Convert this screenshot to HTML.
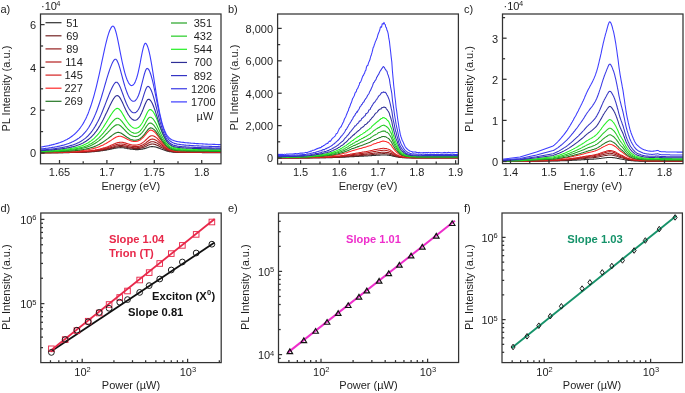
<!DOCTYPE html>
<html><head><meta charset="utf-8"><style>
html,body{margin:0;padding:0;background:#fff;}
body{width:685px;height:393px;overflow:hidden;}
svg{display:block;font-family:"Liberation Sans", sans-serif;will-change:transform;}
</style></head><body>
<svg width="685" height="393" viewBox="0 0 685 393">
<rect width="685" height="393" fill="#fff"/>
<clipPath id="ca"><rect x="40.5" y="14.0" width="180.5" height="149.8"/></clipPath>
<g clip-path="url(#ca)">
<polyline points="40.5,152.8 41.2,152.8 41.9,152.8 42.6,152.8 43.3,152.8 44.0,152.8 44.7,152.8 45.4,152.8 46.1,152.8 46.8,152.8 47.5,152.8 48.2,152.8 48.9,152.8 49.6,152.7 50.3,152.7 51.0,152.7 51.7,152.7 52.4,152.7 53.1,152.7 53.8,152.7 54.5,152.7 55.2,152.7 55.9,152.7 56.6,152.7 57.3,152.7 58.0,152.7 58.7,152.7 59.4,152.7 60.1,152.7 60.8,152.7 61.5,152.6 62.2,152.6 62.9,152.6 63.6,152.6 64.2,152.6 64.9,152.6 65.6,152.6 66.3,152.6 67.0,152.6 67.7,152.6 68.4,152.6 69.1,152.6 69.8,152.5 70.5,152.5 71.2,152.5 71.9,152.5 72.6,152.5 73.3,152.5 74.0,152.5 74.7,152.5 75.4,152.4 76.1,152.4 76.8,152.4 77.5,152.4 78.2,152.4 78.9,152.3 79.6,152.3 80.3,152.3 81.0,152.3 81.7,152.3 82.4,152.2 83.1,152.2 83.8,152.2 84.5,152.2 85.2,152.1 85.9,152.1 86.6,152.1 87.3,152.0 88.0,152.0 88.7,152.0 89.3,151.9 90.0,151.9 90.7,151.8 91.4,151.8 92.1,151.7 92.8,151.7 93.5,151.6 94.2,151.6 94.9,151.5 95.6,151.5 96.3,151.4 97.0,151.3 97.7,151.2 98.4,151.2 99.1,151.1 99.8,151.0 100.5,150.9 101.2,150.8 101.9,150.7 102.6,150.6 103.3,150.5 104.0,150.4 104.7,150.3 105.4,150.2 106.1,150.1 106.8,149.9 107.5,149.8 108.2,149.7 108.9,149.5 109.6,149.4 110.3,149.3 111.0,149.1 111.7,149.0 112.4,148.8 113.1,148.6 113.8,148.5 114.5,148.3 115.1,148.2 115.8,148.1 116.5,148.0 117.2,147.9 117.9,147.8 118.6,147.7 119.3,147.7 120.0,147.7 120.7,147.6 121.4,147.7 122.1,147.7 122.8,147.8 123.5,147.8 124.2,147.9 124.9,148.1 125.6,148.2 126.3,148.3 127.0,148.4 127.7,148.6 128.4,148.7 129.1,148.8 129.8,148.9 130.5,149.1 131.2,149.2 131.9,149.3 132.6,149.3 133.3,149.4 134.0,149.5 134.7,149.5 135.4,149.6 136.1,149.6 136.8,149.6 137.5,149.6 138.2,149.6 138.9,149.5 139.6,149.5 140.3,149.4 140.9,149.3 141.6,149.2 142.3,149.1 143.0,148.9 143.7,148.8 144.4,148.6 145.1,148.4 145.8,148.2 146.5,147.9 147.2,147.7 147.9,147.5 148.6,147.2 149.3,147.0 150.0,146.8 150.7,146.7 151.4,146.6 152.1,146.6 152.8,146.6 153.5,146.7 154.2,146.8 154.9,146.9 155.6,147.0 156.3,147.2 157.0,147.4 157.7,147.6 158.4,147.9 159.1,148.1 159.8,148.4 160.5,148.7 161.2,149.0 161.9,149.2 162.6,149.5 163.3,149.8 164.0,150.0 164.7,150.3 165.4,150.5 166.0,150.7 166.7,150.9 167.4,151.1 168.1,151.3 168.8,151.4 169.5,151.6 170.2,151.7 170.9,151.8 171.6,151.9 172.3,152.0 173.0,152.1 173.7,152.1 174.4,152.2 175.1,152.2 175.8,152.3 176.5,152.3 177.2,152.3 177.9,152.4 178.6,152.4 179.3,152.4 180.0,152.4 180.7,152.4 181.4,152.4 182.1,152.4 182.8,152.5 183.5,152.5 184.2,152.5 184.9,152.5 185.6,152.5 186.3,152.5 187.0,152.5 187.7,152.5 188.4,152.5 189.1,152.5 189.8,152.5 190.5,152.5 191.2,152.5 191.8,152.5 192.5,152.5 193.2,152.5 193.9,152.5 194.6,152.5 195.3,152.5 196.0,152.5 196.7,152.5 197.4,152.5 198.1,152.5 198.8,152.5 199.5,152.5 200.2,152.5 200.9,152.5 201.6,152.5 202.3,152.6 203.0,152.6 203.7,152.6 204.4,152.6 205.1,152.6 205.8,152.6 206.5,152.6 207.2,152.6 207.9,152.6 208.6,152.6 209.3,152.6 210.0,152.6 210.7,152.6 211.4,152.6 212.1,152.6 212.8,152.6 213.5,152.6 214.2,152.6 214.9,152.6 215.6,152.6 216.3,152.6 217.0,152.6 217.6,152.6 218.3,152.6 219.0,152.6 219.7,152.6 220.4,152.6 221.1,152.6" fill="none" stroke="#303030" stroke-width="1.1" stroke-linejoin="round" />
<polyline points="40.5,152.8 41.2,152.8 41.9,152.7 42.6,152.7 43.3,152.7 44.0,152.7 44.7,152.7 45.4,152.7 46.1,152.7 46.8,152.7 47.5,152.7 48.2,152.7 48.9,152.7 49.6,152.7 50.3,152.7 51.0,152.7 51.7,152.7 52.4,152.7 53.1,152.7 53.8,152.7 54.5,152.7 55.2,152.6 55.9,152.6 56.6,152.6 57.3,152.6 58.0,152.6 58.7,152.6 59.4,152.6 60.1,152.6 60.8,152.6 61.5,152.6 62.2,152.6 62.9,152.6 63.6,152.5 64.2,152.5 64.9,152.5 65.6,152.5 66.3,152.5 67.0,152.5 67.7,152.5 68.4,152.5 69.1,152.5 69.8,152.4 70.5,152.4 71.2,152.4 71.9,152.4 72.6,152.4 73.3,152.4 74.0,152.4 74.7,152.3 75.4,152.3 76.1,152.3 76.8,152.3 77.5,152.3 78.2,152.2 78.9,152.2 79.6,152.2 80.3,152.2 81.0,152.1 81.7,152.1 82.4,152.1 83.1,152.1 83.8,152.0 84.5,152.0 85.2,152.0 85.9,151.9 86.6,151.9 87.3,151.8 88.0,151.8 88.7,151.8 89.3,151.7 90.0,151.7 90.7,151.6 91.4,151.6 92.1,151.5 92.8,151.4 93.5,151.4 94.2,151.3 94.9,151.2 95.6,151.2 96.3,151.1 97.0,151.0 97.7,150.9 98.4,150.8 99.1,150.7 99.8,150.6 100.5,150.5 101.2,150.4 101.9,150.3 102.6,150.2 103.3,150.0 104.0,149.9 104.7,149.8 105.4,149.6 106.1,149.5 106.8,149.4 107.5,149.2 108.2,149.0 108.9,148.9 109.6,148.7 110.3,148.5 111.0,148.4 111.7,148.2 112.4,148.0 113.1,147.8 113.8,147.6 114.5,147.4 115.1,147.3 115.8,147.1 116.5,147.0 117.2,146.9 117.9,146.8 118.6,146.7 119.3,146.6 120.0,146.6 120.7,146.6 121.4,146.6 122.1,146.6 122.8,146.7 123.5,146.8 124.2,146.9 124.9,147.0 125.6,147.2 126.3,147.3 127.0,147.5 127.7,147.6 128.4,147.7 129.1,147.9 129.8,148.0 130.5,148.1 131.2,148.2 131.9,148.3 132.6,148.4 133.3,148.5 134.0,148.6 134.7,148.6 135.4,148.6 136.1,148.6 136.8,148.6 137.5,148.6 138.2,148.5 138.9,148.4 139.6,148.4 140.3,148.2 140.9,148.1 141.6,147.9 142.3,147.7 143.0,147.5 143.7,147.3 144.4,147.0 145.1,146.7 145.8,146.4 146.5,146.0 147.2,145.7 147.9,145.3 148.6,145.0 149.3,144.7 150.0,144.4 150.7,144.2 151.4,144.1 152.1,144.0 152.8,144.0 153.5,144.1 154.2,144.2 154.9,144.4 155.6,144.6 156.3,144.9 157.0,145.2 157.7,145.5 158.4,145.8 159.1,146.2 159.8,146.6 160.5,147.0 161.2,147.4 161.9,147.8 162.6,148.1 163.3,148.5 164.0,148.9 164.7,149.2 165.4,149.6 166.0,149.9 166.7,150.1 167.4,150.4 168.1,150.7 168.8,150.9 169.5,151.1 170.2,151.2 170.9,151.4 171.6,151.5 172.3,151.7 173.0,151.8 173.7,151.9 174.4,151.9 175.1,152.0 175.8,152.1 176.5,152.1 177.2,152.1 177.9,152.2 178.6,152.2 179.3,152.2 180.0,152.3 180.7,152.3 181.4,152.3 182.1,152.3 182.8,152.3 183.5,152.3 184.2,152.3 184.9,152.3 185.6,152.3 186.3,152.3 187.0,152.4 187.7,152.4 188.4,152.4 189.1,152.4 189.8,152.4 190.5,152.4 191.2,152.4 191.8,152.4 192.5,152.4 193.2,152.4 193.9,152.4 194.6,152.4 195.3,152.4 196.0,152.4 196.7,152.4 197.4,152.4 198.1,152.4 198.8,152.4 199.5,152.4 200.2,152.4 200.9,152.4 201.6,152.4 202.3,152.4 203.0,152.4 203.7,152.4 204.4,152.4 205.1,152.4 205.8,152.4 206.5,152.4 207.2,152.4 207.9,152.4 208.6,152.4 209.3,152.4 210.0,152.4 210.7,152.5 211.4,152.5 212.1,152.5 212.8,152.5 213.5,152.5 214.2,152.5 214.9,152.5 215.6,152.5 216.3,152.5 217.0,152.5 217.6,152.5 218.3,152.5 219.0,152.5 219.7,152.5 220.4,152.5 221.1,152.5" fill="none" stroke="#742222" stroke-width="1.1" stroke-linejoin="round" />
<polyline points="40.5,152.7 41.2,152.7 41.9,152.7 42.6,152.7 43.3,152.7 44.0,152.7 44.7,152.7 45.4,152.7 46.1,152.7 46.8,152.7 47.5,152.7 48.2,152.7 48.9,152.6 49.6,152.6 50.3,152.6 51.0,152.6 51.7,152.6 52.4,152.6 53.1,152.6 53.8,152.6 54.5,152.6 55.2,152.6 55.9,152.6 56.6,152.6 57.3,152.6 58.0,152.6 58.7,152.5 59.4,152.5 60.1,152.5 60.8,152.5 61.5,152.5 62.2,152.5 62.9,152.5 63.6,152.5 64.2,152.5 64.9,152.4 65.6,152.4 66.3,152.4 67.0,152.4 67.7,152.4 68.4,152.4 69.1,152.4 69.8,152.3 70.5,152.3 71.2,152.3 71.9,152.3 72.6,152.3 73.3,152.3 74.0,152.2 74.7,152.2 75.4,152.2 76.1,152.2 76.8,152.2 77.5,152.1 78.2,152.1 78.9,152.1 79.6,152.1 80.3,152.0 81.0,152.0 81.7,152.0 82.4,151.9 83.1,151.9 83.8,151.9 84.5,151.8 85.2,151.8 85.9,151.7 86.6,151.7 87.3,151.7 88.0,151.6 88.7,151.6 89.3,151.5 90.0,151.4 90.7,151.4 91.4,151.3 92.1,151.2 92.8,151.2 93.5,151.1 94.2,151.0 94.9,150.9 95.6,150.9 96.3,150.8 97.0,150.7 97.7,150.6 98.4,150.5 99.1,150.3 99.8,150.2 100.5,150.1 101.2,150.0 101.9,149.9 102.6,149.7 103.3,149.6 104.0,149.4 104.7,149.3 105.4,149.1 106.1,148.9 106.8,148.8 107.5,148.6 108.2,148.4 108.9,148.2 109.6,148.0 110.3,147.8 111.0,147.6 111.7,147.4 112.4,147.2 113.1,147.0 113.8,146.7 114.5,146.5 115.1,146.3 115.8,146.1 116.5,146.0 117.2,145.8 117.9,145.7 118.6,145.6 119.3,145.6 120.0,145.5 120.7,145.5 121.4,145.5 122.1,145.6 122.8,145.6 123.5,145.7 124.2,145.9 124.9,146.0 125.6,146.1 126.3,146.3 127.0,146.5 127.7,146.6 128.4,146.8 129.1,147.0 129.8,147.1 130.5,147.2 131.2,147.4 131.9,147.5 132.6,147.5 133.3,147.6 134.0,147.7 134.7,147.7 135.4,147.7 136.1,147.7 136.8,147.7 137.5,147.6 138.2,147.5 138.9,147.4 139.6,147.3 140.3,147.1 140.9,147.0 141.6,146.7 142.3,146.5 143.0,146.2 143.7,145.9 144.4,145.5 145.1,145.1 145.8,144.7 146.5,144.3 147.2,143.8 147.9,143.4 148.6,142.9 149.3,142.5 150.0,142.2 150.7,141.9 151.4,141.7 152.1,141.7 152.8,141.7 153.5,141.8 154.2,141.9 154.9,142.2 155.6,142.4 156.3,142.8 157.0,143.1 157.7,143.5 158.4,144.0 159.1,144.4 159.8,144.9 160.5,145.4 161.2,145.9 161.9,146.4 162.6,146.9 163.3,147.4 164.0,147.8 164.7,148.3 165.4,148.7 166.0,149.1 166.7,149.4 167.4,149.8 168.1,150.1 168.8,150.3 169.5,150.6 170.2,150.8 170.9,151.0 171.6,151.2 172.3,151.3 173.0,151.5 173.7,151.6 174.4,151.7 175.1,151.8 175.8,151.8 176.5,151.9 177.2,152.0 177.9,152.0 178.6,152.0 179.3,152.1 180.0,152.1 180.7,152.1 181.4,152.1 182.1,152.2 182.8,152.2 183.5,152.2 184.2,152.2 184.9,152.2 185.6,152.2 186.3,152.2 187.0,152.2 187.7,152.2 188.4,152.2 189.1,152.2 189.8,152.2 190.5,152.2 191.2,152.3 191.8,152.3 192.5,152.3 193.2,152.3 193.9,152.3 194.6,152.3 195.3,152.3 196.0,152.3 196.7,152.3 197.4,152.3 198.1,152.3 198.8,152.3 199.5,152.3 200.2,152.3 200.9,152.3 201.6,152.3 202.3,152.3 203.0,152.3 203.7,152.3 204.4,152.3 205.1,152.3 205.8,152.3 206.5,152.3 207.2,152.3 207.9,152.3 208.6,152.3 209.3,152.3 210.0,152.3 210.7,152.3 211.4,152.3 212.1,152.3 212.8,152.3 213.5,152.3 214.2,152.3 214.9,152.3 215.6,152.3 216.3,152.4 217.0,152.4 217.6,152.4 218.3,152.4 219.0,152.4 219.7,152.4 220.4,152.4 221.1,152.4" fill="none" stroke="#941e1e" stroke-width="1.1" stroke-linejoin="round" />
<polyline points="40.5,152.7 41.2,152.6 41.9,152.6 42.6,152.6 43.3,152.6 44.0,152.6 44.7,152.6 45.4,152.6 46.1,152.6 46.8,152.6 47.5,152.6 48.2,152.6 48.9,152.6 49.6,152.6 50.3,152.6 51.0,152.6 51.7,152.5 52.4,152.5 53.1,152.5 53.8,152.5 54.5,152.5 55.2,152.5 55.9,152.5 56.6,152.5 57.3,152.5 58.0,152.5 58.7,152.4 59.4,152.4 60.1,152.4 60.8,152.4 61.5,152.4 62.2,152.4 62.9,152.4 63.6,152.4 64.2,152.3 64.9,152.3 65.6,152.3 66.3,152.3 67.0,152.3 67.7,152.3 68.4,152.3 69.1,152.2 69.8,152.2 70.5,152.2 71.2,152.2 71.9,152.2 72.6,152.1 73.3,152.1 74.0,152.1 74.7,152.1 75.4,152.0 76.1,152.0 76.8,152.0 77.5,152.0 78.2,151.9 78.9,151.9 79.6,151.9 80.3,151.8 81.0,151.8 81.7,151.8 82.4,151.7 83.1,151.7 83.8,151.6 84.5,151.6 85.2,151.5 85.9,151.5 86.6,151.4 87.3,151.4 88.0,151.3 88.7,151.3 89.3,151.2 90.0,151.1 90.7,151.1 91.4,151.0 92.1,150.9 92.8,150.8 93.5,150.7 94.2,150.6 94.9,150.5 95.6,150.4 96.3,150.3 97.0,150.2 97.7,150.1 98.4,150.0 99.1,149.8 99.8,149.7 100.5,149.5 101.2,149.4 101.9,149.2 102.6,149.1 103.3,148.9 104.0,148.7 104.7,148.5 105.4,148.3 106.1,148.1 106.8,147.9 107.5,147.7 108.2,147.5 108.9,147.3 109.6,147.0 110.3,146.8 111.0,146.5 111.7,146.3 112.4,146.0 113.1,145.7 113.8,145.5 114.5,145.2 115.1,145.0 115.8,144.8 116.5,144.6 117.2,144.4 117.9,144.3 118.6,144.2 119.3,144.1 120.0,144.0 120.7,144.0 121.4,144.0 122.1,144.1 122.8,144.2 123.5,144.3 124.2,144.4 124.9,144.6 125.6,144.8 126.3,145.0 127.0,145.2 127.7,145.3 128.4,145.5 129.1,145.7 129.8,145.9 130.5,146.0 131.2,146.2 131.9,146.3 132.6,146.4 133.3,146.5 134.0,146.6 134.7,146.6 135.4,146.6 136.1,146.6 136.8,146.5 137.5,146.5 138.2,146.4 138.9,146.2 139.6,146.1 140.3,145.9 140.9,145.6 141.6,145.4 142.3,145.0 143.0,144.7 143.7,144.3 144.4,143.8 145.1,143.4 145.8,142.9 146.5,142.3 147.2,141.8 147.9,141.2 148.6,140.7 149.3,140.2 150.0,139.7 150.7,139.4 151.4,139.2 152.1,139.1 152.8,139.1 153.5,139.2 154.2,139.4 154.9,139.7 155.6,140.0 156.3,140.4 157.0,140.9 157.7,141.4 158.4,141.9 159.1,142.5 159.8,143.1 160.5,143.7 161.2,144.3 161.9,144.9 162.6,145.5 163.3,146.1 164.0,146.7 164.7,147.2 165.4,147.7 166.0,148.2 166.7,148.6 167.4,149.0 168.1,149.4 168.8,149.8 169.5,150.1 170.2,150.3 170.9,150.6 171.6,150.8 172.3,151.0 173.0,151.2 173.7,151.3 174.4,151.4 175.1,151.5 175.8,151.6 176.5,151.7 177.2,151.7 177.9,151.8 178.6,151.8 179.3,151.9 180.0,151.9 180.7,151.9 181.4,152.0 182.1,152.0 182.8,152.0 183.5,152.0 184.2,152.0 184.9,152.0 185.6,152.0 186.3,152.1 187.0,152.1 187.7,152.1 188.4,152.1 189.1,152.1 189.8,152.1 190.5,152.1 191.2,152.1 191.8,152.1 192.5,152.1 193.2,152.1 193.9,152.1 194.6,152.1 195.3,152.1 196.0,152.1 196.7,152.1 197.4,152.1 198.1,152.1 198.8,152.1 199.5,152.1 200.2,152.2 200.9,152.2 201.6,152.2 202.3,152.2 203.0,152.2 203.7,152.2 204.4,152.2 205.1,152.2 205.8,152.2 206.5,152.2 207.2,152.2 207.9,152.2 208.6,152.2 209.3,152.2 210.0,152.2 210.7,152.2 211.4,152.2 212.1,152.2 212.8,152.2 213.5,152.2 214.2,152.2 214.9,152.2 215.6,152.2 216.3,152.2 217.0,152.2 217.6,152.2 218.3,152.2 219.0,152.2 219.7,152.2 220.4,152.2 221.1,152.2" fill="none" stroke="#b41e1e" stroke-width="1.1" stroke-linejoin="round" />
<polyline points="40.5,152.6 41.2,152.6 41.9,152.6 42.6,152.6 43.3,152.6 44.0,152.5 44.7,152.5 45.4,152.5 46.1,152.5 46.8,152.5 47.5,152.5 48.2,152.5 48.9,152.5 49.6,152.5 50.3,152.5 51.0,152.5 51.7,152.5 52.4,152.4 53.1,152.4 53.8,152.4 54.5,152.4 55.2,152.4 55.9,152.4 56.6,152.4 57.3,152.4 58.0,152.4 58.7,152.3 59.4,152.3 60.1,152.3 60.8,152.3 61.5,152.3 62.2,152.3 62.9,152.3 63.6,152.2 64.2,152.2 64.9,152.2 65.6,152.2 66.3,152.2 67.0,152.2 67.7,152.1 68.4,152.1 69.1,152.1 69.8,152.1 70.5,152.0 71.2,152.0 71.9,152.0 72.6,152.0 73.3,151.9 74.0,151.9 74.7,151.9 75.4,151.9 76.1,151.8 76.8,151.8 77.5,151.8 78.2,151.7 78.9,151.7 79.6,151.7 80.3,151.6 81.0,151.6 81.7,151.5 82.4,151.5 83.1,151.4 83.8,151.4 84.5,151.3 85.2,151.3 85.9,151.2 86.6,151.1 87.3,151.1 88.0,151.0 88.7,150.9 89.3,150.9 90.0,150.8 90.7,150.7 91.4,150.6 92.1,150.5 92.8,150.4 93.5,150.3 94.2,150.2 94.9,150.1 95.6,149.9 96.3,149.8 97.0,149.7 97.7,149.5 98.4,149.4 99.1,149.2 99.8,149.1 100.5,148.9 101.2,148.7 101.9,148.5 102.6,148.3 103.3,148.1 104.0,147.9 104.7,147.7 105.4,147.5 106.1,147.2 106.8,147.0 107.5,146.7 108.2,146.5 108.9,146.2 109.6,145.9 110.3,145.6 111.0,145.3 111.7,145.0 112.4,144.7 113.1,144.4 113.8,144.1 114.5,143.8 115.1,143.5 115.8,143.2 116.5,143.0 117.2,142.8 117.9,142.6 118.6,142.5 119.3,142.4 120.0,142.3 120.7,142.3 121.4,142.3 122.1,142.3 122.8,142.4 123.5,142.6 124.2,142.8 124.9,142.9 125.6,143.1 126.3,143.4 127.0,143.6 127.7,143.8 128.4,144.0 129.1,144.2 129.8,144.4 130.5,144.6 131.2,144.7 131.9,144.9 132.6,145.0 133.3,145.1 134.0,145.1 134.7,145.1 135.4,145.1 136.1,145.1 136.8,145.0 137.5,144.9 138.2,144.7 138.9,144.5 139.6,144.3 140.3,144.0 140.9,143.7 141.6,143.3 142.3,142.9 143.0,142.4 143.7,141.9 144.4,141.3 145.1,140.7 145.8,140.0 146.5,139.3 147.2,138.6 147.9,138.0 148.6,137.3 149.3,136.7 150.0,136.2 150.7,135.9 151.4,135.7 152.1,135.7 152.8,135.8 153.5,136.0 154.2,136.3 154.9,136.7 155.6,137.1 156.3,137.6 157.0,138.2 157.7,138.9 158.4,139.6 159.1,140.3 159.8,141.1 160.5,141.8 161.2,142.6 161.9,143.3 162.6,144.1 163.3,144.8 164.0,145.5 164.7,146.1 165.4,146.8 166.0,147.3 166.7,147.9 167.4,148.4 168.1,148.8 168.8,149.2 169.5,149.6 170.2,149.9 170.9,150.2 171.6,150.4 172.3,150.6 173.0,150.8 173.7,151.0 174.4,151.1 175.1,151.2 175.8,151.3 176.5,151.4 177.2,151.5 177.9,151.6 178.6,151.6 179.3,151.7 180.0,151.7 180.7,151.7 181.4,151.7 182.1,151.8 182.8,151.8 183.5,151.8 184.2,151.8 184.9,151.8 185.6,151.8 186.3,151.9 187.0,151.9 187.7,151.9 188.4,151.9 189.1,151.9 189.8,151.9 190.5,151.9 191.2,151.9 191.8,151.9 192.5,151.9 193.2,151.9 193.9,151.9 194.6,151.9 195.3,151.9 196.0,151.9 196.7,151.9 197.4,152.0 198.1,152.0 198.8,152.0 199.5,152.0 200.2,152.0 200.9,152.0 201.6,152.0 202.3,152.0 203.0,152.0 203.7,152.0 204.4,152.0 205.1,152.0 205.8,152.0 206.5,152.0 207.2,152.0 207.9,152.0 208.6,152.0 209.3,152.0 210.0,152.0 210.7,152.0 211.4,152.0 212.1,152.0 212.8,152.0 213.5,152.0 214.2,152.0 214.9,152.0 215.6,152.0 216.3,152.0 217.0,152.0 217.6,152.0 218.3,152.1 219.0,152.1 219.7,152.1 220.4,152.1 221.1,152.1" fill="none" stroke="#d42020" stroke-width="1.1" stroke-linejoin="round" />
<polyline points="40.5,152.3 41.2,152.3 41.9,152.3 42.6,152.3 43.3,152.3 44.0,152.3 44.7,152.3 45.4,152.3 46.1,152.3 46.8,152.2 47.5,152.2 48.2,152.2 48.9,152.2 49.6,152.2 50.3,152.2 51.0,152.2 51.7,152.1 52.4,152.1 53.1,152.1 53.8,152.1 54.5,152.1 55.2,152.1 55.9,152.0 56.6,152.0 57.3,152.0 58.0,152.0 58.7,152.0 59.4,151.9 60.1,151.9 60.8,151.9 61.5,151.9 62.2,151.8 62.9,151.8 63.6,151.8 64.2,151.8 64.9,151.7 65.6,151.7 66.3,151.7 67.0,151.6 67.7,151.6 68.4,151.6 69.1,151.5 69.8,151.5 70.5,151.5 71.2,151.4 71.9,151.4 72.6,151.3 73.3,151.3 74.0,151.3 74.7,151.2 75.4,151.2 76.1,151.1 76.8,151.1 77.5,151.0 78.2,150.9 78.9,150.9 79.6,150.8 80.3,150.7 81.0,150.7 81.7,150.6 82.4,150.5 83.1,150.4 83.8,150.4 84.5,150.3 85.2,150.2 85.9,150.1 86.6,150.0 87.3,149.8 88.0,149.7 88.7,149.6 89.3,149.5 90.0,149.3 90.7,149.2 91.4,149.0 92.1,148.9 92.8,148.7 93.5,148.5 94.2,148.3 94.9,148.1 95.6,147.9 96.3,147.7 97.0,147.5 97.7,147.2 98.4,147.0 99.1,146.7 99.8,146.4 100.5,146.1 101.2,145.8 101.9,145.5 102.6,145.2 103.3,144.9 104.0,144.5 104.7,144.1 105.4,143.8 106.1,143.4 106.8,143.0 107.5,142.6 108.2,142.1 108.9,141.7 109.6,141.3 110.3,140.8 111.0,140.4 111.7,139.9 112.4,139.4 113.1,138.9 113.8,138.5 114.5,138.1 115.1,137.7 115.8,137.3 116.5,137.0 117.2,136.7 117.9,136.5 118.6,136.4 119.3,136.3 120.0,136.3 120.7,136.3 121.4,136.5 122.1,136.7 122.8,136.9 123.5,137.2 124.2,137.6 124.9,137.9 125.6,138.3 126.3,138.7 127.0,139.1 127.7,139.4 128.4,139.8 129.1,140.1 129.8,140.4 130.5,140.7 131.2,140.9 131.9,141.1 132.6,141.3 133.3,141.4 134.0,141.5 134.7,141.5 135.4,141.5 136.1,141.4 136.8,141.3 137.5,141.1 138.2,140.9 138.9,140.6 139.6,140.3 140.3,139.9 140.9,139.4 141.6,138.8 142.3,138.2 143.0,137.5 143.7,136.8 144.4,136.0 145.1,135.1 145.8,134.3 146.5,133.4 147.2,132.5 147.9,131.8 148.6,131.1 149.3,130.6 150.0,130.2 150.7,130.1 151.4,130.2 152.1,130.4 152.8,130.7 153.5,131.2 154.2,131.7 154.9,132.4 155.6,133.1 156.3,133.9 157.0,134.8 157.7,135.7 158.4,136.7 159.1,137.7 159.8,138.7 160.5,139.7 161.2,140.7 161.9,141.6 162.6,142.5 163.3,143.4 164.0,144.2 164.7,145.0 165.4,145.7 166.0,146.4 166.7,147.0 167.4,147.6 168.1,148.1 168.8,148.5 169.5,148.9 170.2,149.2 170.9,149.5 171.6,149.8 172.3,150.0 173.0,150.2 173.7,150.4 174.4,150.6 175.1,150.7 175.8,150.8 176.5,150.9 177.2,150.9 177.9,151.0 178.6,151.1 179.3,151.1 180.0,151.1 180.7,151.2 181.4,151.2 182.1,151.2 182.8,151.3 183.5,151.3 184.2,151.3 184.9,151.3 185.6,151.3 186.3,151.3 187.0,151.3 187.7,151.4 188.4,151.4 189.1,151.4 189.8,151.4 190.5,151.4 191.2,151.4 191.8,151.4 192.5,151.4 193.2,151.4 193.9,151.4 194.6,151.5 195.3,151.5 196.0,151.5 196.7,151.5 197.4,151.5 198.1,151.5 198.8,151.5 199.5,151.5 200.2,151.5 200.9,151.5 201.6,151.5 202.3,151.5 203.0,151.5 203.7,151.5 204.4,151.5 205.1,151.6 205.8,151.6 206.5,151.6 207.2,151.6 207.9,151.6 208.6,151.6 209.3,151.6 210.0,151.6 210.7,151.6 211.4,151.6 212.1,151.6 212.8,151.6 213.5,151.6 214.2,151.6 214.9,151.6 215.6,151.6 216.3,151.6 217.0,151.6 217.6,151.6 218.3,151.6 219.0,151.6 219.7,151.6 220.4,151.6 221.1,151.6" fill="none" stroke="#ff2828" stroke-width="1.1" stroke-linejoin="round" />
<polyline points="40.5,152.2 41.2,152.2 41.9,152.1 42.6,152.1 43.3,152.1 44.0,152.1 44.7,152.1 45.4,152.1 46.1,152.0 46.8,152.0 47.5,152.0 48.2,152.0 48.9,152.0 49.6,152.0 50.3,151.9 51.0,151.9 51.7,151.9 52.4,151.9 53.1,151.9 53.8,151.8 54.5,151.8 55.2,151.8 55.9,151.8 56.6,151.7 57.3,151.7 58.0,151.7 58.7,151.7 59.4,151.6 60.1,151.6 60.8,151.6 61.5,151.5 62.2,151.5 62.9,151.5 63.6,151.4 64.2,151.4 64.9,151.4 65.6,151.3 66.3,151.3 67.0,151.2 67.7,151.2 68.4,151.2 69.1,151.1 69.8,151.1 70.5,151.0 71.2,151.0 71.9,150.9 72.6,150.8 73.3,150.8 74.0,150.7 74.7,150.7 75.4,150.6 76.1,150.5 76.8,150.4 77.5,150.4 78.2,150.3 78.9,150.2 79.6,150.1 80.3,150.0 81.0,149.9 81.7,149.8 82.4,149.7 83.1,149.6 83.8,149.5 84.5,149.3 85.2,149.2 85.9,149.1 86.6,148.9 87.3,148.8 88.0,148.6 88.7,148.4 89.3,148.2 90.0,148.0 90.7,147.8 91.4,147.6 92.1,147.4 92.8,147.2 93.5,146.9 94.2,146.6 94.9,146.4 95.6,146.1 96.3,145.8 97.0,145.4 97.7,145.1 98.4,144.8 99.1,144.4 99.8,144.0 100.5,143.6 101.2,143.2 101.9,142.8 102.6,142.3 103.3,141.9 104.0,141.4 104.7,140.9 105.4,140.4 106.1,139.9 106.8,139.4 107.5,138.9 108.2,138.4 108.9,137.8 109.6,137.3 110.3,136.7 111.0,136.2 111.7,135.7 112.4,135.1 113.1,134.6 113.8,134.1 114.5,133.7 115.1,133.3 115.8,133.0 116.5,132.7 117.2,132.5 117.9,132.4 118.6,132.4 119.3,132.5 120.0,132.7 120.7,133.0 121.4,133.3 122.1,133.8 122.8,134.2 123.5,134.7 124.2,135.2 124.9,135.7 125.6,136.3 126.3,136.8 127.0,137.3 127.7,137.7 128.4,138.1 129.1,138.5 129.8,138.9 130.5,139.2 131.2,139.5 131.9,139.7 132.6,139.9 133.3,140.1 134.0,140.2 134.7,140.2 135.4,140.2 136.1,140.1 136.8,140.0 137.5,139.8 138.2,139.6 138.9,139.3 139.6,138.9 140.3,138.5 140.9,138.0 141.6,137.4 142.3,136.7 143.0,136.0 143.7,135.2 144.4,134.3 145.1,133.4 145.8,132.4 146.5,131.5 147.2,130.6 147.9,129.7 148.6,129.0 149.3,128.4 150.0,128.1 150.7,127.9 151.4,128.0 152.1,128.3 152.8,128.6 153.5,129.1 154.2,129.7 154.9,130.4 155.6,131.2 156.3,132.1 157.0,133.1 157.7,134.1 158.4,135.2 159.1,136.2 159.8,137.3 160.5,138.4 161.2,139.4 161.9,140.5 162.6,141.5 163.3,142.4 164.0,143.3 164.7,144.2 165.4,144.9 166.0,145.7 166.7,146.3 167.4,146.9 168.1,147.5 168.8,148.0 169.5,148.4 170.2,148.8 170.9,149.1 171.6,149.4 172.3,149.6 173.0,149.8 173.7,150.0 174.4,150.2 175.1,150.3 175.8,150.4 176.5,150.5 177.2,150.6 177.9,150.7 178.6,150.7 179.3,150.8 180.0,150.8 180.7,150.9 181.4,150.9 182.1,150.9 182.8,151.0 183.5,151.0 184.2,151.0 184.9,151.0 185.6,151.0 186.3,151.1 187.0,151.1 187.7,151.1 188.4,151.1 189.1,151.1 189.8,151.1 190.5,151.1 191.2,151.1 191.8,151.2 192.5,151.2 193.2,151.2 193.9,151.2 194.6,151.2 195.3,151.2 196.0,151.2 196.7,151.2 197.4,151.2 198.1,151.2 198.8,151.2 199.5,151.3 200.2,151.3 200.9,151.3 201.6,151.3 202.3,151.3 203.0,151.3 203.7,151.3 204.4,151.3 205.1,151.3 205.8,151.3 206.5,151.3 207.2,151.3 207.9,151.3 208.6,151.3 209.3,151.3 210.0,151.4 210.7,151.4 211.4,151.4 212.1,151.4 212.8,151.4 213.5,151.4 214.2,151.4 214.9,151.4 215.6,151.4 216.3,151.4 217.0,151.4 217.6,151.4 218.3,151.4 219.0,151.4 219.7,151.4 220.4,151.4 221.1,151.4" fill="none" stroke="#237523" stroke-width="1.1" stroke-linejoin="round" />
<polyline points="40.5,151.9 41.2,151.8 41.9,151.8 42.6,151.8 43.3,151.8 44.0,151.7 44.7,151.7 45.4,151.7 46.1,151.7 46.8,151.7 47.5,151.6 48.2,151.6 48.9,151.6 49.6,151.6 50.3,151.5 51.0,151.5 51.7,151.5 52.4,151.4 53.1,151.4 53.8,151.4 54.5,151.3 55.2,151.3 55.9,151.3 56.6,151.2 57.3,151.2 58.0,151.2 58.7,151.1 59.4,151.1 60.1,151.0 60.8,151.0 61.5,151.0 62.2,150.9 62.9,150.9 63.6,150.8 64.2,150.8 64.9,150.7 65.6,150.7 66.3,150.6 67.0,150.5 67.7,150.5 68.4,150.4 69.1,150.3 69.8,150.3 70.5,150.2 71.2,150.1 71.9,150.0 72.6,150.0 73.3,149.9 74.0,149.8 74.7,149.7 75.4,149.6 76.1,149.5 76.8,149.4 77.5,149.3 78.2,149.2 78.9,149.0 79.6,148.9 80.3,148.8 81.0,148.6 81.7,148.5 82.4,148.3 83.1,148.1 83.8,148.0 84.5,147.8 85.2,147.6 85.9,147.4 86.6,147.2 87.3,146.9 88.0,146.7 88.7,146.4 89.3,146.2 90.0,145.9 90.7,145.6 91.4,145.3 92.1,144.9 92.8,144.6 93.5,144.2 94.2,143.8 94.9,143.4 95.6,143.0 96.3,142.6 97.0,142.1 97.7,141.6 98.4,141.1 99.1,140.6 99.8,140.0 100.5,139.5 101.2,138.9 101.9,138.3 102.6,137.6 103.3,137.0 104.0,136.3 104.7,135.6 105.4,134.9 106.1,134.2 106.8,133.5 107.5,132.8 108.2,132.0 108.9,131.3 109.6,130.6 110.3,129.8 111.0,129.1 111.7,128.4 112.4,127.7 113.1,127.1 113.8,126.5 114.5,126.0 115.1,125.5 115.8,125.1 116.5,124.9 117.2,124.7 117.9,124.7 118.6,124.8 119.3,125.1 120.0,125.5 120.7,126.0 121.4,126.6 122.1,127.3 122.8,128.0 123.5,128.7 124.2,129.5 124.9,130.2 125.6,131.0 126.3,131.7 127.0,132.4 127.7,133.0 128.4,133.6 129.1,134.2 129.8,134.7 130.5,135.1 131.2,135.5 131.9,135.8 132.6,136.1 133.3,136.3 134.0,136.5 134.7,136.5 135.4,136.6 136.1,136.5 136.8,136.4 137.5,136.2 138.2,135.9 138.9,135.5 139.6,135.1 140.3,134.5 140.9,133.9 141.6,133.2 142.3,132.4 143.0,131.5 143.7,130.6 144.4,129.5 145.1,128.5 145.8,127.4 146.5,126.3 147.2,125.3 147.9,124.5 148.6,123.7 149.3,123.3 150.0,123.0 150.7,123.1 151.4,123.3 152.1,123.7 152.8,124.3 153.5,124.9 154.2,125.7 154.9,126.7 155.6,127.7 156.3,128.8 157.0,130.0 157.7,131.2 158.4,132.5 159.1,133.7 159.8,135.0 160.5,136.3 161.2,137.5 161.9,138.7 162.6,139.8 163.3,140.9 164.0,141.9 164.7,142.9 165.4,143.7 166.0,144.6 166.7,145.3 167.4,145.9 168.1,146.5 168.8,147.1 169.5,147.5 170.2,147.9 170.9,148.3 171.6,148.6 172.3,148.9 173.0,149.1 173.7,149.3 174.4,149.5 175.1,149.6 175.8,149.8 176.5,149.9 177.2,150.0 177.9,150.0 178.6,150.1 179.3,150.2 180.0,150.2 180.7,150.2 181.4,150.3 182.1,150.3 182.8,150.3 183.5,150.4 184.2,150.4 184.9,150.4 185.6,150.4 186.3,150.5 187.0,150.5 187.7,150.5 188.4,150.5 189.1,150.5 189.8,150.5 190.5,150.6 191.2,150.6 191.8,150.6 192.5,150.6 193.2,150.6 193.9,150.6 194.6,150.6 195.3,150.7 196.0,150.7 196.7,150.7 197.4,150.7 198.1,150.7 198.8,150.7 199.5,150.7 200.2,150.7 200.9,150.8 201.6,150.8 202.3,150.8 203.0,150.8 203.7,150.8 204.4,150.8 205.1,150.8 205.8,150.8 206.5,150.8 207.2,150.8 207.9,150.8 208.6,150.8 209.3,150.9 210.0,150.9 210.7,150.9 211.4,150.9 212.1,150.9 212.8,150.9 213.5,150.9 214.2,150.9 214.9,150.9 215.6,150.9 216.3,150.9 217.0,150.9 217.6,150.9 218.3,150.9 219.0,150.9 219.7,151.0 220.4,151.0 221.1,151.0" fill="none" stroke="#26a326" stroke-width="1.1" stroke-linejoin="round" />
<polyline points="40.5,151.6 41.2,151.6 41.9,151.5 42.6,151.5 43.3,151.5 44.0,151.5 44.7,151.4 45.4,151.4 46.1,151.4 46.8,151.3 47.5,151.3 48.2,151.3 48.9,151.3 49.6,151.2 50.3,151.2 51.0,151.1 51.7,151.1 52.4,151.1 53.1,151.0 53.8,151.0 54.5,151.0 55.2,150.9 55.9,150.9 56.6,150.8 57.3,150.8 58.0,150.7 58.7,150.7 59.4,150.6 60.1,150.6 60.8,150.5 61.5,150.5 62.2,150.4 62.9,150.4 63.6,150.3 64.2,150.2 64.9,150.2 65.6,150.1 66.3,150.0 67.0,150.0 67.7,149.9 68.4,149.8 69.1,149.7 69.8,149.6 70.5,149.5 71.2,149.4 71.9,149.3 72.6,149.2 73.3,149.1 74.0,149.0 74.7,148.9 75.4,148.8 76.1,148.7 76.8,148.5 77.5,148.4 78.2,148.2 78.9,148.1 79.6,147.9 80.3,147.8 81.0,147.6 81.7,147.4 82.4,147.2 83.1,147.0 83.8,146.8 84.5,146.5 85.2,146.3 85.9,146.0 86.6,145.7 87.3,145.5 88.0,145.2 88.7,144.8 89.3,144.5 90.0,144.1 90.7,143.8 91.4,143.4 92.1,143.0 92.8,142.5 93.5,142.1 94.2,141.6 94.9,141.1 95.6,140.6 96.3,140.0 97.0,139.4 97.7,138.8 98.4,138.2 99.1,137.6 99.8,136.9 100.5,136.2 101.2,135.4 101.9,134.7 102.6,133.9 103.3,133.1 104.0,132.2 104.7,131.4 105.4,130.5 106.1,129.6 106.8,128.8 107.5,127.9 108.2,127.0 108.9,126.1 109.6,125.2 110.3,124.3 111.0,123.4 111.7,122.6 112.4,121.8 113.1,121.0 113.8,120.3 114.5,119.6 115.1,119.1 115.8,118.7 116.5,118.4 117.2,118.3 117.9,118.3 118.6,118.5 119.3,118.9 120.0,119.4 120.7,120.1 121.4,120.9 122.1,121.7 122.8,122.6 123.5,123.5 124.2,124.4 124.9,125.4 125.6,126.3 126.3,127.2 127.0,128.0 127.7,128.8 128.4,129.5 129.1,130.2 129.8,130.8 130.5,131.4 131.2,131.9 131.9,132.3 132.6,132.6 133.3,132.9 134.0,133.1 134.7,133.2 135.4,133.2 136.1,133.1 136.8,133.0 137.5,132.8 138.2,132.4 138.9,132.0 139.6,131.5 140.3,130.9 140.9,130.1 141.6,129.3 142.3,128.3 143.0,127.3 143.7,126.2 144.4,124.9 145.1,123.7 145.8,122.4 146.5,121.1 147.2,120.0 147.9,118.9 148.6,118.1 149.3,117.5 150.0,117.2 150.7,117.3 151.4,117.6 152.1,118.1 152.8,118.7 153.5,119.5 154.2,120.5 154.9,121.6 155.6,122.8 156.3,124.1 157.0,125.5 157.7,127.0 158.4,128.5 159.1,130.0 159.8,131.5 160.5,133.0 161.2,134.5 161.9,135.9 162.6,137.2 163.3,138.5 164.0,139.7 164.7,140.9 165.4,141.9 166.0,142.9 166.7,143.7 167.4,144.5 168.1,145.2 168.8,145.9 169.5,146.4 170.2,146.9 170.9,147.3 171.6,147.7 172.3,148.0 173.0,148.3 173.7,148.5 174.4,148.7 175.1,148.9 175.8,149.1 176.5,149.2 177.2,149.3 177.9,149.4 178.6,149.5 179.3,149.5 180.0,149.6 180.7,149.7 181.4,149.7 182.1,149.7 182.8,149.8 183.5,149.8 184.2,149.8 184.9,149.9 185.6,149.9 186.3,149.9 187.0,149.9 187.7,150.0 188.4,150.0 189.1,150.0 189.8,150.0 190.5,150.0 191.2,150.1 191.8,150.1 192.5,150.1 193.2,150.1 193.9,150.1 194.6,150.1 195.3,150.2 196.0,150.2 196.7,150.2 197.4,150.2 198.1,150.2 198.8,150.2 199.5,150.2 200.2,150.3 200.9,150.3 201.6,150.3 202.3,150.3 203.0,150.3 203.7,150.3 204.4,150.3 205.1,150.3 205.8,150.3 206.5,150.4 207.2,150.4 207.9,150.4 208.6,150.4 209.3,150.4 210.0,150.4 210.7,150.4 211.4,150.4 212.1,150.4 212.8,150.4 213.5,150.4 214.2,150.5 214.9,150.5 215.6,150.5 216.3,150.5 217.0,150.5 217.6,150.5 218.3,150.5 219.0,150.5 219.7,150.5 220.4,150.5 221.1,150.5" fill="none" stroke="#24cc24" stroke-width="1.1" stroke-linejoin="round" />
<polyline points="40.5,151.2 41.2,151.2 41.9,151.1 42.6,151.1 43.3,151.1 44.0,151.0 44.7,151.0 45.4,151.0 46.1,150.9 46.8,150.9 47.5,150.8 48.2,150.8 48.9,150.8 49.6,150.7 50.3,150.7 51.0,150.6 51.7,150.6 52.4,150.5 53.1,150.5 53.8,150.4 54.5,150.4 55.2,150.3 55.9,150.3 56.6,150.2 57.3,150.2 58.0,150.1 58.7,150.0 59.4,150.0 60.1,149.9 60.8,149.8 61.5,149.8 62.2,149.7 62.9,149.6 63.6,149.5 64.2,149.4 64.9,149.4 65.6,149.3 66.3,149.2 67.0,149.1 67.7,149.0 68.4,148.9 69.1,148.8 69.8,148.7 70.5,148.5 71.2,148.4 71.9,148.3 72.6,148.2 73.3,148.0 74.0,147.9 74.7,147.7 75.4,147.6 76.1,147.4 76.8,147.2 77.5,147.1 78.2,146.9 78.9,146.7 79.6,146.5 80.3,146.2 81.0,146.0 81.7,145.8 82.4,145.5 83.1,145.2 83.8,144.9 84.5,144.6 85.2,144.3 85.9,144.0 86.6,143.6 87.3,143.3 88.0,142.9 88.7,142.5 89.3,142.0 90.0,141.6 90.7,141.1 91.4,140.6 92.1,140.0 92.8,139.5 93.5,138.9 94.2,138.3 94.9,137.6 95.6,136.9 96.3,136.2 97.0,135.5 97.7,134.7 98.4,133.9 99.1,133.0 99.8,132.1 100.5,131.2 101.2,130.3 101.9,129.3 102.6,128.3 103.3,127.2 104.0,126.1 104.7,125.0 105.4,123.9 106.1,122.8 106.8,121.6 107.5,120.5 108.2,119.3 108.9,118.2 109.6,117.0 110.3,115.9 111.0,114.8 111.7,113.7 112.4,112.7 113.1,111.7 113.8,110.8 114.5,110.1 115.1,109.4 115.8,108.9 116.5,108.6 117.2,108.4 117.9,108.5 118.6,108.8 119.3,109.3 120.0,110.1 120.7,110.9 121.4,111.9 122.1,113.0 122.8,114.2 123.5,115.4 124.2,116.6 124.9,117.9 125.6,119.1 126.3,120.2 127.0,121.3 127.7,122.3 128.4,123.3 129.1,124.2 129.8,125.0 130.5,125.7 131.2,126.4 131.9,126.9 132.6,127.4 133.3,127.7 134.0,128.0 134.7,128.2 135.4,128.3 136.1,128.2 136.8,128.1 137.5,127.8 138.2,127.5 138.9,127.0 139.6,126.4 140.3,125.7 140.9,124.8 141.6,123.8 142.3,122.7 143.0,121.5 143.7,120.1 144.4,118.7 145.1,117.2 145.8,115.7 146.5,114.2 147.2,112.7 147.9,111.5 148.6,110.5 149.3,109.8 150.0,109.5 150.7,109.6 151.4,110.0 152.1,110.6 152.8,111.3 153.5,112.3 154.2,113.5 154.9,114.8 155.6,116.3 156.3,117.9 157.0,119.6 157.7,121.4 158.4,123.2 159.1,125.0 159.8,126.8 160.5,128.6 161.2,130.4 161.9,132.1 162.6,133.8 163.3,135.3 164.0,136.8 164.7,138.1 165.4,139.4 166.0,140.5 166.7,141.6 167.4,142.5 168.1,143.4 168.8,144.2 169.5,144.8 170.2,145.4 170.9,145.9 171.6,146.4 172.3,146.8 173.0,147.1 173.7,147.4 174.4,147.7 175.1,147.9 175.8,148.1 176.5,148.2 177.2,148.3 177.9,148.5 178.6,148.6 179.3,148.6 180.0,148.7 180.7,148.8 181.4,148.8 182.1,148.9 182.8,148.9 183.5,149.0 184.2,149.0 184.9,149.0 185.6,149.1 186.3,149.1 187.0,149.1 187.7,149.2 188.4,149.2 189.1,149.2 189.8,149.2 190.5,149.3 191.2,149.3 191.8,149.3 192.5,149.3 193.2,149.4 193.9,149.4 194.6,149.4 195.3,149.4 196.0,149.4 196.7,149.5 197.4,149.5 198.1,149.5 198.8,149.5 199.5,149.5 200.2,149.5 200.9,149.6 201.6,149.6 202.3,149.6 203.0,149.6 203.7,149.6 204.4,149.6 205.1,149.6 205.8,149.7 206.5,149.7 207.2,149.7 207.9,149.7 208.6,149.7 209.3,149.7 210.0,149.7 210.7,149.7 211.4,149.8 212.1,149.8 212.8,149.8 213.5,149.8 214.2,149.8 214.9,149.8 215.6,149.8 216.3,149.8 217.0,149.8 217.6,149.9 218.3,149.9 219.0,149.9 219.7,149.9 220.4,149.9 221.1,149.9" fill="none" stroke="#22f022" stroke-width="1.1" stroke-linejoin="round" />
<polyline points="40.5,150.7 41.2,150.6 41.9,150.6 42.6,150.5 43.3,150.5 44.0,150.4 44.7,150.4 45.4,150.4 46.1,150.3 46.8,150.3 47.5,150.2 48.2,150.2 48.9,150.1 49.6,150.0 50.3,150.0 51.0,149.9 51.7,149.9 52.4,149.8 53.1,149.7 53.8,149.7 54.5,149.6 55.2,149.5 55.9,149.5 56.6,149.4 57.3,149.3 58.0,149.2 58.7,149.2 59.4,149.1 60.1,149.0 60.8,148.9 61.5,148.8 62.2,148.7 62.9,148.6 63.6,148.5 64.2,148.4 64.9,148.3 65.6,148.2 66.3,148.1 67.0,147.9 67.7,147.8 68.4,147.7 69.1,147.5 69.8,147.4 70.5,147.2 71.2,147.1 71.9,146.9 72.6,146.7 73.3,146.6 74.0,146.4 74.7,146.2 75.4,146.0 76.1,145.7 76.8,145.5 77.5,145.3 78.2,145.0 78.9,144.8 79.6,144.5 80.3,144.2 81.0,143.9 81.7,143.6 82.4,143.2 83.1,142.9 83.8,142.5 84.5,142.1 85.2,141.7 85.9,141.3 86.6,140.8 87.3,140.3 88.0,139.8 88.7,139.3 89.3,138.7 90.0,138.1 90.7,137.5 91.4,136.8 92.1,136.1 92.8,135.4 93.5,134.6 94.2,133.8 94.9,132.9 95.6,132.0 96.3,131.1 97.0,130.1 97.7,129.1 98.4,128.0 99.1,126.9 99.8,125.8 100.5,124.6 101.2,123.3 101.9,122.1 102.6,120.7 103.3,119.4 104.0,118.0 104.7,116.6 105.4,115.1 106.1,113.6 106.8,112.2 107.5,110.7 108.2,109.2 108.9,107.7 109.6,106.3 110.3,104.8 111.0,103.4 111.7,102.1 112.4,100.8 113.1,99.5 113.8,98.4 114.5,97.5 115.1,96.7 115.8,96.1 116.5,95.7 117.2,95.5 117.9,95.7 118.6,96.2 119.3,96.9 120.0,97.9 120.7,99.1 121.4,100.4 122.1,101.8 122.8,103.3 123.5,104.9 124.2,106.5 124.9,108.0 125.6,109.5 126.3,110.9 127.0,112.3 127.7,113.6 128.4,114.8 129.1,115.8 129.8,116.8 130.5,117.7 131.2,118.4 131.9,119.0 132.6,119.5 133.3,119.9 134.0,120.1 134.7,120.2 135.4,120.2 136.1,120.0 136.8,119.7 137.5,119.2 138.2,118.5 138.9,117.7 139.6,116.8 140.3,115.6 140.9,114.3 141.6,112.9 142.3,111.3 143.0,109.6 143.7,107.8 144.4,106.0 145.1,104.3 145.8,102.7 146.5,101.3 147.2,100.2 147.9,99.5 148.6,99.2 149.3,99.4 150.0,100.0 150.7,100.7 151.4,101.8 152.1,103.0 152.8,104.5 153.5,106.2 154.2,108.1 154.9,110.0 155.6,112.1 156.3,114.3 157.0,116.5 157.7,118.8 158.4,121.0 159.1,123.2 159.8,125.4 160.5,127.4 161.2,129.4 161.9,131.3 162.6,133.1 163.3,134.7 164.0,136.2 164.7,137.6 165.4,138.9 166.0,140.0 166.7,141.1 167.4,142.0 168.1,142.8 168.8,143.5 169.5,144.1 170.2,144.7 170.9,145.1 171.6,145.5 172.3,145.9 173.0,146.2 173.7,146.5 174.4,146.7 175.1,146.9 175.8,147.0 176.5,147.2 177.2,147.3 177.9,147.4 178.6,147.5 179.3,147.6 180.0,147.6 180.7,147.7 181.4,147.8 182.1,147.8 182.8,147.9 183.5,147.9 184.2,148.0 184.9,148.0 185.6,148.0 186.3,148.1 187.0,148.1 187.7,148.1 188.4,148.2 189.1,148.2 189.8,148.2 190.5,148.3 191.2,148.3 191.8,148.3 192.5,148.4 193.2,148.4 193.9,148.4 194.6,148.4 195.3,148.5 196.0,148.5 196.7,148.5 197.4,148.5 198.1,148.6 198.8,148.6 199.5,148.6 200.2,148.6 200.9,148.6 201.6,148.7 202.3,148.7 203.0,148.7 203.7,148.7 204.4,148.7 205.1,148.8 205.8,148.8 206.5,148.8 207.2,148.8 207.9,148.8 208.6,148.8 209.3,148.8 210.0,148.9 210.7,148.9 211.4,148.9 212.1,148.9 212.8,148.9 213.5,148.9 214.2,148.9 214.9,149.0 215.6,149.0 216.3,149.0 217.0,149.0 217.6,149.0 218.3,149.0 219.0,149.0 219.7,149.0 220.4,149.1 221.1,149.1" fill="none" stroke="#2e2e96" stroke-width="1.1" stroke-linejoin="round" />
<polyline points="40.5,150.0 41.2,150.0 41.9,149.9 42.6,149.9 43.3,149.8 44.0,149.8 44.7,149.7 45.4,149.7 46.1,149.6 46.8,149.5 47.5,149.5 48.2,149.4 48.9,149.3 49.6,149.3 50.3,149.2 51.0,149.1 51.7,149.0 52.4,149.0 53.1,148.9 53.8,148.8 54.5,148.7 55.2,148.6 55.9,148.5 56.6,148.4 57.3,148.3 58.0,148.2 58.7,148.1 59.4,148.0 60.1,147.9 60.8,147.8 61.5,147.7 62.2,147.5 62.9,147.4 63.6,147.3 64.2,147.1 64.9,147.0 65.6,146.8 66.3,146.7 67.0,146.5 67.7,146.4 68.4,146.2 69.1,146.0 69.8,145.8 70.5,145.6 71.2,145.4 71.9,145.2 72.6,145.0 73.3,144.7 74.0,144.5 74.7,144.2 75.4,144.0 76.1,143.7 76.8,143.4 77.5,143.1 78.2,142.7 78.9,142.4 79.6,142.0 80.3,141.7 81.0,141.3 81.7,140.8 82.4,140.4 83.1,139.9 83.8,139.4 84.5,138.9 85.2,138.4 85.9,137.8 86.6,137.2 87.3,136.5 88.0,135.9 88.7,135.1 89.3,134.4 90.0,133.6 90.7,132.8 91.4,131.9 92.1,131.0 92.8,130.0 93.5,129.0 94.2,127.9 94.9,126.8 95.6,125.6 96.3,124.4 97.0,123.1 97.7,121.8 98.4,120.4 99.1,119.0 99.8,117.5 100.5,116.0 101.2,114.4 101.9,112.7 102.6,111.0 103.3,109.3 104.0,107.5 104.7,105.8 105.4,103.9 106.1,102.1 106.8,100.3 107.5,98.5 108.2,96.7 108.9,94.9 109.6,93.2 110.3,91.5 111.0,89.9 111.7,88.4 112.4,87.0 113.1,85.7 113.8,84.5 114.5,83.5 115.1,82.8 115.8,82.3 116.5,82.2 117.2,82.4 117.9,83.1 118.6,84.0 119.3,85.3 120.0,86.7 120.7,88.4 121.4,90.2 122.1,92.1 122.8,94.0 123.5,95.9 124.2,97.9 124.9,99.7 125.6,101.5 126.3,103.2 127.0,104.7 127.7,106.2 128.4,107.5 129.1,108.7 129.8,109.7 130.5,110.6 131.2,111.4 131.9,112.0 132.6,112.4 133.3,112.7 134.0,112.8 134.7,112.8 135.4,112.6 136.1,112.1 136.8,111.5 137.5,110.8 138.2,109.8 138.9,108.6 139.6,107.2 140.3,105.6 140.9,103.8 141.6,101.9 142.3,99.8 143.0,97.6 143.7,95.3 144.4,93.1 145.1,91.1 145.8,89.2 146.5,87.8 147.2,86.8 147.9,86.4 148.6,86.5 149.3,87.1 150.0,88.0 150.7,89.3 151.4,90.8 152.1,92.6 152.8,94.6 153.5,96.9 154.2,99.3 154.9,101.9 155.6,104.5 156.3,107.3 157.0,110.1 157.7,112.8 158.4,115.6 159.1,118.3 159.8,120.9 160.5,123.4 161.2,125.7 161.9,127.9 162.6,130.0 163.3,131.9 164.0,133.7 164.7,135.3 165.4,136.7 166.0,138.0 166.7,139.2 167.4,140.2 168.1,141.1 168.8,141.9 169.5,142.6 170.2,143.2 170.9,143.7 171.6,144.2 172.3,144.5 173.0,144.9 173.7,145.2 174.4,145.4 175.1,145.6 175.8,145.8 176.5,145.9 177.2,146.1 177.9,146.2 178.6,146.3 179.3,146.4 180.0,146.5 180.7,146.5 181.4,146.6 182.1,146.7 182.8,146.7 183.5,146.8 184.2,146.8 184.9,146.9 185.6,146.9 186.3,147.0 187.0,147.0 187.7,147.0 188.4,147.1 189.1,147.1 189.8,147.2 190.5,147.2 191.2,147.2 191.8,147.3 192.5,147.3 193.2,147.3 193.9,147.4 194.6,147.4 195.3,147.4 196.0,147.5 196.7,147.5 197.4,147.5 198.1,147.5 198.8,147.6 199.5,147.6 200.2,147.6 200.9,147.6 201.6,147.7 202.3,147.7 203.0,147.7 203.7,147.7 204.4,147.8 205.1,147.8 205.8,147.8 206.5,147.8 207.2,147.8 207.9,147.9 208.6,147.9 209.3,147.9 210.0,147.9 210.7,147.9 211.4,147.9 212.1,148.0 212.8,148.0 213.5,148.0 214.2,148.0 214.9,148.0 215.6,148.0 216.3,148.1 217.0,148.1 217.6,148.1 218.3,148.1 219.0,148.1 219.7,148.1 220.4,148.1 221.1,148.2" fill="none" stroke="#3434c4" stroke-width="1.1" stroke-linejoin="round" />
<polyline points="40.5,149.0 41.2,148.9 41.9,148.8 42.6,148.7 43.3,148.7 44.0,148.6 44.7,148.5 45.4,148.4 46.1,148.3 46.8,148.2 47.5,148.2 48.2,148.1 48.9,148.0 49.6,147.9 50.3,147.8 51.0,147.7 51.7,147.5 52.4,147.4 53.1,147.3 53.8,147.2 54.5,147.1 55.2,147.0 55.9,146.8 56.6,146.7 57.3,146.6 58.0,146.4 58.7,146.3 59.4,146.1 60.1,146.0 60.8,145.8 61.5,145.6 62.2,145.4 62.9,145.3 63.6,145.1 64.2,144.9 64.9,144.7 65.6,144.5 66.3,144.2 67.0,144.0 67.7,143.8 68.4,143.5 69.1,143.3 69.8,143.0 70.5,142.7 71.2,142.4 71.9,142.1 72.6,141.8 73.3,141.4 74.0,141.1 74.7,140.7 75.4,140.3 76.1,139.9 76.8,139.5 77.5,139.0 78.2,138.6 78.9,138.1 79.6,137.5 80.3,137.0 81.0,136.4 81.7,135.8 82.4,135.1 83.1,134.5 83.8,133.7 84.5,133.0 85.2,132.2 85.9,131.3 86.6,130.5 87.3,129.5 88.0,128.5 88.7,127.5 89.3,126.4 90.0,125.2 90.7,124.0 91.4,122.8 92.1,121.4 92.8,120.0 93.5,118.6 94.2,117.0 94.9,115.4 95.6,113.8 96.3,112.0 97.0,110.2 97.7,108.3 98.4,106.3 99.1,104.3 99.8,102.2 100.5,100.0 101.2,97.8 101.9,95.5 102.6,93.1 103.3,90.8 104.0,88.4 104.7,85.9 105.4,83.5 106.1,81.1 106.8,78.7 107.5,76.4 108.2,74.1 108.9,72.0 109.6,69.9 110.3,67.9 111.0,66.1 111.7,64.4 112.4,62.8 113.1,61.5 113.8,60.4 114.5,59.6 115.1,59.2 115.8,59.2 116.5,59.8 117.2,60.9 117.9,62.4 118.6,64.2 119.3,66.3 120.0,68.7 120.7,71.2 121.4,73.8 122.1,76.4 122.8,79.0 123.5,81.6 124.2,84.0 124.9,86.4 125.6,88.6 126.3,90.6 127.0,92.5 127.7,94.3 128.4,95.8 129.1,97.2 129.8,98.4 130.5,99.3 131.2,100.1 131.9,100.7 132.6,101.1 133.3,101.3 134.0,101.2 134.7,101.0 135.4,100.5 136.1,99.7 136.8,98.7 137.5,97.5 138.2,96.0 138.9,94.2 139.6,92.2 140.3,90.0 140.9,87.5 141.6,84.9 142.3,82.1 143.0,79.3 143.7,76.6 144.4,74.0 145.1,71.8 145.8,70.0 146.5,68.8 147.2,68.4 147.9,68.7 148.6,69.4 149.3,70.6 150.0,72.2 150.7,74.2 151.4,76.5 152.1,79.1 152.8,81.9 153.5,85.0 154.2,88.3 154.9,91.7 155.6,95.2 156.3,98.7 157.0,102.2 157.7,105.7 158.4,109.1 159.1,112.3 159.8,115.5 160.5,118.4 161.2,121.2 161.9,123.8 162.6,126.2 163.3,128.4 164.0,130.4 164.7,132.2 165.4,133.9 166.0,135.3 166.7,136.6 167.4,137.7 168.1,138.7 168.8,139.6 169.5,140.3 170.2,141.0 170.9,141.6 171.6,142.0 172.3,142.4 173.0,142.8 173.7,143.1 174.4,143.4 175.1,143.6 175.8,143.8 176.5,143.9 177.2,144.1 177.9,144.2 178.6,144.3 179.3,144.4 180.0,144.5 180.7,144.6 181.4,144.7 182.1,144.8 182.8,144.9 183.5,144.9 184.2,145.0 184.9,145.1 185.6,145.1 186.3,145.2 187.0,145.2 187.7,145.3 188.4,145.3 189.1,145.4 189.8,145.4 190.5,145.5 191.2,145.5 191.8,145.6 192.5,145.6 193.2,145.6 193.9,145.7 194.6,145.7 195.3,145.8 196.0,145.8 196.7,145.8 197.4,145.9 198.1,145.9 198.8,145.9 199.5,146.0 200.2,146.0 200.9,146.0 201.6,146.1 202.3,146.1 203.0,146.1 203.7,146.2 204.4,146.2 205.1,146.2 205.8,146.2 206.5,146.3 207.2,146.3 207.9,146.3 208.6,146.3 209.3,146.4 210.0,146.4 210.7,146.4 211.4,146.4 212.1,146.5 212.8,146.5 213.5,146.5 214.2,146.5 214.9,146.5 215.6,146.6 216.3,146.6 217.0,146.6 217.6,146.6 218.3,146.6 219.0,146.6 219.7,146.7 220.4,146.7 221.1,146.7" fill="none" stroke="#3838e6" stroke-width="1.1" stroke-linejoin="round" />
<polyline points="40.5,147.1 41.2,147.0 41.9,146.9 42.6,146.7 43.3,146.6 44.0,146.5 44.7,146.4 45.4,146.3 46.1,146.1 46.8,146.0 47.5,145.9 48.2,145.7 48.9,145.6 49.6,145.4 50.3,145.3 51.0,145.1 51.7,144.9 52.4,144.8 53.1,144.6 53.8,144.4 54.5,144.2 55.2,144.0 55.9,143.8 56.6,143.6 57.3,143.4 58.0,143.2 58.7,142.9 59.4,142.7 60.1,142.5 60.8,142.2 61.5,141.9 62.2,141.7 62.9,141.4 63.6,141.1 64.2,140.8 64.9,140.4 65.6,140.1 66.3,139.7 67.0,139.4 67.7,139.0 68.4,138.6 69.1,138.2 69.8,137.7 70.5,137.3 71.2,136.8 71.9,136.3 72.6,135.8 73.3,135.2 74.0,134.6 74.7,134.0 75.4,133.4 76.1,132.7 76.8,132.0 77.5,131.2 78.2,130.4 78.9,129.6 79.6,128.7 80.3,127.8 81.0,126.8 81.7,125.8 82.4,124.7 83.1,123.6 83.8,122.4 84.5,121.1 85.2,119.8 85.9,118.4 86.6,116.9 87.3,115.3 88.0,113.7 88.7,111.9 89.3,110.1 90.0,108.2 90.7,106.2 91.4,104.2 92.1,102.0 92.8,99.7 93.5,97.3 94.2,94.8 94.9,92.2 95.6,89.6 96.3,86.8 97.0,83.9 97.7,80.9 98.4,77.9 99.1,74.8 99.8,71.6 100.5,68.3 101.2,65.0 101.9,61.7 102.6,58.4 103.3,55.1 104.0,51.8 104.7,48.6 105.4,45.5 106.1,42.6 106.8,39.8 107.5,37.2 108.2,34.8 108.9,32.7 109.6,30.8 110.3,29.2 111.0,27.9 111.7,26.9 112.4,26.2 113.1,26.1 113.8,26.6 114.5,27.7 115.1,29.3 115.8,31.5 116.5,34.1 117.2,37.1 117.9,40.4 118.6,43.9 119.3,47.4 120.0,51.1 120.7,54.6 121.4,58.1 122.1,61.5 122.8,64.7 123.5,67.7 124.2,70.5 124.9,73.1 125.6,75.5 126.3,77.6 127.0,79.5 127.7,81.1 128.4,82.5 129.1,83.7 129.8,84.5 130.5,85.2 131.2,85.5 131.9,85.6 132.6,85.3 133.3,84.8 134.0,84.0 134.7,82.9 135.4,81.4 136.1,79.6 136.8,77.5 137.5,75.1 138.2,72.3 138.9,69.2 139.6,65.9 140.3,62.4 140.9,58.8 141.6,55.3 142.3,51.8 143.0,48.8 143.7,46.2 144.4,44.4 145.1,43.4 145.8,43.4 146.5,44.2 147.2,45.5 147.9,47.4 148.6,49.7 149.3,52.5 150.0,55.7 150.7,59.3 151.4,63.1 152.1,67.3 152.8,71.6 153.5,76.1 154.2,80.6 154.9,85.1 155.6,89.6 156.3,94.0 157.0,98.3 157.7,102.4 158.4,106.3 159.1,110.0 159.8,113.5 160.5,116.7 161.2,119.7 161.9,122.4 162.6,124.8 163.3,127.0 164.0,129.0 164.7,130.7 165.4,132.3 166.0,133.6 166.7,134.8 167.4,135.9 168.1,136.7 168.8,137.5 169.5,138.2 170.2,138.7 170.9,139.2 171.6,139.7 172.3,140.0 173.0,140.3 173.7,140.6 174.4,140.8 175.1,141.0 175.8,141.2 176.5,141.4 177.2,141.5 177.9,141.7 178.6,141.8 179.3,141.9 180.0,142.0 180.7,142.1 181.4,142.2 182.1,142.3 182.8,142.4 183.5,142.4 184.2,142.5 184.9,142.6 185.6,142.7 186.3,142.7 187.0,142.8 187.7,142.9 188.4,142.9 189.1,143.0 189.8,143.0 190.5,143.1 191.2,143.2 191.8,143.2 192.5,143.3 193.2,143.3 193.9,143.4 194.6,143.4 195.3,143.5 196.0,143.5 196.7,143.6 197.4,143.6 198.1,143.6 198.8,143.7 199.5,143.7 200.2,143.8 200.9,143.8 201.6,143.8 202.3,143.9 203.0,143.9 203.7,144.0 204.4,144.0 205.1,144.0 205.8,144.1 206.5,144.1 207.2,144.1 207.9,144.2 208.6,144.2 209.3,144.2 210.0,144.3 210.7,144.3 211.4,144.3 212.1,144.3 212.8,144.4 213.5,144.4 214.2,144.4 214.9,144.4 215.6,144.5 216.3,144.5 217.0,144.5 217.6,144.5 218.3,144.6 219.0,144.6 219.7,144.6 220.4,144.6 221.1,144.7" fill="none" stroke="#3c3cff" stroke-width="1.1" stroke-linejoin="round" />
</g>
<rect x="40.50" y="14.00" width="180.50" height="149.80" fill="none" stroke="#333" stroke-width="1.25"/>
<line x1="40.50" y1="153.00" x2="44.60" y2="153.00" stroke="#333" stroke-width="1.25"/>
<text x="36.00" y="157.30" font-size="11" text-anchor="end" font-weight="normal" fill="#1e1e1e" >0</text>
<line x1="40.50" y1="131.60" x2="43.10" y2="131.60" stroke="#333" stroke-width="1.25"/>
<line x1="40.50" y1="110.20" x2="44.60" y2="110.20" stroke="#333" stroke-width="1.25"/>
<text x="36.00" y="114.50" font-size="11" text-anchor="end" font-weight="normal" fill="#1e1e1e" >2</text>
<line x1="40.50" y1="88.80" x2="43.10" y2="88.80" stroke="#333" stroke-width="1.25"/>
<line x1="40.50" y1="67.40" x2="44.60" y2="67.40" stroke="#333" stroke-width="1.25"/>
<text x="36.00" y="71.70" font-size="11" text-anchor="end" font-weight="normal" fill="#1e1e1e" >4</text>
<line x1="40.50" y1="46.00" x2="43.10" y2="46.00" stroke="#333" stroke-width="1.25"/>
<line x1="40.50" y1="24.60" x2="44.60" y2="24.60" stroke="#333" stroke-width="1.25"/>
<text x="36.00" y="28.90" font-size="11" text-anchor="end" font-weight="normal" fill="#1e1e1e" >6</text>
<line x1="59.50" y1="163.80" x2="59.50" y2="160.00" stroke="#333" stroke-width="1.25"/>
<text x="59.50" y="175.80" font-size="11" text-anchor="middle" font-weight="normal" fill="#1e1e1e" >1.65</text>
<line x1="83.20" y1="163.80" x2="83.20" y2="161.20" stroke="#333" stroke-width="1.25"/>
<line x1="106.90" y1="163.80" x2="106.90" y2="160.00" stroke="#333" stroke-width="1.25"/>
<text x="106.90" y="175.80" font-size="11" text-anchor="middle" font-weight="normal" fill="#1e1e1e" >1.7</text>
<line x1="130.60" y1="163.80" x2="130.60" y2="161.20" stroke="#333" stroke-width="1.25"/>
<line x1="154.30" y1="163.80" x2="154.30" y2="160.00" stroke="#333" stroke-width="1.25"/>
<text x="154.30" y="175.80" font-size="11" text-anchor="middle" font-weight="normal" fill="#1e1e1e" >1.75</text>
<line x1="178.00" y1="163.80" x2="178.00" y2="161.20" stroke="#333" stroke-width="1.25"/>
<line x1="201.70" y1="163.80" x2="201.70" y2="160.00" stroke="#333" stroke-width="1.25"/>
<text x="201.70" y="175.80" font-size="11" text-anchor="middle" font-weight="normal" fill="#1e1e1e" >1.8</text>
<text x="130.75" y="190.00" font-size="11" text-anchor="middle" font-weight="normal" fill="#1e1e1e" >Energy (eV)</text>
<text x="0" y="0" font-size="11" text-anchor="middle" fill="#1e1e1e" transform="translate(10.30,88.60) rotate(-90)">PL Intensity (a.u.)</text>
<text x="0.50" y="12.90" font-size="11" text-anchor="start" font-weight="normal" fill="#1e1e1e" >a)</text>
<text x="41.00" y="10.00" font-size="11" text-anchor="start" font-weight="normal" fill="#1e1e1e" >·10<tspan font-size="7.5" dx="-0.6" dy="-4.4">4</tspan></text>
<line x1="45.50" y1="22.70" x2="61.50" y2="22.70" stroke="#303030" stroke-width="1.2"/>
<text x="78.40" y="26.70" font-size="11" text-anchor="end" font-weight="normal" fill="#1e1e1e" >51</text>
<line x1="45.50" y1="35.80" x2="61.50" y2="35.80" stroke="#742222" stroke-width="1.2"/>
<text x="78.40" y="39.80" font-size="11" text-anchor="end" font-weight="normal" fill="#1e1e1e" >69</text>
<line x1="45.50" y1="48.90" x2="61.50" y2="48.90" stroke="#941e1e" stroke-width="1.2"/>
<text x="78.40" y="52.90" font-size="11" text-anchor="end" font-weight="normal" fill="#1e1e1e" >89</text>
<line x1="45.50" y1="62.00" x2="61.50" y2="62.00" stroke="#b41e1e" stroke-width="1.2"/>
<text x="82.80" y="66.00" font-size="11" text-anchor="end" font-weight="normal" fill="#1e1e1e" >114</text>
<line x1="45.50" y1="75.10" x2="61.50" y2="75.10" stroke="#d42020" stroke-width="1.2"/>
<text x="82.80" y="79.10" font-size="11" text-anchor="end" font-weight="normal" fill="#1e1e1e" >145</text>
<line x1="45.50" y1="88.20" x2="61.50" y2="88.20" stroke="#ff2828" stroke-width="1.2"/>
<text x="82.80" y="92.20" font-size="11" text-anchor="end" font-weight="normal" fill="#1e1e1e" >227</text>
<line x1="45.50" y1="101.30" x2="61.50" y2="101.30" stroke="#237523" stroke-width="1.2"/>
<text x="82.80" y="105.30" font-size="11" text-anchor="end" font-weight="normal" fill="#1e1e1e" >269</text>
<line x1="171.00" y1="23.00" x2="187.00" y2="23.00" stroke="#26a326" stroke-width="1.2"/>
<text x="212.00" y="27.00" font-size="11" text-anchor="end" font-weight="normal" fill="#1e1e1e" >351</text>
<line x1="171.00" y1="36.15" x2="187.00" y2="36.15" stroke="#24cc24" stroke-width="1.2"/>
<text x="212.00" y="40.15" font-size="11" text-anchor="end" font-weight="normal" fill="#1e1e1e" >432</text>
<line x1="171.00" y1="49.30" x2="187.00" y2="49.30" stroke="#22f022" stroke-width="1.2"/>
<text x="212.00" y="53.30" font-size="11" text-anchor="end" font-weight="normal" fill="#1e1e1e" >544</text>
<line x1="171.00" y1="62.45" x2="187.00" y2="62.45" stroke="#2e2e96" stroke-width="1.2"/>
<text x="212.00" y="66.45" font-size="11" text-anchor="end" font-weight="normal" fill="#1e1e1e" >700</text>
<line x1="171.00" y1="75.60" x2="187.00" y2="75.60" stroke="#3434c4" stroke-width="1.2"/>
<text x="212.00" y="79.60" font-size="11" text-anchor="end" font-weight="normal" fill="#1e1e1e" >892</text>
<line x1="171.00" y1="88.75" x2="187.00" y2="88.75" stroke="#3838e6" stroke-width="1.2"/>
<text x="215.60" y="92.75" font-size="11" text-anchor="end" font-weight="normal" fill="#1e1e1e" >1206</text>
<line x1="171.00" y1="101.90" x2="187.00" y2="101.90" stroke="#3c3cff" stroke-width="1.2"/>
<text x="215.60" y="105.90" font-size="11" text-anchor="end" font-weight="normal" fill="#1e1e1e" >1700</text>
<text x="196.60" y="120.00" font-size="11" text-anchor="start" font-weight="normal" fill="#1e1e1e" >µW</text>
<clipPath id="cb"><rect x="277.6" y="14.0" width="180.79999999999995" height="150.0"/></clipPath>
<g clip-path="url(#cb)">
<polyline points="277.6,157.9 278.2,157.9 278.8,157.9 279.4,157.9 280.0,157.9 280.6,157.9 281.2,157.9 281.9,157.9 282.5,157.9 283.1,157.9 283.7,157.9 284.3,157.9 284.9,157.9 285.5,157.9 286.1,157.9 286.7,157.9 287.3,157.9 287.9,157.9 288.5,157.9 289.1,157.9 289.7,157.9 290.3,157.9 290.9,157.9 291.5,157.9 292.1,157.9 292.7,157.9 293.3,157.9 293.9,157.9 294.5,157.9 295.1,157.9 295.8,157.9 296.4,157.9 297.0,157.9 297.6,157.9 298.2,157.9 298.8,157.9 299.4,157.9 300.0,157.9 300.6,157.9 301.2,157.9 301.8,157.9 302.4,157.9 303.0,157.9 303.6,157.9 304.2,157.9 304.8,157.9 305.4,157.9 306.0,157.9 306.6,157.9 307.2,157.9 307.8,157.9 308.4,157.9 309.0,157.9 309.7,157.9 310.3,157.8 310.9,157.8 311.5,157.8 312.1,157.8 312.7,157.8 313.3,157.8 313.9,157.8 314.5,157.8 315.1,157.8 315.7,157.8 316.3,157.8 316.9,157.8 317.5,157.8 318.1,157.8 318.7,157.8 319.3,157.8 319.9,157.8 320.5,157.8 321.1,157.8 321.7,157.7 322.3,157.7 322.9,157.7 323.5,157.7 324.2,157.7 324.8,157.7 325.4,157.7 326.0,157.7 326.6,157.7 327.2,157.7 327.8,157.7 328.4,157.6 329.0,157.6 329.6,157.6 330.2,157.6 330.8,157.6 331.4,157.6 332.0,157.6 332.6,157.6 333.2,157.5 333.8,157.5 334.4,157.5 335.0,157.5 335.6,157.5 336.2,157.5 336.8,157.4 337.4,157.4 338.1,157.4 338.7,157.4 339.3,157.4 339.9,157.3 340.5,157.3 341.1,157.3 341.7,157.3 342.3,157.2 342.9,157.2 343.5,157.2 344.1,157.1 344.7,157.1 345.3,157.1 345.9,157.0 346.5,157.0 347.1,157.0 347.7,157.0 348.3,156.9 348.9,156.9 349.5,156.8 350.1,156.8 350.7,156.8 351.3,156.8 352.0,156.7 352.6,156.6 353.2,156.6 353.8,156.6 354.4,156.6 355.0,156.5 355.6,156.5 356.2,156.5 356.8,156.4 357.4,156.4 358.0,156.4 358.6,156.4 359.2,156.3 359.8,156.3 360.4,156.3 361.0,156.2 361.6,156.2 362.2,156.2 362.8,156.1 363.4,156.1 364.0,156.1 364.6,156.0 365.2,156.0 365.9,156.0 366.5,155.9 367.1,155.9 367.7,155.9 368.3,155.8 368.9,155.8 369.5,155.8 370.1,155.7 370.7,155.7 371.3,155.6 371.9,155.6 372.5,155.5 373.1,155.5 373.7,155.5 374.3,155.4 374.9,155.4 375.5,155.4 376.1,155.3 376.7,155.3 377.3,155.2 377.9,155.2 378.5,155.1 379.1,155.1 379.8,155.1 380.4,155.1 381.0,155.0 381.6,155.0 382.2,155.0 382.8,155.0 383.4,154.9 384.0,154.9 384.6,155.0 385.2,155.0 385.8,155.0 386.4,155.0 387.0,155.1 387.6,155.1 388.2,155.1 388.8,155.2 389.4,155.4 390.0,155.5 390.6,155.6 391.2,155.7 391.8,155.8 392.4,156.0 393.0,156.2 393.7,156.3 394.3,156.5 394.9,156.6 395.5,156.7 396.1,156.8 396.7,156.9 397.3,157.0 397.9,157.1 398.5,157.2 399.1,157.3 399.7,157.4 400.3,157.4 400.9,157.5 401.5,157.5 402.1,157.6 402.7,157.6 403.3,157.7 403.9,157.7 404.5,157.7 405.1,157.7 405.7,157.8 406.3,157.8 406.9,157.8 407.5,157.8 408.2,157.8 408.8,157.8 409.4,157.8 410.0,157.8 410.6,157.8 411.2,157.8 411.8,157.9 412.4,157.9 413.0,157.9 413.6,157.9 414.2,157.9 414.8,157.9 415.4,157.9 416.0,157.9 416.6,157.9 417.2,157.9 417.8,157.9 418.4,157.9 419.0,157.9 419.6,157.9 420.2,157.9 420.8,157.9 421.4,157.9 422.1,157.9 422.7,157.9 423.3,157.9 423.9,157.9 424.5,157.9 425.1,157.9 425.7,157.9 426.3,157.9 426.9,157.9 427.5,157.9 428.1,157.9 428.7,157.9 429.3,157.9 429.9,157.9 430.5,157.9 431.1,157.9 431.7,157.9 432.3,157.9 432.9,157.9 433.5,157.9 434.1,157.9 434.7,157.9 435.3,157.9 436.0,157.9 436.6,157.9 437.2,157.9 437.8,157.9 438.4,157.9 439.0,157.9 439.6,157.9 440.2,157.9 440.8,157.9 441.4,157.9 442.0,157.9 442.6,157.9 443.2,157.9 443.8,157.9 444.4,157.9 445.0,157.9 445.6,157.9 446.2,157.9 446.8,157.9 447.4,157.9 448.0,157.9 448.6,157.9 449.2,157.9 449.9,157.9 450.5,157.9 451.1,157.9 451.7,157.9 452.3,157.9 452.9,157.9 453.5,157.9 454.1,157.9 454.7,157.9 455.3,157.9 455.9,157.9 456.5,157.9 457.1,157.9 457.7,157.9 458.3,157.9" fill="none" stroke="#303030" stroke-width="1.05" stroke-linejoin="round" />
<polyline points="277.6,157.9 278.2,157.9 278.8,157.9 279.4,157.9 280.0,157.9 280.6,157.9 281.2,157.9 281.9,157.9 282.5,157.9 283.1,157.9 283.7,157.9 284.3,157.9 284.9,157.9 285.5,157.9 286.1,157.9 286.7,157.9 287.3,157.9 287.9,157.9 288.5,157.9 289.1,157.9 289.7,157.9 290.3,157.9 290.9,157.9 291.5,157.9 292.1,157.9 292.7,157.9 293.3,157.9 293.9,157.9 294.5,157.9 295.1,157.9 295.8,157.9 296.4,157.9 297.0,157.9 297.6,157.9 298.2,157.8 298.8,157.9 299.4,157.8 300.0,157.8 300.6,157.9 301.2,157.8 301.8,157.8 302.4,157.8 303.0,157.8 303.6,157.8 304.2,157.8 304.8,157.8 305.4,157.8 306.0,157.8 306.6,157.8 307.2,157.8 307.8,157.8 308.4,157.8 309.0,157.8 309.7,157.8 310.3,157.8 310.9,157.8 311.5,157.8 312.1,157.8 312.7,157.8 313.3,157.8 313.9,157.7 314.5,157.7 315.1,157.7 315.7,157.7 316.3,157.7 316.9,157.7 317.5,157.7 318.1,157.7 318.7,157.7 319.3,157.7 319.9,157.6 320.5,157.7 321.1,157.6 321.7,157.6 322.3,157.6 322.9,157.6 323.5,157.6 324.2,157.6 324.8,157.6 325.4,157.6 326.0,157.6 326.6,157.5 327.2,157.5 327.8,157.5 328.4,157.5 329.0,157.5 329.6,157.5 330.2,157.4 330.8,157.4 331.4,157.4 332.0,157.4 332.6,157.4 333.2,157.3 333.8,157.3 334.4,157.3 335.0,157.3 335.6,157.3 336.2,157.2 336.8,157.2 337.4,157.2 338.1,157.2 338.7,157.1 339.3,157.1 339.9,157.0 340.5,157.0 341.1,157.0 341.7,156.9 342.3,156.9 342.9,156.8 343.5,156.8 344.1,156.8 344.7,156.7 345.3,156.7 345.9,156.6 346.5,156.6 347.1,156.5 347.7,156.5 348.3,156.5 348.9,156.4 349.5,156.4 350.1,156.3 350.7,156.3 351.3,156.2 352.0,156.1 352.6,156.1 353.2,156.1 353.8,156.0 354.4,156.0 355.0,155.9 355.6,155.9 356.2,155.8 356.8,155.8 357.4,155.7 358.0,155.7 358.6,155.7 359.2,155.6 359.8,155.6 360.4,155.5 361.0,155.5 361.6,155.5 362.2,155.4 362.8,155.4 363.4,155.3 364.0,155.2 364.6,155.2 365.2,155.2 365.9,155.1 366.5,155.1 367.1,155.0 367.7,154.9 368.3,154.9 368.9,154.9 369.5,154.8 370.1,154.8 370.7,154.7 371.3,154.7 371.9,154.6 372.5,154.5 373.1,154.4 373.7,154.4 374.3,154.3 374.9,154.3 375.5,154.2 376.1,154.2 376.7,154.1 377.3,154.1 377.9,154.0 378.5,154.0 379.1,153.9 379.8,153.8 380.4,153.8 381.0,153.8 381.6,153.7 382.2,153.7 382.8,153.6 383.4,153.6 384.0,153.6 384.6,153.6 385.2,153.7 385.8,153.8 386.4,153.8 387.0,153.8 387.6,153.9 388.2,154.0 388.8,154.0 389.4,154.2 390.0,154.4 390.6,154.5 391.2,154.7 391.8,154.9 392.4,155.2 393.0,155.4 393.7,155.6 394.3,155.8 394.9,156.0 395.5,156.2 396.1,156.3 396.7,156.5 397.3,156.6 397.9,156.8 398.5,156.9 399.1,157.0 399.7,157.2 400.3,157.2 400.9,157.3 401.5,157.3 402.1,157.4 402.7,157.5 403.3,157.5 403.9,157.5 404.5,157.6 405.1,157.6 405.7,157.6 406.3,157.7 406.9,157.7 407.5,157.7 408.2,157.7 408.8,157.7 409.4,157.8 410.0,157.8 410.6,157.8 411.2,157.8 411.8,157.8 412.4,157.8 413.0,157.8 413.6,157.8 414.2,157.8 414.8,157.8 415.4,157.8 416.0,157.8 416.6,157.8 417.2,157.8 417.8,157.8 418.4,157.8 419.0,157.8 419.6,157.8 420.2,157.8 420.8,157.8 421.4,157.8 422.1,157.8 422.7,157.8 423.3,157.8 423.9,157.8 424.5,157.8 425.1,157.8 425.7,157.8 426.3,157.8 426.9,157.8 427.5,157.8 428.1,157.8 428.7,157.8 429.3,157.8 429.9,157.8 430.5,157.8 431.1,157.8 431.7,157.8 432.3,157.8 432.9,157.8 433.5,157.8 434.1,157.8 434.7,157.8 435.3,157.8 436.0,157.8 436.6,157.8 437.2,157.8 437.8,157.8 438.4,157.8 439.0,157.8 439.6,157.8 440.2,157.8 440.8,157.8 441.4,157.8 442.0,157.8 442.6,157.8 443.2,157.8 443.8,157.8 444.4,157.8 445.0,157.8 445.6,157.8 446.2,157.8 446.8,157.8 447.4,157.8 448.0,157.8 448.6,157.8 449.2,157.8 449.9,157.8 450.5,157.8 451.1,157.8 451.7,157.8 452.3,157.8 452.9,157.8 453.5,157.8 454.1,157.8 454.7,157.8 455.3,157.8 455.9,157.8 456.5,157.8 457.1,157.8 457.7,157.8 458.3,157.8" fill="none" stroke="#742222" stroke-width="1.05" stroke-linejoin="round" />
<polyline points="277.6,157.9 278.2,157.8 278.8,157.8 279.4,157.8 280.0,157.8 280.6,157.8 281.2,157.8 281.9,157.8 282.5,157.8 283.1,157.8 283.7,157.8 284.3,157.8 284.9,157.8 285.5,157.8 286.1,157.8 286.7,157.8 287.3,157.8 287.9,157.8 288.5,157.8 289.1,157.8 289.7,157.8 290.3,157.8 290.9,157.8 291.5,157.8 292.1,157.8 292.7,157.8 293.3,157.8 293.9,157.8 294.5,157.8 295.1,157.8 295.8,157.8 296.4,157.8 297.0,157.8 297.6,157.8 298.2,157.8 298.8,157.8 299.4,157.8 300.0,157.8 300.6,157.8 301.2,157.8 301.8,157.8 302.4,157.8 303.0,157.8 303.6,157.8 304.2,157.8 304.8,157.8 305.4,157.8 306.0,157.8 306.6,157.8 307.2,157.7 307.8,157.7 308.4,157.7 309.0,157.7 309.7,157.7 310.3,157.7 310.9,157.7 311.5,157.7 312.1,157.7 312.7,157.7 313.3,157.7 313.9,157.7 314.5,157.7 315.1,157.6 315.7,157.6 316.3,157.6 316.9,157.6 317.5,157.6 318.1,157.6 318.7,157.6 319.3,157.6 319.9,157.6 320.5,157.5 321.1,157.5 321.7,157.5 322.3,157.5 322.9,157.5 323.5,157.5 324.2,157.4 324.8,157.4 325.4,157.4 326.0,157.4 326.6,157.4 327.2,157.4 327.8,157.3 328.4,157.3 329.0,157.3 329.6,157.3 330.2,157.3 330.8,157.2 331.4,157.2 332.0,157.2 332.6,157.1 333.2,157.1 333.8,157.1 334.4,157.1 335.0,157.0 335.6,157.0 336.2,157.0 336.8,157.0 337.4,156.9 338.1,156.9 338.7,156.8 339.3,156.8 339.9,156.8 340.5,156.7 341.1,156.6 341.7,156.6 342.3,156.5 342.9,156.5 343.5,156.4 344.1,156.4 344.7,156.3 345.3,156.2 345.9,156.2 346.5,156.1 347.1,156.1 347.7,156.0 348.3,155.9 348.9,155.9 349.5,155.8 350.1,155.7 350.7,155.6 351.3,155.6 352.0,155.5 352.6,155.5 353.2,155.4 353.8,155.4 354.4,155.3 355.0,155.2 355.6,155.1 356.2,155.1 356.8,155.1 357.4,155.0 358.0,154.9 358.6,154.9 359.2,154.8 359.8,154.8 360.4,154.7 361.0,154.6 361.6,154.6 362.2,154.5 362.8,154.5 363.4,154.4 364.0,154.4 364.6,154.3 365.2,154.2 365.9,154.1 366.5,154.1 367.1,154.1 367.7,154.0 368.3,153.9 368.9,153.8 369.5,153.7 370.1,153.7 370.7,153.6 371.3,153.5 371.9,153.4 372.5,153.4 373.1,153.3 373.7,153.2 374.3,153.1 374.9,153.1 375.5,153.0 376.1,152.9 376.7,152.9 377.3,152.7 377.9,152.7 378.5,152.6 379.1,152.6 379.8,152.5 380.4,152.4 381.0,152.3 381.6,152.3 382.2,152.3 382.8,152.2 383.4,152.2 384.0,152.2 384.6,152.3 385.2,152.3 385.8,152.4 386.4,152.4 387.0,152.4 387.6,152.6 388.2,152.6 388.8,152.8 389.4,153.0 390.0,153.2 390.6,153.4 391.2,153.6 391.8,153.8 392.4,154.2 393.0,154.5 393.7,154.8 394.3,155.1 394.9,155.3 395.5,155.6 396.1,155.8 396.7,156.0 397.3,156.1 397.9,156.4 398.5,156.6 399.1,156.7 399.7,156.9 400.3,157.0 400.9,157.0 401.5,157.1 402.1,157.2 402.7,157.3 403.3,157.3 403.9,157.4 404.5,157.5 405.1,157.5 405.7,157.5 406.3,157.6 406.9,157.6 407.5,157.6 408.2,157.7 408.8,157.7 409.4,157.7 410.0,157.7 410.6,157.7 411.2,157.7 411.8,157.7 412.4,157.7 413.0,157.7 413.6,157.7 414.2,157.7 414.8,157.7 415.4,157.7 416.0,157.8 416.6,157.8 417.2,157.8 417.8,157.8 418.4,157.8 419.0,157.8 419.6,157.8 420.2,157.8 420.8,157.8 421.4,157.8 422.1,157.8 422.7,157.8 423.3,157.8 423.9,157.8 424.5,157.8 425.1,157.8 425.7,157.8 426.3,157.8 426.9,157.8 427.5,157.8 428.1,157.8 428.7,157.8 429.3,157.8 429.9,157.8 430.5,157.8 431.1,157.8 431.7,157.8 432.3,157.8 432.9,157.8 433.5,157.8 434.1,157.8 434.7,157.7 435.3,157.8 436.0,157.8 436.6,157.8 437.2,157.8 437.8,157.8 438.4,157.8 439.0,157.8 439.6,157.8 440.2,157.8 440.8,157.8 441.4,157.8 442.0,157.8 442.6,157.8 443.2,157.8 443.8,157.8 444.4,157.8 445.0,157.8 445.6,157.8 446.2,157.8 446.8,157.8 447.4,157.8 448.0,157.8 448.6,157.8 449.2,157.8 449.9,157.8 450.5,157.8 451.1,157.8 451.7,157.8 452.3,157.8 452.9,157.8 453.5,157.8 454.1,157.8 454.7,157.8 455.3,157.8 455.9,157.8 456.5,157.8 457.1,157.8 457.7,157.8 458.3,157.8" fill="none" stroke="#941e1e" stroke-width="1.05" stroke-linejoin="round" />
<polyline points="277.6,157.8 278.2,157.8 278.8,157.8 279.4,157.8 280.0,157.8 280.6,157.8 281.2,157.8 281.9,157.8 282.5,157.8 283.1,157.8 283.7,157.8 284.3,157.8 284.9,157.8 285.5,157.8 286.1,157.8 286.7,157.8 287.3,157.8 287.9,157.8 288.5,157.8 289.1,157.8 289.7,157.8 290.3,157.8 290.9,157.8 291.5,157.8 292.1,157.8 292.7,157.7 293.3,157.8 293.9,157.7 294.5,157.8 295.1,157.8 295.8,157.8 296.4,157.7 297.0,157.7 297.6,157.7 298.2,157.7 298.8,157.7 299.4,157.7 300.0,157.7 300.6,157.7 301.2,157.7 301.8,157.7 302.4,157.7 303.0,157.7 303.6,157.7 304.2,157.7 304.8,157.7 305.4,157.7 306.0,157.7 306.6,157.7 307.2,157.7 307.8,157.7 308.4,157.7 309.0,157.6 309.7,157.6 310.3,157.6 310.9,157.6 311.5,157.6 312.1,157.6 312.7,157.6 313.3,157.5 313.9,157.5 314.5,157.5 315.1,157.5 315.7,157.5 316.3,157.5 316.9,157.5 317.5,157.5 318.1,157.5 318.7,157.4 319.3,157.4 319.9,157.4 320.5,157.4 321.1,157.4 321.7,157.4 322.3,157.3 322.9,157.3 323.5,157.3 324.2,157.3 324.8,157.2 325.4,157.2 326.0,157.2 326.6,157.2 327.2,157.1 327.8,157.1 328.4,157.1 329.0,157.1 329.6,157.1 330.2,157.0 330.8,157.0 331.4,156.9 332.0,156.9 332.6,156.9 333.2,156.8 333.8,156.8 334.4,156.8 335.0,156.7 335.6,156.7 336.2,156.6 336.8,156.6 337.4,156.5 338.1,156.5 338.7,156.4 339.3,156.4 339.9,156.3 340.5,156.3 341.1,156.2 341.7,156.1 342.3,156.1 342.9,156.0 343.5,155.9 344.1,155.8 344.7,155.7 345.3,155.7 345.9,155.6 346.5,155.5 347.1,155.5 347.7,155.3 348.3,155.3 348.9,155.2 349.5,155.1 350.1,154.9 350.7,154.9 351.3,154.8 352.0,154.7 352.6,154.6 353.2,154.6 353.8,154.5 354.4,154.4 355.0,154.3 355.6,154.2 356.2,154.2 356.8,154.1 357.4,153.9 358.0,153.9 358.6,153.8 359.2,153.7 359.8,153.6 360.4,153.6 361.0,153.5 361.6,153.5 362.2,153.4 362.8,153.4 363.4,153.2 364.0,153.2 364.6,153.0 365.2,153.0 365.9,152.9 366.5,152.9 367.1,152.7 367.7,152.7 368.3,152.6 368.9,152.5 369.5,152.4 370.1,152.3 370.7,152.1 371.3,152.1 371.9,151.9 372.5,151.8 373.1,151.7 373.7,151.6 374.3,151.5 374.9,151.4 375.5,151.4 376.1,151.2 376.7,151.1 377.3,150.9 377.9,150.9 378.5,150.8 379.1,150.7 379.8,150.6 380.4,150.5 381.0,150.5 381.6,150.4 382.2,150.4 382.8,150.2 383.4,150.2 384.0,150.3 384.6,150.3 385.2,150.3 385.8,150.4 386.4,150.5 387.0,150.7 387.6,150.8 388.2,150.9 388.8,151.0 389.4,151.3 390.0,151.5 390.6,151.9 391.2,152.1 391.8,152.4 392.4,153.0 393.0,153.4 393.7,153.8 394.3,154.1 394.9,154.5 395.5,154.8 396.1,155.1 396.7,155.3 397.3,155.5 397.9,155.8 398.5,156.1 399.1,156.3 399.7,156.5 400.3,156.6 400.9,156.7 401.5,156.9 402.1,156.9 402.7,157.1 403.3,157.1 403.9,157.2 404.5,157.2 405.1,157.3 405.7,157.4 406.3,157.4 406.9,157.5 407.5,157.5 408.2,157.5 408.8,157.5 409.4,157.6 410.0,157.6 410.6,157.6 411.2,157.6 411.8,157.6 412.4,157.6 413.0,157.7 413.6,157.6 414.2,157.7 414.8,157.7 415.4,157.7 416.0,157.7 416.6,157.7 417.2,157.7 417.8,157.7 418.4,157.7 419.0,157.7 419.6,157.7 420.2,157.7 420.8,157.7 421.4,157.7 422.1,157.7 422.7,157.7 423.3,157.7 423.9,157.7 424.5,157.7 425.1,157.7 425.7,157.7 426.3,157.7 426.9,157.7 427.5,157.7 428.1,157.7 428.7,157.7 429.3,157.7 429.9,157.7 430.5,157.7 431.1,157.7 431.7,157.7 432.3,157.7 432.9,157.7 433.5,157.7 434.1,157.7 434.7,157.7 435.3,157.7 436.0,157.7 436.6,157.7 437.2,157.7 437.8,157.7 438.4,157.7 439.0,157.7 439.6,157.7 440.2,157.7 440.8,157.7 441.4,157.7 442.0,157.7 442.6,157.7 443.2,157.7 443.8,157.7 444.4,157.7 445.0,157.7 445.6,157.7 446.2,157.7 446.8,157.7 447.4,157.7 448.0,157.7 448.6,157.7 449.2,157.7 449.9,157.7 450.5,157.7 451.1,157.7 451.7,157.7 452.3,157.7 452.9,157.7 453.5,157.7 454.1,157.7 454.7,157.7 455.3,157.7 455.9,157.7 456.5,157.7 457.1,157.7 457.7,157.7 458.3,157.7" fill="none" stroke="#b41e1e" stroke-width="1.05" stroke-linejoin="round" />
<polyline points="277.6,157.7 278.2,157.7 278.8,157.7 279.4,157.8 280.0,157.8 280.6,157.7 281.2,157.7 281.9,157.7 282.5,157.7 283.1,157.7 283.7,157.7 284.3,157.7 284.9,157.7 285.5,157.7 286.1,157.7 286.7,157.7 287.3,157.7 287.9,157.7 288.5,157.7 289.1,157.7 289.7,157.7 290.3,157.7 290.9,157.7 291.5,157.7 292.1,157.7 292.7,157.7 293.3,157.7 293.9,157.7 294.5,157.7 295.1,157.7 295.8,157.7 296.4,157.7 297.0,157.7 297.6,157.7 298.2,157.7 298.8,157.7 299.4,157.7 300.0,157.7 300.6,157.6 301.2,157.7 301.8,157.7 302.4,157.6 303.0,157.6 303.6,157.6 304.2,157.6 304.8,157.6 305.4,157.6 306.0,157.6 306.6,157.6 307.2,157.6 307.8,157.6 308.4,157.6 309.0,157.5 309.7,157.5 310.3,157.5 310.9,157.5 311.5,157.5 312.1,157.5 312.7,157.4 313.3,157.4 313.9,157.4 314.5,157.4 315.1,157.4 315.7,157.4 316.3,157.4 316.9,157.3 317.5,157.3 318.1,157.3 318.7,157.3 319.3,157.2 319.9,157.2 320.5,157.2 321.1,157.2 321.7,157.2 322.3,157.1 322.9,157.2 323.5,157.1 324.2,157.1 324.8,157.0 325.4,157.0 326.0,157.0 326.6,157.0 327.2,157.0 327.8,156.9 328.4,156.9 329.0,156.9 329.6,156.8 330.2,156.8 330.8,156.7 331.4,156.7 332.0,156.6 332.6,156.6 333.2,156.5 333.8,156.5 334.4,156.4 335.0,156.4 335.6,156.3 336.2,156.3 336.8,156.2 337.4,156.1 338.1,156.1 338.7,156.0 339.3,155.9 339.9,155.9 340.5,155.8 341.1,155.7 341.7,155.6 342.3,155.6 342.9,155.5 343.5,155.4 344.1,155.3 344.7,155.1 345.3,155.1 345.9,155.0 346.5,154.9 347.1,154.7 347.7,154.7 348.3,154.6 348.9,154.5 349.5,154.4 350.1,154.2 350.7,154.1 351.3,154.0 352.0,154.0 352.6,153.8 353.2,153.7 353.8,153.6 354.4,153.5 355.0,153.4 355.6,153.2 356.2,153.2 356.8,153.0 357.4,153.1 358.0,152.9 358.6,152.8 359.2,152.8 359.8,152.6 360.4,152.5 361.0,152.4 361.6,152.3 362.2,152.1 362.8,152.1 363.4,152.0 364.0,151.9 364.6,151.8 365.2,151.7 365.9,151.7 366.5,151.5 367.1,151.4 367.7,151.3 368.3,151.3 368.9,151.1 369.5,151.0 370.1,150.8 370.7,150.8 371.3,150.5 371.9,150.4 372.5,150.3 373.1,150.1 373.7,150.0 374.3,149.8 374.9,149.6 375.5,149.6 376.1,149.5 376.7,149.4 377.3,149.2 377.9,149.1 378.5,149.0 379.1,148.9 379.8,148.7 380.4,148.6 381.0,148.7 381.6,148.4 382.2,148.4 382.8,148.3 383.4,148.2 384.0,148.3 384.6,148.4 385.2,148.5 385.8,148.6 386.4,148.6 387.0,148.8 387.6,148.9 388.2,149.1 388.8,149.4 389.4,149.6 390.0,149.9 390.6,150.3 391.2,150.7 391.8,151.0 392.4,151.7 393.0,152.3 393.7,152.8 394.3,153.2 394.9,153.6 395.5,154.0 396.1,154.4 396.7,154.7 397.3,154.9 397.9,155.3 398.5,155.6 399.1,155.9 399.7,156.0 400.3,156.3 400.9,156.4 401.5,156.6 402.1,156.7 402.7,156.8 403.3,156.9 403.9,157.0 404.5,157.1 405.1,157.1 405.7,157.2 406.3,157.3 406.9,157.3 407.5,157.4 408.2,157.4 408.8,157.4 409.4,157.5 410.0,157.5 410.6,157.5 411.2,157.5 411.8,157.6 412.4,157.5 413.0,157.6 413.6,157.6 414.2,157.6 414.8,157.6 415.4,157.6 416.0,157.6 416.6,157.6 417.2,157.6 417.8,157.6 418.4,157.6 419.0,157.6 419.6,157.6 420.2,157.6 420.8,157.6 421.4,157.6 422.1,157.6 422.7,157.6 423.3,157.6 423.9,157.6 424.5,157.6 425.1,157.6 425.7,157.6 426.3,157.6 426.9,157.6 427.5,157.6 428.1,157.6 428.7,157.6 429.3,157.6 429.9,157.6 430.5,157.6 431.1,157.6 431.7,157.6 432.3,157.6 432.9,157.6 433.5,157.6 434.1,157.6 434.7,157.6 435.3,157.6 436.0,157.6 436.6,157.6 437.2,157.6 437.8,157.6 438.4,157.6 439.0,157.6 439.6,157.6 440.2,157.6 440.8,157.6 441.4,157.6 442.0,157.6 442.6,157.6 443.2,157.6 443.8,157.6 444.4,157.6 445.0,157.6 445.6,157.6 446.2,157.6 446.8,157.6 447.4,157.6 448.0,157.6 448.6,157.6 449.2,157.6 449.9,157.6 450.5,157.6 451.1,157.6 451.7,157.6 452.3,157.6 452.9,157.6 453.5,157.6 454.1,157.6 454.7,157.6 455.3,157.6 455.9,157.6 456.5,157.6 457.1,157.6 457.7,157.6 458.3,157.6" fill="none" stroke="#d42020" stroke-width="1.05" stroke-linejoin="round" />
<polyline points="277.6,157.5 278.2,157.5 278.8,157.5 279.4,157.5 280.0,157.5 280.6,157.6 281.2,157.6 281.9,157.5 282.5,157.5 283.1,157.5 283.7,157.5 284.3,157.5 284.9,157.5 285.5,157.5 286.1,157.5 286.7,157.5 287.3,157.5 287.9,157.5 288.5,157.5 289.1,157.5 289.7,157.5 290.3,157.5 290.9,157.5 291.5,157.5 292.1,157.5 292.7,157.5 293.3,157.5 293.9,157.5 294.5,157.5 295.1,157.5 295.8,157.4 296.4,157.5 297.0,157.5 297.6,157.4 298.2,157.4 298.8,157.4 299.4,157.4 300.0,157.4 300.6,157.4 301.2,157.4 301.8,157.4 302.4,157.4 303.0,157.4 303.6,157.3 304.2,157.4 304.8,157.3 305.4,157.3 306.0,157.3 306.6,157.3 307.2,157.3 307.8,157.3 308.4,157.2 309.0,157.2 309.7,157.2 310.3,157.2 310.9,157.2 311.5,157.1 312.1,157.1 312.7,157.1 313.3,157.0 313.9,157.0 314.5,157.0 315.1,157.0 315.7,156.9 316.3,156.8 316.9,156.9 317.5,156.9 318.1,156.8 318.7,156.8 319.3,156.7 319.9,156.7 320.5,156.7 321.1,156.6 321.7,156.5 322.3,156.5 322.9,156.5 323.5,156.4 324.2,156.4 324.8,156.4 325.4,156.4 326.0,156.3 326.6,156.2 327.2,156.2 327.8,156.1 328.4,156.0 329.0,156.0 329.6,156.0 330.2,155.9 330.8,155.8 331.4,155.8 332.0,155.7 332.6,155.6 333.2,155.5 333.8,155.4 334.4,155.4 335.0,155.1 335.6,155.1 336.2,155.1 336.8,154.9 337.4,154.8 338.1,154.7 338.7,154.5 339.3,154.5 339.9,154.3 340.5,154.2 341.1,154.1 341.7,154.0 342.3,153.8 342.9,153.6 343.5,153.4 344.1,153.3 344.7,153.1 345.3,152.9 345.9,152.9 346.5,152.7 347.1,152.4 347.7,152.3 348.3,152.0 348.9,151.8 349.5,151.7 350.1,151.5 350.7,151.3 351.3,151.0 352.0,150.9 352.6,150.6 353.2,150.5 353.8,150.3 354.4,150.2 355.0,149.9 355.6,149.8 356.2,149.7 356.8,149.4 357.4,149.3 358.0,149.1 358.6,149.0 359.2,148.8 359.8,148.6 360.4,148.5 361.0,148.4 361.6,148.2 362.2,148.0 362.8,147.8 363.4,147.6 364.0,147.5 364.6,147.2 365.2,147.2 365.9,146.9 366.5,146.8 367.1,146.5 367.7,146.2 368.3,146.2 368.9,145.9 369.5,145.8 370.1,145.7 370.7,145.5 371.3,145.2 371.9,144.9 372.5,144.6 373.1,144.2 373.7,144.0 374.3,143.8 374.9,143.7 375.5,143.5 376.1,143.3 376.7,143.0 377.3,142.8 377.9,142.6 378.5,142.4 379.1,142.4 379.8,142.1 380.4,141.9 381.0,141.5 381.6,141.5 382.2,141.3 382.8,141.1 383.4,141.1 384.0,141.2 384.6,141.3 385.2,141.5 385.8,141.6 386.4,141.7 387.0,142.0 387.6,142.2 388.2,142.5 388.8,142.8 389.4,143.5 390.0,144.1 390.6,144.6 391.2,145.2 391.8,146.2 392.4,147.1 393.0,148.0 393.7,148.9 394.3,149.6 394.9,150.3 395.5,151.1 396.1,151.7 396.7,152.3 397.3,152.8 397.9,153.2 398.5,153.9 399.1,154.4 399.7,154.7 400.3,155.0 400.9,155.2 401.5,155.4 402.1,155.8 402.7,155.9 403.3,156.1 403.9,156.2 404.5,156.4 405.1,156.6 405.7,156.7 406.3,156.8 406.9,156.8 407.5,156.9 408.2,157.0 408.8,157.0 409.4,157.1 410.0,157.1 410.6,157.1 411.2,157.2 411.8,157.2 412.4,157.2 413.0,157.2 413.6,157.3 414.2,157.3 414.8,157.2 415.4,157.3 416.0,157.3 416.6,157.3 417.2,157.3 417.8,157.3 418.4,157.3 419.0,157.3 419.6,157.3 420.2,157.3 420.8,157.3 421.4,157.3 422.1,157.3 422.7,157.3 423.3,157.3 423.9,157.3 424.5,157.3 425.1,157.3 425.7,157.3 426.3,157.3 426.9,157.3 427.5,157.3 428.1,157.3 428.7,157.3 429.3,157.3 429.9,157.3 430.5,157.3 431.1,157.3 431.7,157.3 432.3,157.3 432.9,157.3 433.5,157.3 434.1,157.3 434.7,157.4 435.3,157.3 436.0,157.3 436.6,157.3 437.2,157.3 437.8,157.4 438.4,157.4 439.0,157.3 439.6,157.3 440.2,157.3 440.8,157.3 441.4,157.3 442.0,157.3 442.6,157.3 443.2,157.3 443.8,157.3 444.4,157.3 445.0,157.3 445.6,157.3 446.2,157.3 446.8,157.3 447.4,157.3 448.0,157.3 448.6,157.3 449.2,157.3 449.9,157.3 450.5,157.3 451.1,157.3 451.7,157.3 452.3,157.3 452.9,157.3 453.5,157.3 454.1,157.4 454.7,157.3 455.3,157.3 455.9,157.3 456.5,157.3 457.1,157.3 457.7,157.3 458.3,157.3" fill="none" stroke="#ff2828" stroke-width="1.05" stroke-linejoin="round" />
<polyline points="277.6,157.4 278.2,157.4 278.8,157.4 279.4,157.4 280.0,157.4 280.6,157.4 281.2,157.4 281.9,157.4 282.5,157.4 283.1,157.4 283.7,157.4 284.3,157.4 284.9,157.4 285.5,157.4 286.1,157.4 286.7,157.4 287.3,157.4 287.9,157.4 288.5,157.4 289.1,157.4 289.7,157.4 290.3,157.3 290.9,157.3 291.5,157.3 292.1,157.3 292.7,157.4 293.3,157.3 293.9,157.3 294.5,157.3 295.1,157.3 295.8,157.3 296.4,157.3 297.0,157.3 297.6,157.3 298.2,157.3 298.8,157.3 299.4,157.3 300.0,157.3 300.6,157.2 301.2,157.2 301.8,157.2 302.4,157.2 303.0,157.2 303.6,157.2 304.2,157.2 304.8,157.2 305.4,157.1 306.0,157.2 306.6,157.1 307.2,157.1 307.8,157.1 308.4,157.0 309.0,157.0 309.7,156.9 310.3,156.9 310.9,156.9 311.5,156.9 312.1,156.8 312.7,156.8 313.3,156.8 313.9,156.7 314.5,156.7 315.1,156.6 315.7,156.6 316.3,156.6 316.9,156.5 317.5,156.5 318.1,156.5 318.7,156.4 319.3,156.4 319.9,156.3 320.5,156.3 321.1,156.3 321.7,156.2 322.3,156.2 322.9,156.1 323.5,156.1 324.2,155.9 324.8,155.8 325.4,155.8 326.0,155.7 326.6,155.7 327.2,155.6 327.8,155.6 328.4,155.5 329.0,155.4 329.6,155.4 330.2,155.3 330.8,155.2 331.4,155.1 332.0,155.1 332.6,154.9 333.2,154.8 333.8,154.7 334.4,154.6 335.0,154.4 335.6,154.2 336.2,154.2 336.8,154.0 337.4,153.9 338.1,153.8 338.7,153.6 339.3,153.4 339.9,153.2 340.5,153.0 341.1,153.0 341.7,152.8 342.3,152.6 342.9,152.4 343.5,152.2 344.1,152.0 344.7,151.8 345.3,151.6 345.9,151.3 346.5,151.3 347.1,150.8 347.7,150.7 348.3,150.5 348.9,150.1 349.5,150.0 350.1,149.6 350.7,149.4 351.3,149.1 352.0,148.8 352.6,148.6 353.2,148.5 353.8,148.2 354.4,148.0 355.0,147.9 355.6,147.5 356.2,147.3 356.8,147.2 357.4,146.8 358.0,146.6 358.6,146.6 359.2,146.2 359.8,145.9 360.4,145.7 361.0,145.7 361.6,145.5 362.2,145.2 362.8,145.0 363.4,144.7 364.0,144.5 364.6,144.2 365.2,144.1 365.9,143.9 366.5,143.4 367.1,143.4 367.7,143.1 368.3,142.9 368.9,142.6 369.5,142.5 370.1,142.1 370.7,141.8 371.3,141.4 371.9,141.0 372.5,140.8 373.1,140.4 373.7,140.3 374.3,139.9 374.9,139.5 375.5,139.4 376.1,139.2 376.7,138.9 377.3,138.6 377.9,138.4 378.5,138.1 379.1,137.6 379.8,137.7 380.4,137.4 381.0,137.2 381.6,136.7 382.2,136.7 382.8,136.4 383.4,136.4 384.0,136.5 384.6,136.7 385.2,136.6 385.8,136.9 386.4,137.2 387.0,137.6 387.6,137.9 388.2,138.4 388.8,138.6 389.4,139.3 390.0,140.3 390.6,141.0 391.2,141.7 391.8,142.7 392.4,143.9 393.0,145.2 393.7,146.3 394.3,147.4 394.9,148.2 395.5,149.2 396.1,149.9 396.7,150.5 397.3,151.2 397.9,151.9 398.5,152.7 399.1,153.2 399.7,153.8 400.3,154.2 400.9,154.5 401.5,154.8 402.1,155.2 402.7,155.4 403.3,155.6 403.9,155.7 404.5,156.0 405.1,156.2 405.7,156.2 406.3,156.4 406.9,156.5 407.5,156.6 408.2,156.7 408.8,156.7 409.4,156.8 410.0,156.9 410.6,156.9 411.2,157.0 411.8,157.0 412.4,157.0 413.0,157.0 413.6,157.1 414.2,157.0 414.8,157.1 415.4,157.0 416.0,157.1 416.6,157.1 417.2,157.1 417.8,157.1 418.4,157.1 419.0,157.1 419.6,157.1 420.2,157.1 420.8,157.2 421.4,157.1 422.1,157.2 422.7,157.1 423.3,157.1 423.9,157.2 424.5,157.2 425.1,157.2 425.7,157.1 426.3,157.1 426.9,157.1 427.5,157.1 428.1,157.1 428.7,157.1 429.3,157.1 429.9,157.1 430.5,157.2 431.1,157.1 431.7,157.1 432.3,157.1 432.9,157.2 433.5,157.2 434.1,157.1 434.7,157.1 435.3,157.2 436.0,157.1 436.6,157.1 437.2,157.2 437.8,157.1 438.4,157.1 439.0,157.2 439.6,157.1 440.2,157.2 440.8,157.2 441.4,157.2 442.0,157.2 442.6,157.1 443.2,157.1 443.8,157.2 444.4,157.1 445.0,157.1 445.6,157.1 446.2,157.2 446.8,157.1 447.4,157.1 448.0,157.1 448.6,157.2 449.2,157.2 449.9,157.2 450.5,157.2 451.1,157.1 451.7,157.2 452.3,157.1 452.9,157.1 453.5,157.1 454.1,157.2 454.7,157.2 455.3,157.1 455.9,157.1 456.5,157.1 457.1,157.1 457.7,157.1 458.3,157.1" fill="none" stroke="#237523" stroke-width="1.05" stroke-linejoin="round" />
<polyline points="277.6,157.3 278.2,157.3 278.8,157.3 279.4,157.3 280.0,157.3 280.6,157.3 281.2,157.3 281.9,157.3 282.5,157.2 283.1,157.2 283.7,157.2 284.3,157.3 284.9,157.2 285.5,157.3 286.1,157.3 286.7,157.3 287.3,157.3 287.9,157.2 288.5,157.2 289.1,157.2 289.7,157.2 290.3,157.2 290.9,157.2 291.5,157.2 292.1,157.2 292.7,157.2 293.3,157.2 293.9,157.2 294.5,157.1 295.1,157.2 295.8,157.2 296.4,157.1 297.0,157.1 297.6,157.1 298.2,157.1 298.8,157.1 299.4,157.1 300.0,157.1 300.6,157.1 301.2,157.1 301.8,157.0 302.4,157.0 303.0,157.0 303.6,157.0 304.2,157.0 304.8,156.9 305.4,156.9 306.0,156.9 306.6,156.9 307.2,156.9 307.8,156.8 308.4,156.8 309.0,156.8 309.7,156.7 310.3,156.6 310.9,156.7 311.5,156.6 312.1,156.6 312.7,156.4 313.3,156.4 313.9,156.4 314.5,156.4 315.1,156.4 315.7,156.3 316.3,156.2 316.9,156.2 317.5,156.1 318.1,156.1 318.7,156.1 319.3,156.0 319.9,155.9 320.5,155.9 321.1,155.7 321.7,155.7 322.3,155.7 322.9,155.6 323.5,155.6 324.2,155.4 324.8,155.3 325.4,155.3 326.0,155.2 326.6,155.1 327.2,155.0 327.8,155.1 328.4,154.9 329.0,154.8 329.6,154.6 330.2,154.6 330.8,154.5 331.4,154.4 332.0,154.3 332.6,154.1 333.2,154.0 333.8,153.8 334.4,153.7 335.0,153.6 335.6,153.3 336.2,153.2 336.8,152.9 337.4,152.8 338.1,152.8 338.7,152.4 339.3,152.2 339.9,152.1 340.5,152.0 341.1,151.6 341.7,151.4 342.3,151.2 342.9,151.1 343.5,150.7 344.1,150.6 344.7,150.2 345.3,149.8 345.9,149.8 346.5,149.5 347.1,149.1 347.7,148.6 348.3,148.3 348.9,148.2 349.5,147.8 350.1,147.5 350.7,147.2 351.3,146.8 352.0,146.6 352.6,146.2 353.2,145.9 353.8,145.4 354.4,145.3 355.0,145.4 355.6,145.0 356.2,144.6 356.8,144.3 357.4,144.2 358.0,143.8 358.6,143.6 359.2,143.3 359.8,143.0 360.4,142.6 361.0,142.3 361.6,142.1 362.2,142.0 362.8,141.7 363.4,141.4 364.0,141.1 364.6,140.8 365.2,140.6 365.9,140.3 366.5,139.9 367.1,139.6 367.7,139.3 368.3,139.1 368.9,138.7 369.5,138.5 370.1,138.2 370.7,137.8 371.3,137.2 371.9,136.9 372.5,136.6 373.1,136.0 373.7,135.6 374.3,135.3 374.9,135.1 375.5,134.7 376.1,134.4 376.7,134.1 377.3,133.7 377.9,133.2 378.5,132.7 379.1,132.4 379.8,132.3 380.4,132.1 381.0,131.8 381.6,131.5 382.2,131.1 382.8,131.4 383.4,130.9 384.0,131.3 384.6,131.1 385.2,131.1 385.8,131.8 386.4,132.3 387.0,132.2 387.6,132.5 388.2,133.1 388.8,133.6 389.4,134.7 390.0,135.5 390.6,136.4 391.2,137.4 391.8,138.7 392.4,140.3 393.0,141.8 393.7,143.4 394.3,144.4 394.9,145.7 395.5,146.8 396.1,147.7 396.7,148.6 397.3,149.5 397.9,150.4 398.5,151.2 399.1,152.1 399.7,152.7 400.3,153.3 400.9,153.7 401.5,154.0 402.1,154.4 402.7,154.7 403.3,154.9 403.9,155.2 404.5,155.5 405.1,155.7 405.7,155.9 406.3,156.0 406.9,156.2 407.5,156.3 408.2,156.4 408.8,156.4 409.4,156.5 410.0,156.5 410.6,156.7 411.2,156.7 411.8,156.8 412.4,156.7 413.0,156.8 413.6,156.8 414.2,156.8 414.8,156.8 415.4,156.9 416.0,156.8 416.6,156.9 417.2,156.8 417.8,156.9 418.4,156.9 419.0,156.9 419.6,156.9 420.2,156.9 420.8,157.0 421.4,156.9 422.1,156.9 422.7,156.9 423.3,156.9 423.9,156.9 424.5,156.9 425.1,156.9 425.7,157.0 426.3,156.9 426.9,156.9 427.5,156.9 428.1,156.9 428.7,156.9 429.3,156.9 429.9,156.9 430.5,156.9 431.1,156.9 431.7,156.9 432.3,157.0 432.9,156.9 433.5,157.0 434.1,156.9 434.7,156.9 435.3,156.9 436.0,157.0 436.6,157.0 437.2,156.9 437.8,156.9 438.4,156.9 439.0,156.9 439.6,156.9 440.2,156.9 440.8,157.0 441.4,156.9 442.0,156.9 442.6,157.0 443.2,156.9 443.8,156.9 444.4,156.9 445.0,157.0 445.6,156.9 446.2,156.9 446.8,156.9 447.4,157.0 448.0,156.9 448.6,157.0 449.2,156.9 449.9,156.9 450.5,156.9 451.1,157.0 451.7,156.9 452.3,156.9 452.9,156.9 453.5,156.9 454.1,156.9 454.7,156.9 455.3,156.9 455.9,156.9 456.5,156.9 457.1,157.0 457.7,157.0 458.3,156.9" fill="none" stroke="#26a326" stroke-width="1.05" stroke-linejoin="round" />
<polyline points="277.6,157.1 278.2,157.1 278.8,157.1 279.4,157.1 280.0,157.2 280.6,157.1 281.2,157.1 281.9,157.2 282.5,157.1 283.1,157.1 283.7,157.1 284.3,157.1 284.9,157.1 285.5,157.1 286.1,157.1 286.7,157.1 287.3,157.1 287.9,157.0 288.5,157.0 289.1,157.1 289.7,157.0 290.3,157.0 290.9,157.0 291.5,157.0 292.1,157.0 292.7,157.0 293.3,157.0 293.9,157.0 294.5,156.9 295.1,156.9 295.8,157.0 296.4,156.9 297.0,156.9 297.6,156.9 298.2,156.9 298.8,156.9 299.4,156.9 300.0,156.9 300.6,156.8 301.2,156.8 301.8,156.8 302.4,156.8 303.0,156.8 303.6,156.8 304.2,156.8 304.8,156.7 305.4,156.7 306.0,156.7 306.6,156.6 307.2,156.6 307.8,156.6 308.4,156.5 309.0,156.6 309.7,156.4 310.3,156.4 310.9,156.4 311.5,156.3 312.1,156.3 312.7,156.2 313.3,156.3 313.9,156.1 314.5,156.1 315.1,156.0 315.7,155.9 316.3,155.8 316.9,155.8 317.5,155.7 318.1,155.7 318.7,155.5 319.3,155.5 319.9,155.5 320.5,155.4 321.1,155.3 321.7,155.2 322.3,155.1 322.9,155.0 323.5,155.0 324.2,154.9 324.8,154.8 325.4,154.7 326.0,154.6 326.6,154.6 327.2,154.5 327.8,154.3 328.4,154.3 329.0,154.1 329.6,154.1 330.2,153.8 330.8,153.7 331.4,153.7 332.0,153.4 332.6,153.3 333.2,153.1 333.8,153.0 334.4,152.8 335.0,152.7 335.6,152.4 336.2,152.2 336.8,152.0 337.4,151.7 338.1,151.5 338.7,151.3 339.3,151.0 339.9,150.7 340.5,150.5 341.1,150.3 341.7,150.1 342.3,149.9 342.9,149.6 343.5,149.1 344.1,148.9 344.7,148.6 345.3,148.1 345.9,147.8 346.5,147.5 347.1,147.1 347.7,146.8 348.3,146.4 348.9,145.9 349.5,145.6 350.1,145.3 350.7,144.8 351.3,144.4 352.0,144.2 352.6,143.8 353.2,143.2 353.8,143.1 354.4,142.9 355.0,142.4 355.6,141.8 356.2,141.7 356.8,141.3 357.4,141.4 358.0,140.9 358.6,140.3 359.2,140.2 359.8,139.6 360.4,139.4 361.0,139.1 361.6,138.6 362.2,138.5 362.8,138.2 363.4,137.8 364.0,137.5 364.6,137.4 365.2,136.7 365.9,136.5 366.5,136.2 367.1,135.7 367.7,135.5 368.3,134.9 368.9,134.7 369.5,134.2 370.1,134.0 370.7,133.5 371.3,132.9 371.9,132.6 372.5,132.0 373.1,131.4 373.7,130.8 374.3,130.4 374.9,130.0 375.5,129.7 376.1,129.2 376.7,128.7 377.3,128.5 377.9,128.0 378.5,127.6 379.1,127.6 379.8,127.0 380.4,126.5 381.0,126.1 381.6,126.0 382.2,125.4 382.8,125.5 383.4,125.3 384.0,125.0 384.6,125.7 385.2,125.7 385.8,126.1 386.4,126.5 387.0,127.0 387.6,127.3 388.2,128.2 388.8,128.9 389.4,129.6 390.0,131.2 390.6,132.1 391.2,133.2 391.8,134.8 392.4,136.8 393.0,138.6 393.7,140.1 394.3,141.8 394.9,143.2 395.5,144.6 396.1,145.7 396.7,146.9 397.3,147.7 397.9,148.8 398.5,149.7 399.1,150.7 399.7,151.5 400.3,152.1 400.9,152.7 401.5,153.3 402.1,153.8 402.7,153.9 403.3,154.3 403.9,154.7 404.5,154.9 405.1,155.1 405.7,155.4 406.3,155.6 406.9,155.8 407.5,155.9 408.2,156.0 408.8,156.1 409.4,156.2 410.0,156.3 410.6,156.3 411.2,156.4 411.8,156.4 412.4,156.5 413.0,156.5 413.6,156.5 414.2,156.6 414.8,156.5 415.4,156.6 416.0,156.6 416.6,156.6 417.2,156.6 417.8,156.6 418.4,156.6 419.0,156.7 419.6,156.7 420.2,156.7 420.8,156.7 421.4,156.7 422.1,156.7 422.7,156.7 423.3,156.7 423.9,156.7 424.5,156.7 425.1,156.7 425.7,156.7 426.3,156.7 426.9,156.6 427.5,156.7 428.1,156.7 428.7,156.8 429.3,156.7 429.9,156.7 430.5,156.7 431.1,156.7 431.7,156.8 432.3,156.6 432.9,156.7 433.5,156.7 434.1,156.7 434.7,156.7 435.3,156.7 436.0,156.7 436.6,156.7 437.2,156.7 437.8,156.7 438.4,156.6 439.0,156.7 439.6,156.7 440.2,156.7 440.8,156.7 441.4,156.8 442.0,156.7 442.6,156.7 443.2,156.7 443.8,156.7 444.4,156.7 445.0,156.7 445.6,156.7 446.2,156.7 446.8,156.8 447.4,156.8 448.0,156.7 448.6,156.7 449.2,156.8 449.9,156.6 450.5,156.7 451.1,156.7 451.7,156.7 452.3,156.7 452.9,156.7 453.5,156.7 454.1,156.7 454.7,156.7 455.3,156.7 455.9,156.7 456.5,156.7 457.1,156.7 457.7,156.7 458.3,156.7" fill="none" stroke="#24cc24" stroke-width="1.05" stroke-linejoin="round" />
<polyline points="277.6,156.9 278.2,156.9 278.8,156.9 279.4,156.9 280.0,156.9 280.6,156.9 281.2,156.9 281.9,156.9 282.5,156.9 283.1,156.9 283.7,156.9 284.3,156.8 284.9,156.9 285.5,156.9 286.1,156.8 286.7,156.9 287.3,156.9 287.9,156.9 288.5,156.9 289.1,156.8 289.7,156.8 290.3,156.8 290.9,156.8 291.5,156.8 292.1,156.7 292.7,156.8 293.3,156.7 293.9,156.8 294.5,156.8 295.1,156.7 295.8,156.7 296.4,156.7 297.0,156.7 297.6,156.6 298.2,156.6 298.8,156.6 299.4,156.6 300.0,156.6 300.6,156.6 301.2,156.5 301.8,156.5 302.4,156.5 303.0,156.5 303.6,156.5 304.2,156.4 304.8,156.5 305.4,156.4 306.0,156.4 306.6,156.4 307.2,156.3 307.8,156.3 308.4,156.1 309.0,156.2 309.7,156.1 310.3,156.0 310.9,156.0 311.5,155.9 312.1,155.8 312.7,155.8 313.3,155.7 313.9,155.7 314.5,155.7 315.1,155.5 315.7,155.4 316.3,155.4 316.9,155.3 317.5,155.2 318.1,155.1 318.7,155.0 319.3,155.0 319.9,155.0 320.5,154.7 321.1,154.7 321.7,154.5 322.3,154.6 322.9,154.4 323.5,154.3 324.2,154.3 324.8,154.0 325.4,153.9 326.0,153.9 326.6,153.7 327.2,153.7 327.8,153.5 328.4,153.4 329.0,153.2 329.6,153.0 330.2,153.0 330.8,152.7 331.4,152.5 332.0,152.4 332.6,152.3 333.2,152.2 333.8,151.8 334.4,151.6 335.0,151.3 335.6,151.2 336.2,150.9 336.8,150.6 337.4,150.3 338.1,150.0 338.7,149.7 339.3,149.4 339.9,149.2 340.5,148.8 341.1,148.5 341.7,148.2 342.3,147.9 342.9,147.3 343.5,147.1 344.1,146.8 344.7,146.3 345.3,145.9 345.9,145.6 346.5,145.2 347.1,144.6 347.7,144.2 348.3,143.8 348.9,143.2 349.5,143.0 350.1,142.5 350.7,141.9 351.3,141.3 352.0,140.9 352.6,140.4 353.2,140.4 353.8,139.6 354.4,139.2 355.0,138.7 355.6,138.5 356.2,137.9 356.8,137.5 357.4,137.0 358.0,136.8 358.6,136.6 359.2,136.0 359.8,135.5 360.4,135.1 361.0,134.5 361.6,134.4 362.2,134.1 362.8,133.6 363.4,133.0 364.0,132.9 364.6,132.5 365.2,132.1 365.9,131.3 366.5,131.1 367.1,130.7 367.7,130.1 368.3,129.7 368.9,129.5 369.5,128.7 370.1,128.3 370.7,128.1 371.3,127.3 371.9,126.4 372.5,125.8 373.1,125.3 373.7,124.9 374.3,124.1 374.9,124.0 375.5,123.1 376.1,122.8 376.7,122.2 377.3,121.8 377.9,121.0 378.5,121.1 379.1,120.3 379.8,119.6 380.4,119.5 381.0,118.6 381.6,118.4 382.2,118.3 382.8,117.6 383.4,117.7 384.0,117.6 384.6,118.0 385.2,118.4 385.8,118.5 386.4,119.2 387.0,119.9 387.6,120.5 388.2,120.9 388.8,121.6 389.4,123.2 390.0,124.6 390.6,126.6 391.2,127.7 391.8,129.2 392.4,131.6 393.0,134.1 393.7,136.0 394.3,137.9 394.9,139.6 395.5,141.5 396.1,142.7 396.7,144.1 397.3,145.4 397.9,146.7 398.5,148.0 399.1,149.2 399.7,150.1 400.3,150.9 400.9,151.3 401.5,152.0 402.1,152.6 402.7,152.9 403.3,153.4 403.9,153.8 404.5,154.2 405.1,154.5 405.7,154.8 406.3,155.0 406.9,155.3 407.5,155.4 408.2,155.4 408.8,155.6 409.4,155.8 410.0,155.9 410.6,156.0 411.2,156.0 411.8,156.1 412.4,156.1 413.0,156.2 413.6,156.1 414.2,156.2 414.8,156.3 415.4,156.3 416.0,156.3 416.6,156.2 417.2,156.4 417.8,156.3 418.4,156.4 419.0,156.4 419.6,156.4 420.2,156.4 420.8,156.4 421.4,156.3 422.1,156.4 422.7,156.4 423.3,156.4 423.9,156.4 424.5,156.5 425.1,156.4 425.7,156.4 426.3,156.3 426.9,156.4 427.5,156.4 428.1,156.4 428.7,156.4 429.3,156.4 429.9,156.3 430.5,156.4 431.1,156.4 431.7,156.4 432.3,156.4 432.9,156.4 433.5,156.5 434.1,156.4 434.7,156.4 435.3,156.5 436.0,156.4 436.6,156.4 437.2,156.4 437.8,156.4 438.4,156.4 439.0,156.4 439.6,156.5 440.2,156.3 440.8,156.4 441.4,156.4 442.0,156.4 442.6,156.4 443.2,156.4 443.8,156.3 444.4,156.3 445.0,156.4 445.6,156.4 446.2,156.4 446.8,156.4 447.4,156.4 448.0,156.4 448.6,156.4 449.2,156.4 449.9,156.4 450.5,156.3 451.1,156.4 451.7,156.4 452.3,156.4 452.9,156.3 453.5,156.4 454.1,156.4 454.7,156.5 455.3,156.4 455.9,156.4 456.5,156.4 457.1,156.4 457.7,156.3 458.3,156.4" fill="none" stroke="#22f022" stroke-width="1.05" stroke-linejoin="round" />
<polyline points="277.6,156.6 278.2,156.6 278.8,156.6 279.4,156.6 280.0,156.7 280.6,156.7 281.2,156.6 281.9,156.6 282.5,156.6 283.1,156.6 283.7,156.6 284.3,156.6 284.9,156.6 285.5,156.6 286.1,156.6 286.7,156.5 287.3,156.6 287.9,156.5 288.5,156.5 289.1,156.6 289.7,156.5 290.3,156.5 290.9,156.5 291.5,156.4 292.1,156.5 292.7,156.5 293.3,156.4 293.9,156.4 294.5,156.3 295.1,156.4 295.8,156.3 296.4,156.4 297.0,156.3 297.6,156.3 298.2,156.2 298.8,156.2 299.4,156.2 300.0,156.2 300.6,156.2 301.2,156.2 301.8,156.1 302.4,156.2 303.0,156.1 303.6,156.1 304.2,156.1 304.8,156.0 305.4,155.9 306.0,156.0 306.6,156.0 307.2,155.8 307.8,155.8 308.4,155.7 309.0,155.7 309.7,155.5 310.3,155.5 310.9,155.5 311.5,155.4 312.1,155.2 312.7,155.1 313.3,155.2 313.9,155.0 314.5,154.8 315.1,154.9 315.7,154.7 316.3,154.6 316.9,154.5 317.5,154.5 318.1,154.5 318.7,154.1 319.3,154.2 319.9,154.0 320.5,153.8 321.1,154.0 321.7,153.7 322.3,153.5 322.9,153.4 323.5,153.3 324.2,153.0 324.8,153.0 325.4,152.8 326.0,152.7 326.6,152.7 327.2,152.5 327.8,152.1 328.4,152.1 329.0,151.9 329.6,151.9 330.2,151.6 330.8,151.4 331.4,151.1 332.0,150.8 332.6,150.7 333.2,150.4 333.8,150.0 334.4,149.8 335.0,149.5 335.6,149.2 336.2,149.0 336.8,148.7 337.4,148.5 338.1,147.8 338.7,147.6 339.3,147.2 339.9,146.9 340.5,146.3 341.1,145.9 341.7,145.5 342.3,145.3 342.9,144.8 343.5,144.2 344.1,143.8 344.7,143.1 345.3,142.5 345.9,142.3 346.5,141.6 347.1,141.2 347.7,140.3 348.3,139.8 348.9,138.9 349.5,138.8 350.1,138.3 350.7,137.5 351.3,137.0 352.0,136.3 352.6,135.6 353.2,135.3 353.8,134.6 354.4,134.6 355.0,133.5 355.6,133.1 356.2,132.7 356.8,132.2 357.4,131.3 358.0,131.2 358.6,130.4 359.2,130.2 359.8,129.6 360.4,129.0 361.0,128.1 361.6,127.9 362.2,127.4 362.8,127.0 363.4,126.5 364.0,126.1 364.6,125.0 365.2,124.6 365.9,124.5 366.5,123.8 367.1,123.6 367.7,122.5 368.3,122.0 368.9,121.6 369.5,121.1 370.1,120.1 370.7,119.4 371.3,118.8 371.9,117.8 372.5,117.5 373.1,116.6 373.7,116.0 374.3,115.1 374.9,114.0 375.5,113.8 376.1,112.9 376.7,112.6 377.3,112.0 377.9,111.0 378.5,110.5 379.1,109.6 379.8,109.2 380.4,109.1 381.0,109.0 381.6,107.8 382.2,107.7 382.8,107.4 383.4,107.2 384.0,107.0 384.6,107.2 385.2,107.5 385.8,107.6 386.4,109.1 387.0,109.4 387.6,110.5 388.2,111.3 388.8,112.2 389.4,113.6 390.0,116.1 390.6,117.3 391.2,119.5 391.8,121.4 392.4,124.8 393.0,127.4 393.7,130.1 394.3,132.6 394.9,134.7 395.5,137.1 396.1,138.9 396.7,140.4 397.3,141.7 397.9,143.7 398.5,145.4 399.1,146.5 399.7,147.9 400.3,148.9 400.9,149.8 401.5,150.5 402.1,151.1 402.7,151.7 403.3,152.2 403.9,152.7 404.5,153.1 405.1,153.5 405.7,154.0 406.3,154.2 406.9,154.4 407.5,154.7 408.2,155.0 408.8,155.0 409.4,155.2 410.0,155.2 410.6,155.4 411.2,155.6 411.8,155.6 412.4,155.6 413.0,155.8 413.6,155.7 414.2,155.7 414.8,155.8 415.4,155.8 416.0,155.8 416.6,155.9 417.2,155.9 417.8,155.9 418.4,155.9 419.0,155.9 419.6,155.9 420.2,155.9 420.8,156.0 421.4,155.9 422.1,155.9 422.7,155.9 423.3,156.0 423.9,156.0 424.5,155.9 425.1,156.0 425.7,155.9 426.3,156.0 426.9,156.0 427.5,156.1 428.1,155.9 428.7,156.0 429.3,156.0 429.9,156.0 430.5,155.9 431.1,155.9 431.7,156.0 432.3,155.9 432.9,156.0 433.5,156.0 434.1,156.1 434.7,156.0 435.3,156.0 436.0,156.0 436.6,156.0 437.2,155.9 437.8,156.0 438.4,156.0 439.0,155.9 439.6,155.9 440.2,156.0 440.8,156.1 441.4,156.0 442.0,156.0 442.6,156.0 443.2,156.0 443.8,156.0 444.4,155.9 445.0,156.0 445.6,156.0 446.2,156.0 446.8,155.9 447.4,156.0 448.0,155.9 448.6,156.0 449.2,155.8 449.9,155.9 450.5,156.0 451.1,156.0 451.7,156.0 452.3,155.9 452.9,155.9 453.5,156.0 454.1,156.0 454.7,156.0 455.3,155.9 455.9,155.9 456.5,156.1 457.1,156.0 457.7,156.0 458.3,156.0" fill="none" stroke="#2e2e96" stroke-width="1.05" stroke-linejoin="round" />
<polyline points="277.6,156.1 278.2,156.3 278.8,156.3 279.4,156.1 280.0,156.3 280.6,156.2 281.2,156.2 281.9,156.2 282.5,156.2 283.1,156.2 283.7,156.1 284.3,156.3 284.9,156.2 285.5,156.2 286.1,156.1 286.7,156.2 287.3,156.1 287.9,156.1 288.5,156.1 289.1,156.0 289.7,156.1 290.3,155.9 290.9,156.0 291.5,155.9 292.1,155.9 292.7,156.1 293.3,156.0 293.9,155.9 294.5,156.0 295.1,155.9 295.8,155.9 296.4,155.9 297.0,155.7 297.6,155.7 298.2,155.7 298.8,155.7 299.4,155.8 300.0,155.6 300.6,155.7 301.2,155.5 301.8,155.6 302.4,155.6 303.0,155.5 303.6,155.4 304.2,155.5 304.8,155.4 305.4,155.3 306.0,155.3 306.6,155.2 307.2,155.1 307.8,155.0 308.4,155.0 309.0,154.9 309.7,154.9 310.3,154.7 310.9,154.7 311.5,154.4 312.1,154.3 312.7,154.2 313.3,154.2 313.9,153.9 314.5,153.9 315.1,153.8 315.7,153.5 316.3,153.6 316.9,153.5 317.5,153.5 318.1,153.5 318.7,153.1 319.3,152.9 319.9,152.8 320.5,152.7 321.1,152.7 321.7,152.3 322.3,152.1 322.9,151.9 323.5,152.0 324.2,151.8 324.8,151.6 325.4,151.4 326.0,151.4 326.6,151.1 327.2,150.6 327.8,150.7 328.4,150.6 329.0,150.1 329.6,149.9 330.2,149.5 330.8,149.4 331.4,149.1 332.0,148.8 332.6,148.5 333.2,148.0 333.8,147.7 334.4,147.4 335.0,147.0 335.6,146.8 336.2,146.3 336.8,145.8 337.4,145.2 338.1,145.2 338.7,144.5 339.3,143.9 339.9,143.5 340.5,142.9 341.1,142.3 341.7,141.8 342.3,141.6 342.9,140.9 343.5,140.6 344.1,139.3 344.7,138.7 345.3,137.9 345.9,137.4 346.5,136.9 347.1,135.8 347.7,135.6 348.3,134.6 348.9,133.9 349.5,132.9 350.1,132.1 350.7,131.6 351.3,130.8 352.0,129.9 352.6,129.3 353.2,128.3 353.8,127.7 354.4,126.8 355.0,125.8 355.6,126.0 356.2,125.2 356.8,124.3 357.4,123.7 358.0,123.2 358.6,122.9 359.2,121.1 359.8,121.1 360.4,120.7 361.0,120.4 361.6,118.7 362.2,118.3 362.8,117.7 363.4,117.4 364.0,116.4 364.6,115.9 365.2,115.8 365.9,113.6 366.5,113.6 367.1,113.1 367.7,112.6 368.3,111.7 368.9,110.0 369.5,109.8 370.1,109.5 370.7,107.9 371.3,107.0 371.9,105.9 372.5,105.1 373.1,104.1 373.7,103.1 374.3,102.4 374.9,102.0 375.5,101.0 376.1,99.9 376.7,99.6 377.3,98.3 377.9,97.5 378.5,96.3 379.1,95.7 379.8,95.1 380.4,94.4 381.0,93.5 381.6,92.6 382.2,92.7 382.8,92.4 383.4,91.9 384.0,92.5 384.6,92.2 385.2,92.2 385.8,92.9 386.4,93.6 387.0,95.0 387.6,95.9 388.2,97.3 388.8,98.8 389.4,100.4 390.0,102.9 390.6,105.4 391.2,108.4 391.8,110.6 392.4,114.9 393.0,118.8 393.7,121.9 394.3,124.7 394.9,127.8 395.5,130.7 396.1,132.2 396.7,135.2 397.3,137.1 397.9,139.1 398.5,141.6 399.1,143.3 399.7,145.0 400.3,146.2 400.9,147.4 401.5,148.0 402.1,149.3 402.7,149.8 403.3,150.5 403.9,151.4 404.5,151.6 405.1,152.3 405.7,152.8 406.3,153.1 406.9,153.6 407.5,153.8 408.2,154.0 408.8,154.2 409.4,154.3 410.0,154.4 410.6,154.8 411.2,154.9 411.8,154.9 412.4,154.9 413.0,154.9 413.6,155.1 414.2,155.2 414.8,155.0 415.4,155.1 416.0,155.1 416.6,155.3 417.2,155.2 417.8,155.2 418.4,155.4 419.0,155.2 419.6,155.2 420.2,155.3 420.8,155.3 421.4,155.3 422.1,155.4 422.7,155.5 423.3,155.4 423.9,155.4 424.5,155.4 425.1,155.3 425.7,155.4 426.3,155.4 426.9,155.5 427.5,155.3 428.1,155.4 428.7,155.3 429.3,155.5 429.9,155.3 430.5,155.4 431.1,155.4 431.7,155.2 432.3,155.3 432.9,155.4 433.5,155.3 434.1,155.4 434.7,155.3 435.3,155.5 436.0,155.4 436.6,155.4 437.2,155.4 437.8,155.5 438.4,155.5 439.0,155.4 439.6,155.3 440.2,155.4 440.8,155.4 441.4,155.5 442.0,155.4 442.6,155.4 443.2,155.4 443.8,155.4 444.4,155.4 445.0,155.3 445.6,155.4 446.2,155.4 446.8,155.4 447.4,155.4 448.0,155.5 448.6,155.4 449.2,155.5 449.9,155.5 450.5,155.4 451.1,155.4 451.7,155.3 452.3,155.4 452.9,155.3 453.5,155.3 454.1,155.4 454.7,155.3 455.3,155.4 455.9,155.3 456.5,155.4 457.1,155.4 457.7,155.4 458.3,155.4" fill="none" stroke="#3434c4" stroke-width="1.05" stroke-linejoin="round" />
<polyline points="277.6,155.7 278.2,155.6 278.8,155.5 279.4,155.7 280.0,155.6 280.6,155.6 281.2,155.4 281.9,155.6 282.5,155.6 283.1,155.5 283.7,155.6 284.3,155.5 284.9,155.6 285.5,155.3 286.1,155.5 286.7,155.5 287.3,155.5 287.9,155.4 288.5,155.4 289.1,155.4 289.7,155.2 290.3,155.3 290.9,155.3 291.5,155.2 292.1,155.1 292.7,155.2 293.3,155.2 293.9,155.1 294.5,155.1 295.1,155.3 295.8,155.0 296.4,155.0 297.0,155.1 297.6,155.0 298.2,155.1 298.8,155.0 299.4,154.9 300.0,154.7 300.6,154.8 301.2,154.7 301.8,154.8 302.4,154.6 303.0,154.7 303.6,154.5 304.2,154.5 304.8,154.5 305.4,154.5 306.0,154.4 306.6,154.1 307.2,153.8 307.8,154.1 308.4,154.0 309.0,153.8 309.7,153.7 310.3,153.6 310.9,153.2 311.5,153.2 312.1,153.0 312.7,153.0 313.3,152.8 313.9,152.6 314.5,152.7 315.1,152.5 315.7,152.2 316.3,152.2 316.9,151.7 317.5,151.8 318.1,151.6 318.7,151.3 319.3,150.9 319.9,150.9 320.5,150.8 321.1,150.7 321.7,150.3 322.3,150.2 322.9,149.6 323.5,149.5 324.2,149.9 324.8,149.3 325.4,148.9 326.0,148.3 326.6,148.7 327.2,148.2 327.8,147.7 328.4,147.7 329.0,147.2 329.6,147.0 330.2,146.4 330.8,146.3 331.4,145.7 332.0,145.6 332.6,144.7 333.2,144.4 333.8,144.0 334.4,143.5 335.0,143.0 335.6,142.6 336.2,141.9 336.8,141.3 337.4,140.8 338.1,140.3 338.7,139.6 339.3,138.9 339.9,138.0 340.5,137.4 341.1,136.2 341.7,136.0 342.3,135.1 342.9,134.5 343.5,133.5 344.1,132.8 344.7,132.0 345.3,130.8 345.9,129.5 346.5,129.2 347.1,128.1 347.7,127.0 348.3,125.9 348.9,124.6 349.5,124.1 350.1,122.9 350.7,122.0 351.3,120.9 352.0,119.8 352.6,119.0 353.2,117.5 353.8,116.4 354.4,116.0 355.0,115.1 355.6,113.5 356.2,113.1 356.8,111.7 357.4,112.2 358.0,110.4 358.6,109.8 359.2,108.7 359.8,107.3 360.4,106.3 361.0,105.8 361.6,104.5 362.2,104.3 362.8,102.9 363.4,102.2 364.0,101.8 364.6,100.0 365.2,99.6 365.9,98.3 366.5,97.8 367.1,96.5 367.7,95.3 368.3,94.5 368.9,93.7 369.5,92.1 370.1,91.1 370.7,90.1 371.3,88.5 371.9,87.2 372.5,85.9 373.1,84.0 373.7,82.4 374.3,82.2 374.9,80.9 375.5,80.2 376.1,79.3 376.7,77.1 377.3,76.7 377.9,75.1 378.5,74.7 379.1,73.2 379.8,71.7 380.4,70.8 381.0,69.9 381.6,68.9 382.2,68.2 382.8,67.2 383.4,66.5 384.0,67.1 384.6,67.9 385.2,69.1 385.8,69.8 386.4,70.9 387.0,71.3 387.6,73.9 388.2,75.2 388.8,77.3 389.4,79.1 390.0,83.4 390.6,87.1 391.2,90.2 391.8,93.3 392.4,99.8 393.0,103.8 393.7,108.3 394.3,113.3 394.9,117.0 395.5,120.5 396.1,124.2 396.7,127.1 397.3,129.7 397.9,132.5 398.5,135.4 399.1,138.5 399.7,140.0 400.3,141.8 400.9,143.4 401.5,144.8 402.1,145.7 402.7,146.6 403.3,147.9 403.9,148.7 404.5,149.7 405.1,150.3 405.7,150.8 406.3,151.4 406.9,151.8 407.5,152.2 408.2,152.5 408.8,152.7 409.4,152.9 410.0,153.5 410.6,153.5 411.2,153.9 411.8,153.8 412.4,153.9 413.0,154.0 413.6,153.8 414.2,154.0 414.8,153.9 415.4,154.0 416.0,154.0 416.6,154.2 417.2,154.2 417.8,154.2 418.4,154.0 419.0,154.3 419.6,154.3 420.2,154.2 420.8,154.3 421.4,154.4 422.1,154.2 422.7,154.3 423.3,154.3 423.9,154.3 424.5,154.3 425.1,154.5 425.7,154.3 426.3,154.5 426.9,154.4 427.5,154.3 428.1,154.4 428.7,154.4 429.3,154.4 429.9,154.4 430.5,154.3 431.1,154.5 431.7,154.5 432.3,154.2 432.9,154.6 433.5,154.5 434.1,154.3 434.7,154.6 435.3,154.5 436.0,154.5 436.6,154.3 437.2,154.5 437.8,154.3 438.4,154.5 439.0,154.4 439.6,154.5 440.2,154.5 440.8,154.4 441.4,154.5 442.0,154.4 442.6,154.4 443.2,154.4 443.8,154.3 444.4,154.3 445.0,154.5 445.6,154.5 446.2,154.2 446.8,154.4 447.4,154.4 448.0,154.3 448.6,154.5 449.2,154.3 449.9,154.4 450.5,154.3 451.1,154.4 451.7,154.3 452.3,154.3 452.9,154.3 453.5,154.5 454.1,154.4 454.7,154.5 455.3,154.6 455.9,154.4 456.5,154.4 457.1,154.3 457.7,154.4 458.3,154.2" fill="none" stroke="#3838e6" stroke-width="1.05" stroke-linejoin="round" />
<polyline points="277.6,154.4 278.2,154.3 278.8,154.5 279.4,154.6 280.0,154.2 280.6,154.4 281.2,154.3 281.9,154.4 282.5,154.3 283.1,154.4 283.7,154.4 284.3,154.3 284.9,154.2 285.5,154.4 286.1,154.3 286.7,154.1 287.3,154.3 287.9,154.1 288.5,154.3 289.1,154.1 289.7,153.9 290.3,154.0 290.9,153.9 291.5,154.0 292.1,153.9 292.7,154.1 293.3,154.0 293.9,153.7 294.5,153.9 295.1,153.5 295.8,153.5 296.4,153.7 297.0,153.8 297.6,153.8 298.2,153.4 298.8,153.4 299.4,153.2 300.0,153.2 300.6,153.1 301.2,153.1 301.8,153.3 302.4,153.1 303.0,153.1 303.6,152.9 304.2,152.9 304.8,152.8 305.4,152.4 306.0,152.6 306.6,152.6 307.2,152.4 307.8,152.2 308.4,152.1 309.0,151.8 309.7,151.7 310.3,151.3 310.9,151.1 311.5,151.1 312.1,150.6 312.7,150.3 313.3,150.3 313.9,150.3 314.5,149.8 315.1,149.7 315.7,149.3 316.3,149.3 316.9,148.5 317.5,148.7 318.1,148.3 318.7,148.2 319.3,147.8 319.9,148.0 320.5,147.5 321.1,147.4 321.7,146.4 322.3,146.6 322.9,146.3 323.5,145.4 324.2,145.4 324.8,145.0 325.4,144.3 326.0,144.1 326.6,143.7 327.2,143.2 327.8,143.4 328.4,142.2 329.0,141.7 329.6,141.0 330.2,141.5 330.8,140.6 331.4,139.9 332.0,138.7 332.6,138.4 333.2,137.4 333.8,137.1 334.4,136.7 335.0,136.1 335.6,135.2 336.2,133.8 336.8,133.6 337.4,133.0 338.1,131.4 338.7,130.1 339.3,128.7 339.9,128.0 340.5,127.1 341.1,126.9 341.7,125.3 342.3,124.2 342.9,122.8 343.5,122.0 344.1,120.0 344.7,118.5 345.3,117.6 345.9,116.4 346.5,114.7 347.1,113.2 347.7,111.6 348.3,110.8 348.9,108.3 349.5,107.4 350.1,105.8 350.7,103.8 351.3,102.9 352.0,100.6 352.6,98.5 353.2,97.9 353.8,96.6 354.4,95.5 355.0,93.2 355.6,92.0 356.2,92.0 356.8,89.4 357.4,88.9 358.0,87.8 358.6,85.9 359.2,84.9 359.8,82.5 360.4,82.4 361.0,81.1 361.6,79.5 362.2,77.7 362.8,76.0 363.4,75.5 364.0,74.0 364.6,73.1 365.2,71.0 365.9,70.1 366.5,66.9 367.1,65.6 367.7,65.8 368.3,63.6 368.9,61.9 369.5,60.8 370.1,59.0 370.7,56.5 371.3,55.0 371.9,52.9 372.5,50.6 373.1,47.8 373.7,46.9 374.3,44.8 374.9,43.2 375.5,41.3 376.1,40.3 376.7,38.8 377.3,37.2 377.9,34.8 378.5,33.2 379.1,31.8 379.8,30.0 380.4,27.2 381.0,26.8 381.6,27.2 382.2,23.8 382.8,23.7 383.4,24.0 384.0,22.4 384.6,24.1 385.2,24.4 385.8,27.1 386.4,27.6 387.0,30.3 387.6,31.4 388.2,33.9 388.8,38.2 389.4,41.1 390.0,46.5 390.6,51.5 391.2,57.1 391.8,61.9 392.4,70.8 393.0,77.4 393.7,85.3 394.3,90.5 394.9,96.8 395.5,101.2 396.1,107.5 396.7,111.1 397.3,116.0 397.9,120.5 398.5,124.1 399.1,128.2 399.7,131.1 400.3,134.4 400.9,136.5 401.5,138.1 402.1,140.2 402.7,141.1 403.3,142.4 403.9,144.1 404.5,145.3 405.1,146.4 405.7,147.4 406.3,148.2 406.9,148.8 407.5,149.2 408.2,149.8 408.8,150.3 409.4,150.7 410.0,151.1 410.6,151.3 411.2,151.4 411.8,151.4 412.4,152.1 413.0,152.1 413.6,152.0 414.2,152.0 414.8,152.1 415.4,151.9 416.0,152.5 416.6,152.3 417.2,152.5 417.8,152.4 418.4,152.4 419.0,152.7 419.6,152.4 420.2,152.7 420.8,152.7 421.4,152.8 422.1,152.7 422.7,152.7 423.3,152.5 423.9,152.9 424.5,152.6 425.1,152.5 425.7,152.7 426.3,152.5 426.9,152.8 427.5,152.6 428.1,152.7 428.7,152.4 429.3,152.7 429.9,152.7 430.5,152.6 431.1,152.7 431.7,152.7 432.3,152.6 432.9,152.5 433.5,152.7 434.1,152.6 434.7,152.7 435.3,152.6 436.0,152.5 436.6,152.6 437.2,152.6 437.8,152.4 438.4,152.8 439.0,152.4 439.6,152.6 440.2,152.9 440.8,152.6 441.4,152.9 442.0,152.7 442.6,152.9 443.2,152.6 443.8,152.8 444.4,152.4 445.0,152.8 445.6,152.6 446.2,152.8 446.8,152.7 447.4,152.6 448.0,152.6 448.6,152.3 449.2,152.4 449.9,152.5 450.5,152.7 451.1,152.7 451.7,152.7 452.3,152.8 452.9,152.6 453.5,152.7 454.1,152.6 454.7,152.7 455.3,152.6 455.9,152.4 456.5,152.6 457.1,152.5 457.7,152.8 458.3,152.7" fill="none" stroke="#3c3cff" stroke-width="1.05" stroke-linejoin="round" />
</g>
<rect x="277.60" y="14.00" width="180.80" height="150.00" fill="none" stroke="#333" stroke-width="1.25"/>
<line x1="277.60" y1="158.00" x2="281.70" y2="158.00" stroke="#333" stroke-width="1.25"/>
<text x="273.10" y="162.30" font-size="11" text-anchor="end" font-weight="normal" fill="#1e1e1e" >0</text>
<line x1="277.60" y1="141.80" x2="280.20" y2="141.80" stroke="#333" stroke-width="1.25"/>
<line x1="277.60" y1="125.60" x2="281.70" y2="125.60" stroke="#333" stroke-width="1.25"/>
<text x="273.10" y="129.90" font-size="11" text-anchor="end" font-weight="normal" fill="#1e1e1e" >2,000</text>
<line x1="277.60" y1="109.40" x2="280.20" y2="109.40" stroke="#333" stroke-width="1.25"/>
<line x1="277.60" y1="93.20" x2="281.70" y2="93.20" stroke="#333" stroke-width="1.25"/>
<text x="273.10" y="97.50" font-size="11" text-anchor="end" font-weight="normal" fill="#1e1e1e" >4,000</text>
<line x1="277.60" y1="77.00" x2="280.20" y2="77.00" stroke="#333" stroke-width="1.25"/>
<line x1="277.60" y1="60.80" x2="281.70" y2="60.80" stroke="#333" stroke-width="1.25"/>
<text x="273.10" y="65.10" font-size="11" text-anchor="end" font-weight="normal" fill="#1e1e1e" >6,000</text>
<line x1="277.60" y1="44.60" x2="280.20" y2="44.60" stroke="#333" stroke-width="1.25"/>
<line x1="277.60" y1="28.40" x2="281.70" y2="28.40" stroke="#333" stroke-width="1.25"/>
<text x="273.10" y="32.70" font-size="11" text-anchor="end" font-weight="normal" fill="#1e1e1e" >8,000</text>
<line x1="281.23" y1="164.00" x2="281.23" y2="161.40" stroke="#333" stroke-width="1.25"/>
<line x1="300.60" y1="164.00" x2="300.60" y2="160.20" stroke="#333" stroke-width="1.25"/>
<text x="300.60" y="175.70" font-size="11" text-anchor="middle" font-weight="normal" fill="#1e1e1e" >1.5</text>
<line x1="319.98" y1="164.00" x2="319.98" y2="161.40" stroke="#333" stroke-width="1.25"/>
<line x1="339.35" y1="164.00" x2="339.35" y2="160.20" stroke="#333" stroke-width="1.25"/>
<text x="339.35" y="175.70" font-size="11" text-anchor="middle" font-weight="normal" fill="#1e1e1e" >1.6</text>
<line x1="358.72" y1="164.00" x2="358.72" y2="161.40" stroke="#333" stroke-width="1.25"/>
<line x1="378.10" y1="164.00" x2="378.10" y2="160.20" stroke="#333" stroke-width="1.25"/>
<text x="378.10" y="175.70" font-size="11" text-anchor="middle" font-weight="normal" fill="#1e1e1e" >1.7</text>
<line x1="397.48" y1="164.00" x2="397.48" y2="161.40" stroke="#333" stroke-width="1.25"/>
<line x1="416.85" y1="164.00" x2="416.85" y2="160.20" stroke="#333" stroke-width="1.25"/>
<text x="416.85" y="175.70" font-size="11" text-anchor="middle" font-weight="normal" fill="#1e1e1e" >1.8</text>
<line x1="436.23" y1="164.00" x2="436.23" y2="161.40" stroke="#333" stroke-width="1.25"/>
<line x1="455.60" y1="164.00" x2="455.60" y2="160.20" stroke="#333" stroke-width="1.25"/>
<text x="455.60" y="175.70" font-size="11" text-anchor="middle" font-weight="normal" fill="#1e1e1e" >1.9</text>
<text x="368.00" y="190.00" font-size="11" text-anchor="middle" font-weight="normal" fill="#1e1e1e" >Energy (eV)</text>
<text x="0" y="0" font-size="11" text-anchor="middle" fill="#1e1e1e" transform="translate(237.60,87.60) rotate(-90)">PL Intensity (a.u.)</text>
<text x="228.00" y="12.70" font-size="11" text-anchor="start" font-weight="normal" fill="#1e1e1e" >b)</text>
<clipPath id="cc"><rect x="502.5" y="14.0" width="180.5" height="149.6"/></clipPath>
<g clip-path="url(#cc)">
<polyline points="502.3,161.4 520.0,161.4 536.5,161.2 553.1,161.0 553.6,161.0 554.2,161.0 554.7,161.0 555.3,161.0 555.8,161.0 556.4,161.0 556.9,160.9 557.4,160.9 558.0,160.9 558.5,160.9 559.1,160.9 559.6,160.9 560.2,160.8 560.7,160.8 561.3,160.8 561.8,160.8 562.3,160.8 562.9,160.7 563.4,160.7 564.0,160.7 564.5,160.7 565.1,160.7 565.6,160.6 566.2,160.6 566.7,160.6 567.3,160.6 567.8,160.6 568.3,160.5 568.9,160.5 569.4,160.5 570.0,160.4 570.5,160.4 571.1,160.4 571.6,160.4 572.2,160.3 572.7,160.3 573.3,160.3 573.8,160.3 574.3,160.2 574.9,160.2 575.4,160.2 576.0,160.1 576.5,160.1 577.1,160.1 577.6,160.0 578.2,160.0 578.7,160.0 579.2,160.0 579.8,159.9 580.3,159.9 580.9,159.9 581.4,159.8 582.0,159.8 582.5,159.8 583.1,159.7 583.6,159.7 584.2,159.6 584.7,159.6 585.2,159.6 585.8,159.5 586.3,159.5 586.9,159.5 587.4,159.4 588.0,159.4 588.5,159.4 589.1,159.3 589.6,159.3 590.1,159.3 590.7,159.3 591.2,159.2 591.8,159.2 592.3,159.2 592.9,159.1 593.4,159.1 594.0,159.1 594.5,159.0 595.1,159.0 595.6,158.9 596.1,158.9 596.7,158.8 597.2,158.8 597.8,158.7 598.3,158.7 598.9,158.6 599.4,158.5 600.0,158.5 600.5,158.4 601.1,158.3 601.6,158.2 602.1,158.2 602.7,158.1 603.2,158.0 603.8,158.0 604.3,157.9 604.9,157.8 605.4,157.8 606.0,157.7 606.5,157.7 607.0,157.6 607.6,157.5 608.1,157.5 608.7,157.4 609.2,157.4 609.8,157.4 610.3,157.4 610.9,157.4 611.4,157.5 612.0,157.5 612.5,157.6 613.0,157.6 613.6,157.7 614.1,157.8 614.7,157.8 615.2,157.9 615.8,158.0 616.3,158.1 616.9,158.3 617.4,158.4 618.0,158.5 618.5,158.6 619.0,158.7 619.6,158.8 620.1,158.9 620.7,159.0 621.2,159.1 621.8,159.2 622.3,159.3 622.9,159.4 623.4,159.5 623.9,159.6 624.5,159.7 625.0,159.8 625.6,159.9 626.1,160.0 626.7,160.1 627.2,160.2 627.8,160.3 628.3,160.4 628.9,160.4 629.4,160.5 629.9,160.5 630.5,160.6 631.0,160.7 631.6,160.7 632.1,160.7 632.7,160.8 633.2,160.8 633.8,160.9 634.3,160.9 634.8,160.9 635.4,160.9 635.9,161.0 636.5,161.0 637.0,161.0 637.6,161.0 638.1,161.0 638.7,161.1 639.2,161.1 639.8,161.1 640.3,161.1 640.8,161.1 641.4,161.1 641.9,161.1 642.5,161.1 643.0,161.1 643.6,161.1 644.1,161.2 644.7,161.2 645.2,161.2 645.8,161.2 646.3,161.2 646.8,161.2 647.4,161.2 647.9,161.2 648.5,161.2 649.0,161.2 649.6,161.2 650.1,161.2 650.7,161.2 651.2,161.2 651.7,161.2 652.3,161.2 652.8,161.2 653.4,161.2 653.9,161.2 654.5,161.2 655.0,161.2 655.6,161.2 656.1,161.2 656.7,161.2 657.2,161.2 657.7,161.2 658.3,161.2 658.8,161.2 659.4,161.2 659.9,161.2 660.5,161.2 661.0,161.2 661.6,161.2 662.1,161.2 662.7,161.2 663.2,161.2 663.7,161.2 664.3,161.2 664.8,161.2 665.4,161.2 665.9,161.2 666.5,161.2 667.0,161.2 667.6,161.2 668.1,161.2 668.6,161.2 669.2,161.2 669.7,161.2 670.3,161.2 670.8,161.2 671.4,161.2 671.9,161.2 672.5,161.2 673.0,161.2 673.6,161.2 674.1,161.2 674.6,161.2 675.2,161.2 675.7,161.2 676.3,161.2 676.8,161.2 677.4,161.2 677.9,161.2 678.5,161.2 679.0,161.2 679.5,161.2 680.1,161.2 680.6,161.2 681.2,161.2 681.7,161.2 682.3,161.2 682.8,161.2 683.4,161.2" fill="none" stroke="#303030" stroke-width="1.05" stroke-linejoin="round" />
<polyline points="502.3,161.4 520.0,161.3 536.5,161.1 553.1,160.8 553.6,160.7 554.2,160.7 554.7,160.7 555.3,160.7 555.8,160.7 556.4,160.6 556.9,160.6 557.4,160.6 558.0,160.6 558.5,160.5 559.1,160.5 559.6,160.5 560.2,160.4 560.7,160.4 561.3,160.4 561.8,160.4 562.3,160.3 562.9,160.3 563.4,160.3 564.0,160.2 564.5,160.2 565.1,160.2 565.6,160.1 566.2,160.1 566.7,160.1 567.3,160.0 567.8,160.0 568.3,159.9 568.9,159.9 569.4,159.9 570.0,159.8 570.5,159.8 571.1,159.7 571.6,159.7 572.2,159.6 572.7,159.6 573.3,159.5 573.8,159.5 574.3,159.5 574.9,159.4 575.4,159.4 576.0,159.3 576.5,159.3 577.1,159.2 577.6,159.2 578.2,159.1 578.7,159.1 579.2,159.0 579.8,159.0 580.3,158.9 580.9,158.9 581.4,158.8 582.0,158.8 582.5,158.7 583.1,158.7 583.6,158.6 584.2,158.5 584.7,158.5 585.2,158.4 585.8,158.4 586.3,158.3 586.9,158.2 587.4,158.2 588.0,158.1 588.5,158.1 589.1,158.0 589.6,158.0 590.1,158.0 590.7,157.9 591.2,157.9 591.8,157.8 592.3,157.8 592.9,157.7 593.4,157.6 594.0,157.6 594.5,157.5 595.1,157.5 595.6,157.4 596.1,157.3 596.7,157.2 597.2,157.2 597.8,157.1 598.3,157.0 598.9,156.9 599.4,156.7 600.0,156.6 600.5,156.5 601.1,156.4 601.6,156.3 602.1,156.2 602.7,156.1 603.2,155.9 603.8,155.8 604.3,155.7 604.9,155.6 605.4,155.5 606.0,155.4 606.5,155.4 607.0,155.3 607.6,155.2 608.1,155.1 608.7,155.0 609.2,154.9 609.8,154.9 610.3,154.9 610.9,155.0 611.4,155.0 612.0,155.1 612.5,155.2 613.0,155.3 613.6,155.4 614.1,155.5 614.7,155.7 615.2,155.8 615.8,156.0 616.3,156.1 616.9,156.3 617.4,156.5 618.0,156.7 618.5,156.9 619.0,157.1 619.6,157.2 620.1,157.4 620.7,157.6 621.2,157.7 621.8,157.8 622.3,158.0 622.9,158.1 623.4,158.3 623.9,158.5 624.5,158.6 625.0,158.8 625.6,159.0 626.1,159.2 626.7,159.3 627.2,159.4 627.8,159.6 628.3,159.7 628.9,159.8 629.4,159.9 629.9,160.0 630.5,160.1 631.0,160.1 631.6,160.2 632.1,160.3 632.7,160.3 633.2,160.4 633.8,160.5 634.3,160.5 634.8,160.6 635.4,160.6 635.9,160.7 636.5,160.7 637.0,160.7 637.6,160.7 638.1,160.8 638.7,160.8 639.2,160.8 639.8,160.8 640.3,160.8 640.8,160.9 641.4,160.9 641.9,160.9 642.5,160.9 643.0,160.9 643.6,160.9 644.1,160.9 644.7,161.0 645.2,161.0 645.8,161.0 646.3,161.0 646.8,161.0 647.4,161.0 647.9,161.0 648.5,161.0 649.0,161.0 649.6,161.0 650.1,161.0 650.7,161.0 651.2,161.0 651.7,161.0 652.3,161.0 652.8,161.0 653.4,161.0 653.9,161.0 654.5,161.0 655.0,161.0 655.6,161.0 656.1,161.0 656.7,161.0 657.2,161.0 657.7,161.0 658.3,161.0 658.8,161.0 659.4,161.0 659.9,161.0 660.5,161.0 661.0,161.0 661.6,161.0 662.1,161.0 662.7,161.0 663.2,161.0 663.7,161.0 664.3,161.0 664.8,161.0 665.4,161.0 665.9,161.0 666.5,161.0 667.0,161.0 667.6,161.0 668.1,161.0 668.6,161.0 669.2,161.1 669.7,161.1 670.3,161.1 670.8,161.1 671.4,161.1 671.9,161.1 672.5,161.1 673.0,161.1 673.6,161.1 674.1,161.1 674.6,161.1 675.2,161.1 675.7,161.1 676.3,161.1 676.8,161.1 677.4,161.1 677.9,161.1 678.5,161.1 679.0,161.1 679.5,161.1 680.1,161.1 680.6,161.1 681.2,161.1 681.7,161.1 682.3,161.1 682.8,161.1 683.4,161.1" fill="none" stroke="#742222" stroke-width="1.05" stroke-linejoin="round" />
<polyline points="502.3,161.4 520.0,161.2 536.5,160.9 553.1,160.6 553.6,160.6 554.2,160.5 554.7,160.5 555.3,160.5 555.8,160.4 556.4,160.4 556.9,160.4 557.4,160.4 558.0,160.3 558.5,160.3 559.1,160.3 559.6,160.2 560.2,160.2 560.7,160.1 561.3,160.1 561.8,160.1 562.3,160.0 562.9,160.0 563.4,160.0 564.0,159.9 564.5,159.9 565.1,159.8 565.6,159.8 566.2,159.7 566.7,159.7 567.3,159.7 567.8,159.6 568.3,159.6 568.9,159.5 569.4,159.4 570.0,159.4 570.5,159.3 571.1,159.3 571.6,159.2 572.2,159.2 572.7,159.1 573.3,159.1 573.8,159.0 574.3,158.9 574.9,158.9 575.4,158.8 576.0,158.8 576.5,158.7 577.1,158.7 577.6,158.6 578.2,158.5 578.7,158.5 579.2,158.4 579.8,158.3 580.3,158.3 580.9,158.2 581.4,158.1 582.0,158.1 582.5,158.0 583.1,157.9 583.6,157.9 584.2,157.8 584.7,157.7 585.2,157.6 585.8,157.6 586.3,157.5 586.9,157.4 587.4,157.4 588.0,157.3 588.5,157.2 589.1,157.2 589.6,157.1 590.1,157.1 590.7,157.0 591.2,156.9 591.8,156.9 592.3,156.8 592.9,156.8 593.4,156.7 594.0,156.6 594.5,156.5 595.1,156.5 595.6,156.4 596.1,156.3 596.7,156.2 597.2,156.1 597.8,156.0 598.3,155.8 598.9,155.7 599.4,155.6 600.0,155.4 600.5,155.3 601.1,155.1 601.6,155.0 602.1,154.8 602.7,154.7 603.2,154.6 603.8,154.4 604.3,154.3 604.9,154.2 605.4,154.0 606.0,153.9 606.5,153.8 607.0,153.7 607.6,153.6 608.1,153.5 608.7,153.4 609.2,153.3 609.8,153.3 610.3,153.3 610.9,153.4 611.4,153.4 612.0,153.5 612.5,153.6 613.0,153.8 613.6,153.9 614.1,154.0 614.7,154.2 615.2,154.4 615.8,154.6 616.3,154.8 616.9,155.0 617.4,155.2 618.0,155.5 618.5,155.7 619.0,156.0 619.6,156.2 620.1,156.4 620.7,156.6 621.2,156.8 621.8,156.9 622.3,157.1 622.9,157.3 623.4,157.5 623.9,157.7 624.5,157.9 625.0,158.1 625.6,158.4 626.1,158.6 626.7,158.8 627.2,158.9 627.8,159.1 628.3,159.2 628.9,159.4 629.4,159.5 629.9,159.6 630.5,159.7 631.0,159.8 631.6,159.9 632.1,160.0 632.7,160.1 633.2,160.1 633.8,160.2 634.3,160.3 634.8,160.3 635.4,160.4 635.9,160.4 636.5,160.5 637.0,160.5 637.6,160.6 638.1,160.6 638.7,160.6 639.2,160.6 639.8,160.7 640.3,160.7 640.8,160.7 641.4,160.7 641.9,160.7 642.5,160.8 643.0,160.8 643.6,160.8 644.1,160.8 644.7,160.8 645.2,160.8 645.8,160.8 646.3,160.8 646.8,160.9 647.4,160.9 647.9,160.9 648.5,160.9 649.0,160.9 649.6,160.9 650.1,160.9 650.7,160.9 651.2,160.9 651.7,160.9 652.3,160.9 652.8,160.9 653.4,160.9 653.9,160.9 654.5,160.9 655.0,160.9 655.6,160.9 656.1,160.9 656.7,160.9 657.2,160.9 657.7,160.8 658.3,160.9 658.8,160.9 659.4,160.9 659.9,160.9 660.5,160.9 661.0,160.9 661.6,160.9 662.1,160.9 662.7,160.9 663.2,160.9 663.7,160.9 664.3,160.9 664.8,160.9 665.4,160.9 665.9,160.9 666.5,160.9 667.0,160.9 667.6,160.9 668.1,160.9 668.6,160.9 669.2,160.9 669.7,160.9 670.3,160.9 670.8,160.9 671.4,160.9 671.9,160.9 672.5,160.9 673.0,160.9 673.6,160.9 674.1,160.9 674.6,160.9 675.2,160.9 675.7,160.9 676.3,160.9 676.8,160.9 677.4,160.9 677.9,160.9 678.5,160.9 679.0,160.9 679.5,160.9 680.1,160.9 680.6,160.9 681.2,160.9 681.7,160.9 682.3,160.9 682.8,160.9 683.4,160.9" fill="none" stroke="#941e1e" stroke-width="1.05" stroke-linejoin="round" />
<polyline points="502.3,161.3 520.0,161.2 536.5,160.8 553.1,160.4 553.6,160.4 554.2,160.3 554.7,160.3 555.3,160.3 555.8,160.2 556.4,160.2 556.9,160.2 557.4,160.1 558.0,160.1 558.5,160.0 559.1,160.0 559.6,160.0 560.2,159.9 560.7,159.9 561.3,159.8 561.8,159.8 562.3,159.7 562.9,159.7 563.4,159.6 564.0,159.6 564.5,159.5 565.1,159.5 565.6,159.4 566.2,159.4 566.7,159.3 567.3,159.3 567.8,159.2 568.3,159.2 568.9,159.1 569.4,159.0 570.0,159.0 570.5,158.9 571.1,158.8 571.6,158.8 572.2,158.7 572.7,158.6 573.3,158.6 573.8,158.5 574.3,158.4 574.9,158.4 575.4,158.3 576.0,158.2 576.5,158.2 577.1,158.1 577.6,158.0 578.2,157.9 578.7,157.9 579.2,157.8 579.8,157.7 580.3,157.6 580.9,157.5 581.4,157.5 582.0,157.4 582.5,157.3 583.1,157.2 583.6,157.1 584.2,157.1 584.7,157.0 585.2,156.9 585.8,156.8 586.3,156.7 586.9,156.6 587.4,156.5 588.0,156.5 588.5,156.4 589.1,156.3 589.6,156.2 590.1,156.2 590.7,156.1 591.2,156.0 591.8,156.0 592.3,155.9 592.9,155.8 593.4,155.7 594.0,155.6 594.5,155.5 595.1,155.4 595.6,155.3 596.1,155.2 596.7,155.1 597.2,155.0 597.8,154.9 598.3,154.7 598.9,154.5 599.4,154.4 600.0,154.2 600.5,154.0 601.1,153.9 601.6,153.7 602.1,153.5 602.7,153.3 603.2,153.2 603.8,153.0 604.3,152.8 604.9,152.7 605.4,152.5 606.0,152.4 606.5,152.3 607.0,152.1 607.6,152.0 608.1,151.9 608.7,151.7 609.2,151.7 609.8,151.6 610.3,151.7 610.9,151.7 611.4,151.8 612.0,151.9 612.5,152.1 613.0,152.2 613.6,152.4 614.1,152.5 614.7,152.7 615.2,153.0 615.8,153.2 616.3,153.4 616.9,153.7 617.4,154.0 618.0,154.3 618.5,154.6 619.0,154.8 619.6,155.1 620.1,155.4 620.7,155.6 621.2,155.8 621.8,156.0 622.3,156.2 622.9,156.4 623.4,156.7 623.9,156.9 624.5,157.2 625.0,157.5 625.6,157.7 626.1,158.0 626.7,158.2 627.2,158.4 627.8,158.6 628.3,158.8 628.9,158.9 629.4,159.1 629.9,159.2 630.5,159.4 631.0,159.5 631.6,159.6 632.1,159.7 632.7,159.8 633.2,159.9 633.8,159.9 634.3,160.0 634.8,160.1 635.4,160.2 635.9,160.2 636.5,160.3 637.0,160.3 637.6,160.4 638.1,160.4 638.7,160.4 639.2,160.5 639.8,160.5 640.3,160.5 640.8,160.5 641.4,160.6 641.9,160.6 642.5,160.6 643.0,160.6 643.6,160.7 644.1,160.7 644.7,160.7 645.2,160.7 645.8,160.7 646.3,160.7 646.8,160.7 647.4,160.7 647.9,160.7 648.5,160.8 649.0,160.8 649.6,160.8 650.1,160.8 650.7,160.8 651.2,160.8 651.7,160.8 652.3,160.8 652.8,160.8 653.4,160.8 653.9,160.8 654.5,160.8 655.0,160.8 655.6,160.7 656.1,160.7 656.7,160.7 657.2,160.7 657.7,160.7 658.3,160.7 658.8,160.7 659.4,160.8 659.9,160.8 660.5,160.8 661.0,160.8 661.6,160.8 662.1,160.8 662.7,160.8 663.2,160.8 663.7,160.8 664.3,160.8 664.8,160.8 665.4,160.8 665.9,160.8 666.5,160.8 667.0,160.8 667.6,160.8 668.1,160.8 668.6,160.8 669.2,160.8 669.7,160.8 670.3,160.8 670.8,160.8 671.4,160.8 671.9,160.8 672.5,160.8 673.0,160.8 673.6,160.8 674.1,160.8 674.6,160.8 675.2,160.8 675.7,160.8 676.3,160.8 676.8,160.8 677.4,160.8 677.9,160.8 678.5,160.8 679.0,160.8 679.5,160.8 680.1,160.8 680.6,160.8 681.2,160.8 681.7,160.8 682.3,160.8 682.8,160.8 683.4,160.8" fill="none" stroke="#b41e1e" stroke-width="1.05" stroke-linejoin="round" />
<polyline points="502.3,161.3 520.0,161.2 536.5,160.8 553.1,160.3 553.6,160.2 554.2,160.2 554.7,160.2 555.3,160.1 555.8,160.1 556.4,160.0 556.9,160.0 557.4,160.0 558.0,159.9 558.5,159.9 559.1,159.8 559.6,159.8 560.2,159.7 560.7,159.7 561.3,159.6 561.8,159.6 562.3,159.5 562.9,159.5 563.4,159.4 564.0,159.4 564.5,159.3 565.1,159.2 565.6,159.2 566.2,159.1 566.7,159.1 567.3,159.0 567.8,158.9 568.3,158.9 568.9,158.8 569.4,158.7 570.0,158.7 570.5,158.6 571.1,158.5 571.6,158.4 572.2,158.4 572.7,158.3 573.3,158.2 573.8,158.1 574.3,158.1 574.9,158.0 575.4,157.9 576.0,157.8 576.5,157.7 577.1,157.7 577.6,157.6 578.2,157.5 578.7,157.4 579.2,157.3 579.8,157.2 580.3,157.1 580.9,157.1 581.4,157.0 582.0,156.9 582.5,156.8 583.1,156.7 583.6,156.6 584.2,156.5 584.7,156.4 585.2,156.3 585.8,156.2 586.3,156.1 586.9,156.0 587.4,155.9 588.0,155.8 588.5,155.7 589.1,155.7 589.6,155.6 590.1,155.5 590.7,155.4 591.2,155.4 591.8,155.3 592.3,155.2 592.9,155.1 593.4,155.0 594.0,154.9 594.5,154.8 595.1,154.7 595.6,154.6 596.1,154.5 596.7,154.3 597.2,154.2 597.8,154.0 598.3,153.8 598.9,153.7 599.4,153.5 600.0,153.3 600.5,153.1 601.1,152.9 601.6,152.7 602.1,152.5 602.7,152.3 603.2,152.1 603.8,151.9 604.3,151.8 604.9,151.6 605.4,151.4 606.0,151.3 606.5,151.1 607.0,151.0 607.6,150.8 608.1,150.7 608.7,150.5 609.2,150.4 609.8,150.4 610.3,150.4 610.9,150.5 611.4,150.6 612.0,150.7 612.5,150.9 613.0,151.0 613.6,151.2 614.1,151.4 614.7,151.6 615.2,151.9 615.8,152.1 616.3,152.4 616.9,152.7 617.4,153.1 618.0,153.4 618.5,153.7 619.0,154.0 619.6,154.3 620.1,154.6 620.7,154.9 621.2,155.1 621.8,155.3 622.3,155.6 622.9,155.8 623.4,156.1 623.9,156.4 624.5,156.7 625.0,157.0 625.6,157.3 626.1,157.5 626.7,157.8 627.2,158.0 627.8,158.2 628.3,158.4 628.9,158.6 629.4,158.8 629.9,158.9 630.5,159.1 631.0,159.2 631.6,159.3 632.1,159.4 632.7,159.6 633.2,159.7 633.8,159.8 634.3,159.8 634.8,159.9 635.4,160.0 635.9,160.1 636.5,160.1 637.0,160.2 637.6,160.2 638.1,160.3 638.7,160.3 639.2,160.3 639.8,160.4 640.3,160.4 640.8,160.4 641.4,160.5 641.9,160.5 642.5,160.5 643.0,160.5 643.6,160.5 644.1,160.6 644.7,160.6 645.2,160.6 645.8,160.6 646.3,160.6 646.8,160.6 647.4,160.6 647.9,160.6 648.5,160.7 649.0,160.7 649.6,160.7 650.1,160.7 650.7,160.7 651.2,160.7 651.7,160.7 652.3,160.7 652.8,160.7 653.4,160.7 653.9,160.7 654.5,160.7 655.0,160.7 655.6,160.6 656.1,160.6 656.7,160.6 657.2,160.6 657.7,160.6 658.3,160.6 658.8,160.7 659.4,160.7 659.9,160.7 660.5,160.7 661.0,160.7 661.6,160.7 662.1,160.7 662.7,160.7 663.2,160.7 663.7,160.7 664.3,160.7 664.8,160.7 665.4,160.7 665.9,160.7 666.5,160.7 667.0,160.7 667.6,160.7 668.1,160.7 668.6,160.7 669.2,160.7 669.7,160.7 670.3,160.7 670.8,160.7 671.4,160.7 671.9,160.7 672.5,160.7 673.0,160.7 673.6,160.7 674.1,160.7 674.6,160.7 675.2,160.7 675.7,160.7 676.3,160.7 676.8,160.7 677.4,160.8 677.9,160.8 678.5,160.8 679.0,160.8 679.5,160.8 680.1,160.8 680.6,160.8 681.2,160.8 681.7,160.8 682.3,160.8 682.8,160.8 683.4,160.8" fill="none" stroke="#d42020" stroke-width="1.05" stroke-linejoin="round" />
<polyline points="502.3,161.2 520.0,161.0 536.5,160.3 553.1,159.6 553.6,159.5 554.2,159.5 554.7,159.4 555.3,159.4 555.8,159.3 556.4,159.2 556.9,159.2 557.4,159.1 558.0,159.0 558.5,159.0 559.1,158.9 559.6,158.8 560.2,158.7 560.7,158.7 561.3,158.6 561.8,158.5 562.3,158.4 562.9,158.3 563.4,158.3 564.0,158.2 564.5,158.1 565.1,158.0 565.6,157.9 566.2,157.8 566.7,157.7 567.3,157.6 567.8,157.5 568.3,157.4 568.9,157.3 569.4,157.2 570.0,157.1 570.5,157.0 571.1,156.9 571.6,156.7 572.2,156.6 572.7,156.5 573.3,156.4 573.8,156.3 574.3,156.1 574.9,156.0 575.4,155.9 576.0,155.8 576.5,155.6 577.1,155.5 577.6,155.4 578.2,155.3 578.7,155.1 579.2,155.0 579.8,154.9 580.3,154.7 580.9,154.6 581.4,154.4 582.0,154.3 582.5,154.2 583.1,154.0 583.6,153.9 584.2,153.7 584.7,153.6 585.2,153.4 585.8,153.3 586.3,153.1 586.9,153.0 587.4,152.8 588.0,152.7 588.5,152.5 589.1,152.4 589.6,152.3 590.1,152.2 590.7,152.1 591.2,151.9 591.8,151.8 592.3,151.7 592.9,151.5 593.4,151.4 594.0,151.2 594.5,151.1 595.1,150.9 595.6,150.7 596.1,150.5 596.7,150.3 597.2,150.1 597.8,149.9 598.3,149.6 598.9,149.3 599.4,149.0 600.0,148.7 600.5,148.4 601.1,148.1 601.6,147.8 602.1,147.5 602.7,147.2 603.2,146.9 603.8,146.6 604.3,146.4 604.9,146.1 605.4,145.8 606.0,145.6 606.5,145.4 607.0,145.1 607.6,144.9 608.1,144.6 608.7,144.4 609.2,144.3 609.8,144.2 610.3,144.3 610.9,144.4 611.4,144.6 612.0,144.8 612.5,145.0 613.0,145.2 613.6,145.5 614.1,145.8 614.7,146.2 615.2,146.5 615.8,146.9 616.3,147.4 616.9,147.9 617.4,148.4 618.0,148.8 618.5,149.4 619.0,149.9 619.6,150.3 620.1,150.8 620.7,151.2 621.2,151.5 621.8,151.9 622.3,152.3 622.9,152.7 623.4,153.1 623.9,153.5 624.5,154.0 625.0,154.4 625.6,154.9 626.1,155.4 626.7,155.7 627.2,156.1 627.8,156.4 628.3,156.7 628.9,157.0 629.4,157.3 629.9,157.5 630.5,157.7 631.0,157.9 631.6,158.1 632.1,158.3 632.7,158.5 633.2,158.6 633.8,158.8 634.3,158.9 634.8,159.1 635.4,159.2 635.9,159.3 636.5,159.4 637.0,159.5 637.6,159.5 638.1,159.6 638.7,159.6 639.2,159.7 639.8,159.7 640.3,159.8 640.8,159.8 641.4,159.9 641.9,159.9 642.5,160.0 643.0,160.0 643.6,160.0 644.1,160.0 644.7,160.1 645.2,160.1 645.8,160.1 646.3,160.1 646.8,160.1 647.4,160.2 647.9,160.2 648.5,160.2 649.0,160.2 649.6,160.2 650.1,160.2 650.7,160.2 651.2,160.2 651.7,160.2 652.3,160.2 652.8,160.2 653.4,160.2 653.9,160.2 654.5,160.2 655.0,160.2 655.6,160.2 656.1,160.2 656.7,160.1 657.2,160.1 657.7,160.1 658.3,160.2 658.8,160.2 659.4,160.2 659.9,160.3 660.5,160.3 661.0,160.3 661.6,160.3 662.1,160.3 662.7,160.3 663.2,160.3 663.7,160.3 664.3,160.3 664.8,160.3 665.4,160.3 665.9,160.3 666.5,160.3 667.0,160.3 667.6,160.3 668.1,160.3 668.6,160.3 669.2,160.3 669.7,160.3 670.3,160.3 670.8,160.3 671.4,160.3 671.9,160.3 672.5,160.3 673.0,160.3 673.6,160.3 674.1,160.3 674.6,160.3 675.2,160.3 675.7,160.3 676.3,160.3 676.8,160.3 677.4,160.3 677.9,160.3 678.5,160.3 679.0,160.3 679.5,160.3 680.1,160.3 680.6,160.3 681.2,160.3 681.7,160.3 682.3,160.3 682.8,160.3 683.4,160.3" fill="none" stroke="#ff2828" stroke-width="1.05" stroke-linejoin="round" />
<polyline points="502.3,161.2 520.0,160.9 536.5,160.1 553.1,159.2 553.6,159.1 554.2,159.1 554.7,159.0 555.3,158.9 555.8,158.9 556.4,158.8 556.9,158.7 557.4,158.6 558.0,158.6 558.5,158.5 559.1,158.4 559.6,158.3 560.2,158.2 560.7,158.1 561.3,158.0 561.8,157.9 562.3,157.8 562.9,157.7 563.4,157.6 564.0,157.5 564.5,157.4 565.1,157.3 565.6,157.2 566.2,157.1 566.7,157.0 567.3,156.9 567.8,156.8 568.3,156.6 568.9,156.5 569.4,156.4 570.0,156.2 570.5,156.1 571.1,156.0 571.6,155.8 572.2,155.7 572.7,155.5 573.3,155.4 573.8,155.3 574.3,155.1 574.9,155.0 575.4,154.8 576.0,154.7 576.5,154.5 577.1,154.4 577.6,154.2 578.2,154.1 578.7,153.9 579.2,153.8 579.8,153.6 580.3,153.4 580.9,153.3 581.4,153.1 582.0,152.9 582.5,152.8 583.1,152.6 583.6,152.4 584.2,152.2 584.7,152.1 585.2,151.9 585.8,151.7 586.3,151.5 586.9,151.3 587.4,151.2 588.0,151.0 588.5,150.8 589.1,150.7 589.6,150.6 590.1,150.4 590.7,150.3 591.2,150.1 591.8,150.0 592.3,149.8 592.9,149.6 593.4,149.5 594.0,149.3 594.5,149.1 595.1,148.9 595.6,148.7 596.1,148.5 596.7,148.2 597.2,147.9 597.8,147.6 598.3,147.3 598.9,147.0 599.4,146.6 600.0,146.3 600.5,146.0 601.1,145.6 601.6,145.2 602.1,144.8 602.7,144.5 603.2,144.1 603.8,143.8 604.3,143.5 604.9,143.1 605.4,142.8 606.0,142.6 606.5,142.3 607.0,142.0 607.6,141.7 608.1,141.4 608.7,141.2 609.2,141.0 609.8,141.0 610.3,141.0 610.9,141.1 611.4,141.3 612.0,141.6 612.5,141.9 613.0,142.1 613.6,142.4 614.1,142.8 614.7,143.2 615.2,143.7 615.8,144.2 616.3,144.7 616.9,145.3 617.4,145.9 618.0,146.4 618.5,147.0 619.0,147.6 619.6,148.2 620.1,148.7 620.7,149.2 621.2,149.6 621.8,150.1 622.3,150.5 622.9,151.0 623.4,151.5 623.9,152.0 624.5,152.5 625.0,153.1 625.6,153.7 626.1,154.2 626.7,154.6 627.2,155.0 627.8,155.4 628.3,155.8 628.9,156.1 629.4,156.5 629.9,156.7 630.5,157.0 631.0,157.3 631.6,157.5 632.1,157.7 632.7,157.9 633.2,158.1 633.8,158.3 634.3,158.4 634.8,158.6 635.4,158.7 635.9,158.9 636.5,159.0 637.0,159.1 637.6,159.1 638.1,159.2 638.7,159.3 639.2,159.3 639.8,159.4 640.3,159.5 640.8,159.5 641.4,159.6 641.9,159.6 642.5,159.7 643.0,159.7 643.6,159.7 644.1,159.8 644.7,159.8 645.2,159.8 645.8,159.9 646.3,159.9 646.8,159.9 647.4,159.9 647.9,159.9 648.5,159.9 649.0,160.0 649.6,160.0 650.1,160.0 650.7,160.0 651.2,160.0 651.7,160.0 652.3,160.0 652.8,160.0 653.4,160.0 653.9,160.0 654.5,160.0 655.0,159.9 655.6,159.9 656.1,159.9 656.7,159.9 657.2,159.9 657.7,159.9 658.3,159.9 658.8,159.9 659.4,160.0 659.9,160.0 660.5,160.1 661.0,160.1 661.6,160.1 662.1,160.1 662.7,160.1 663.2,160.1 663.7,160.1 664.3,160.1 664.8,160.1 665.4,160.1 665.9,160.1 666.5,160.1 667.0,160.1 667.6,160.1 668.1,160.1 668.6,160.1 669.2,160.1 669.7,160.1 670.3,160.1 670.8,160.1 671.4,160.1 671.9,160.1 672.5,160.1 673.0,160.1 673.6,160.1 674.1,160.1 674.6,160.1 675.2,160.1 675.7,160.1 676.3,160.1 676.8,160.1 677.4,160.1 677.9,160.1 678.5,160.1 679.0,160.1 679.5,160.1 680.1,160.1 680.6,160.1 681.2,160.1 681.7,160.1 682.3,160.1 682.8,160.1 683.4,160.1" fill="none" stroke="#237523" stroke-width="1.05" stroke-linejoin="round" />
<polyline points="502.3,161.1 520.0,160.7 536.5,159.7 553.1,158.5 553.6,158.4 554.2,158.4 554.7,158.3 555.3,158.2 555.8,158.1 556.4,158.0 556.9,157.9 557.4,157.8 558.0,157.7 558.5,157.6 559.1,157.5 559.6,157.3 560.2,157.2 560.7,157.1 561.3,157.0 561.8,156.9 562.3,156.7 562.9,156.6 563.4,156.5 564.0,156.3 564.5,156.2 565.1,156.1 565.6,155.9 566.2,155.8 566.7,155.6 567.3,155.5 567.8,155.3 568.3,155.2 568.9,155.0 569.4,154.8 570.0,154.7 570.5,154.5 571.1,154.3 571.6,154.1 572.2,153.9 572.7,153.8 573.3,153.6 573.8,153.4 574.3,153.2 574.9,153.0 575.4,152.8 576.0,152.6 576.5,152.4 577.1,152.2 577.6,152.0 578.2,151.8 578.7,151.6 579.2,151.4 579.8,151.2 580.3,151.0 580.9,150.8 581.4,150.6 582.0,150.4 582.5,150.1 583.1,149.9 583.6,149.7 584.2,149.5 584.7,149.2 585.2,149.0 585.8,148.7 586.3,148.5 586.9,148.3 587.4,148.1 588.0,147.8 588.5,147.6 589.1,147.5 589.6,147.3 590.1,147.1 590.7,146.9 591.2,146.7 591.8,146.5 592.3,146.3 592.9,146.1 593.4,145.8 594.0,145.6 594.5,145.4 595.1,145.1 595.6,144.8 596.1,144.5 596.7,144.2 597.2,143.9 597.8,143.5 598.3,143.1 598.9,142.6 599.4,142.2 600.0,141.7 600.5,141.3 601.1,140.8 601.6,140.3 602.1,139.9 602.7,139.4 603.2,138.9 603.8,138.5 604.3,138.1 604.9,137.6 605.4,137.2 606.0,136.9 606.5,136.5 607.0,136.2 607.6,135.8 608.1,135.4 608.7,135.1 609.2,134.9 609.8,134.8 610.3,134.8 610.9,135.0 611.4,135.3 612.0,135.6 612.5,136.0 613.0,136.3 613.6,136.7 614.1,137.2 614.7,137.8 615.2,138.4 615.8,139.0 616.3,139.7 616.9,140.4 617.4,141.2 618.0,141.9 618.5,142.7 619.0,143.5 619.6,144.2 620.1,144.9 620.7,145.5 621.2,146.1 621.8,146.7 622.3,147.2 622.9,147.8 623.4,148.4 623.9,149.1 624.5,149.8 625.0,150.6 625.6,151.3 626.1,152.0 626.7,152.6 627.2,153.1 627.8,153.6 628.3,154.1 628.9,154.5 629.4,154.9 629.9,155.3 630.5,155.7 631.0,156.0 631.6,156.3 632.1,156.6 632.7,156.8 633.2,157.1 633.8,157.3 634.3,157.5 634.8,157.7 635.4,157.9 635.9,158.1 636.5,158.2 637.0,158.3 637.6,158.4 638.1,158.5 638.7,158.6 639.2,158.7 639.8,158.8 640.3,158.9 640.8,158.9 641.4,159.0 641.9,159.1 642.5,159.1 643.0,159.2 643.6,159.2 644.1,159.3 644.7,159.3 645.2,159.3 645.8,159.4 646.3,159.4 646.8,159.4 647.4,159.4 647.9,159.5 648.5,159.5 649.0,159.5 649.6,159.5 650.1,159.5 650.7,159.5 651.2,159.5 651.7,159.5 652.3,159.5 652.8,159.5 653.4,159.5 653.9,159.5 654.5,159.5 655.0,159.5 655.6,159.5 656.1,159.4 656.7,159.4 657.2,159.4 657.7,159.4 658.3,159.4 658.8,159.5 659.4,159.5 659.9,159.6 660.5,159.6 661.0,159.6 661.6,159.6 662.1,159.6 662.7,159.6 663.2,159.6 663.7,159.6 664.3,159.6 664.8,159.7 665.4,159.7 665.9,159.7 666.5,159.7 667.0,159.7 667.6,159.7 668.1,159.7 668.6,159.7 669.2,159.7 669.7,159.7 670.3,159.7 670.8,159.7 671.4,159.7 671.9,159.7 672.5,159.7 673.0,159.7 673.6,159.7 674.1,159.7 674.6,159.7 675.2,159.7 675.7,159.7 676.3,159.7 676.8,159.7 677.4,159.7 677.9,159.7 678.5,159.7 679.0,159.7 679.5,159.7 680.1,159.7 680.6,159.7 681.2,159.7 681.7,159.7 682.3,159.7 682.8,159.7 683.4,159.7" fill="none" stroke="#26a326" stroke-width="1.05" stroke-linejoin="round" />
<polyline points="502.3,161.0 520.0,160.5 536.5,159.3 553.1,157.8 553.6,157.7 554.2,157.6 554.7,157.5 555.3,157.4 555.8,157.2 556.4,157.1 556.9,157.0 557.4,156.9 558.0,156.7 558.5,156.6 559.1,156.5 559.6,156.3 560.2,156.2 560.7,156.0 561.3,155.9 561.8,155.7 562.3,155.6 562.9,155.4 563.4,155.2 564.0,155.1 564.5,154.9 565.1,154.7 565.6,154.6 566.2,154.4 566.7,154.2 567.3,154.0 567.8,153.8 568.3,153.6 568.9,153.4 569.4,153.2 570.0,153.0 570.5,152.8 571.1,152.5 571.6,152.3 572.2,152.1 572.7,151.9 573.3,151.6 573.8,151.4 574.3,151.2 574.9,150.9 575.4,150.7 576.0,150.5 576.5,150.2 577.1,150.0 577.6,149.7 578.2,149.5 578.7,149.2 579.2,149.0 579.8,148.7 580.3,148.4 580.9,148.2 581.4,147.9 582.0,147.6 582.5,147.3 583.1,147.1 583.6,146.8 584.2,146.5 584.7,146.2 585.2,145.9 585.8,145.6 586.3,145.3 586.9,145.0 587.4,144.7 588.0,144.5 588.5,144.2 589.1,144.0 589.6,143.8 590.1,143.5 590.7,143.3 591.2,143.1 591.8,142.8 592.3,142.6 592.9,142.3 593.4,142.0 594.0,141.7 594.5,141.4 595.1,141.1 595.6,140.7 596.1,140.4 596.7,140.0 597.2,139.5 597.8,139.1 598.3,138.5 598.9,138.0 599.4,137.4 600.0,136.9 600.5,136.3 601.1,135.7 601.6,135.1 602.1,134.5 602.7,133.9 603.2,133.4 603.8,132.8 604.3,132.3 604.9,131.8 605.4,131.3 606.0,130.8 606.5,130.4 607.0,129.9 607.6,129.4 608.1,129.0 608.7,128.6 609.2,128.3 609.8,128.2 610.3,128.3 610.9,128.5 611.4,128.8 612.0,129.2 612.5,129.7 613.0,130.1 613.6,130.6 614.1,131.2 614.7,131.9 615.2,132.7 615.8,133.4 616.3,134.3 616.9,135.2 617.4,136.2 618.0,137.1 618.5,138.1 619.0,139.0 619.6,140.0 620.1,140.8 620.7,141.6 621.2,142.3 621.8,143.0 622.3,143.7 622.9,144.5 623.4,145.2 623.9,146.1 624.5,147.0 625.0,147.9 625.6,148.8 626.1,149.6 626.7,150.4 627.2,151.1 627.8,151.7 628.3,152.2 628.9,152.8 629.4,153.3 629.9,153.8 630.5,154.2 631.0,154.6 631.6,155.0 632.1,155.3 632.7,155.7 633.2,156.0 633.8,156.3 634.3,156.5 634.8,156.8 635.4,157.0 635.9,157.2 636.5,157.4 637.0,157.6 637.6,157.7 638.1,157.8 638.7,157.9 639.2,158.0 639.8,158.1 640.3,158.2 640.8,158.3 641.4,158.4 641.9,158.5 642.5,158.5 643.0,158.6 643.6,158.6 644.1,158.7 644.7,158.8 645.2,158.8 645.8,158.8 646.3,158.9 646.8,158.9 647.4,158.9 647.9,158.9 648.5,159.0 649.0,159.0 649.6,159.0 650.1,159.0 650.7,159.0 651.2,159.1 651.7,159.1 652.3,159.1 652.8,159.0 653.4,159.0 653.9,159.0 654.5,159.0 655.0,159.0 655.6,158.9 656.1,158.9 656.7,158.9 657.2,158.9 657.7,158.9 658.3,158.9 658.8,159.0 659.4,159.0 659.9,159.1 660.5,159.2 661.0,159.2 661.6,159.2 662.1,159.2 662.7,159.2 663.2,159.2 663.7,159.2 664.3,159.2 664.8,159.2 665.4,159.2 665.9,159.2 666.5,159.2 667.0,159.2 667.6,159.2 668.1,159.2 668.6,159.2 669.2,159.2 669.7,159.2 670.3,159.2 670.8,159.2 671.4,159.2 671.9,159.2 672.5,159.2 673.0,159.2 673.6,159.2 674.1,159.2 674.6,159.2 675.2,159.2 675.7,159.2 676.3,159.2 676.8,159.2 677.4,159.3 677.9,159.3 678.5,159.3 679.0,159.3 679.5,159.3 680.1,159.3 680.6,159.3 681.2,159.3 681.7,159.3 682.3,159.3 682.8,159.3 683.4,159.3" fill="none" stroke="#24cc24" stroke-width="1.05" stroke-linejoin="round" />
<polyline points="502.3,160.8 520.0,160.2 536.5,158.7 553.1,156.8 553.6,156.7 554.2,156.6 554.7,156.4 555.3,156.3 555.8,156.1 556.4,156.0 556.9,155.8 557.4,155.7 558.0,155.5 558.5,155.3 559.1,155.2 559.6,155.0 560.2,154.8 560.7,154.6 561.3,154.4 561.8,154.2 562.3,154.0 562.9,153.8 563.4,153.6 564.0,153.4 564.5,153.2 565.1,153.0 565.6,152.8 566.2,152.5 566.7,152.3 567.3,152.1 567.8,151.8 568.3,151.6 568.9,151.3 569.4,151.0 570.0,150.8 570.5,150.5 571.1,150.2 571.6,149.9 572.2,149.6 572.7,149.4 573.3,149.1 573.8,148.8 574.3,148.5 574.9,148.2 575.4,147.9 576.0,147.6 576.5,147.3 577.1,147.0 577.6,146.7 578.2,146.3 578.7,146.0 579.2,145.7 579.8,145.4 580.3,145.0 580.9,144.7 581.4,144.4 582.0,144.0 582.5,143.7 583.1,143.3 583.6,143.0 584.2,142.6 584.7,142.2 585.2,141.9 585.8,141.5 586.3,141.1 586.9,140.7 587.4,140.4 588.0,140.1 588.5,139.8 589.1,139.5 589.6,139.2 590.1,138.9 590.7,138.6 591.2,138.3 591.8,138.0 592.3,137.6 592.9,137.3 593.4,136.9 594.0,136.6 594.5,136.2 595.1,135.8 595.6,135.4 596.1,134.9 596.7,134.4 597.2,133.9 597.8,133.2 598.3,132.6 598.9,131.9 599.4,131.2 600.0,130.5 600.5,129.8 601.1,129.1 601.6,128.3 602.1,127.5 602.7,126.8 603.2,126.1 603.8,125.4 604.3,124.7 604.9,124.1 605.4,123.4 606.0,122.8 606.5,122.3 607.0,121.7 607.6,121.1 608.1,120.6 608.7,120.1 609.2,119.7 609.8,119.6 610.3,119.7 610.9,119.9 611.4,120.4 612.0,120.9 612.5,121.4 613.0,122.0 613.6,122.6 614.1,123.4 614.7,124.2 615.2,125.2 615.8,126.1 616.3,127.2 616.9,128.4 617.4,129.6 618.0,130.8 618.5,132.0 619.0,133.2 619.6,134.4 620.1,135.4 620.7,136.4 621.2,137.3 621.8,138.2 622.3,139.1 622.9,140.0 623.4,141.0 623.9,142.1 624.5,143.2 625.0,144.4 625.6,145.5 626.1,146.6 626.7,147.5 627.2,148.3 627.8,149.1 628.3,149.8 628.9,150.5 629.4,151.2 629.9,151.8 630.5,152.4 631.0,152.9 631.6,153.3 632.1,153.7 632.7,154.1 633.2,154.5 633.8,154.9 634.3,155.3 634.8,155.6 635.4,155.9 635.9,156.1 636.5,156.3 637.0,156.5 637.6,156.7 638.1,156.8 638.7,157.0 639.2,157.1 639.8,157.2 640.3,157.3 640.8,157.5 641.4,157.6 641.9,157.7 642.5,157.7 643.0,157.8 643.6,157.9 644.1,158.0 644.7,158.0 645.2,158.1 645.8,158.1 646.3,158.2 646.8,158.2 647.4,158.3 647.9,158.3 648.5,158.3 649.0,158.3 649.6,158.4 650.1,158.4 650.7,158.4 651.2,158.4 651.7,158.4 652.3,158.4 652.8,158.4 653.4,158.4 653.9,158.4 654.5,158.3 655.0,158.3 655.6,158.3 656.1,158.3 656.7,158.2 657.2,158.2 657.7,158.2 658.3,158.2 658.8,158.3 659.4,158.4 659.9,158.5 660.5,158.5 661.0,158.6 661.6,158.6 662.1,158.6 662.7,158.6 663.2,158.6 663.7,158.6 664.3,158.6 664.8,158.6 665.4,158.6 665.9,158.6 666.5,158.6 667.0,158.6 667.6,158.6 668.1,158.6 668.6,158.6 669.2,158.6 669.7,158.6 670.3,158.6 670.8,158.6 671.4,158.6 671.9,158.6 672.5,158.7 673.0,158.7 673.6,158.7 674.1,158.7 674.6,158.7 675.2,158.7 675.7,158.7 676.3,158.7 676.8,158.7 677.4,158.7 677.9,158.7 678.5,158.7 679.0,158.7 679.5,158.7 680.1,158.7 680.6,158.7 681.2,158.7 681.7,158.7 682.3,158.7 682.8,158.7 683.4,158.7" fill="none" stroke="#22f022" stroke-width="1.05" stroke-linejoin="round" />
<polyline points="502.3,160.6 520.0,159.8 536.5,157.8 553.1,155.4 553.6,155.2 554.2,155.0 554.7,154.8 555.3,154.7 555.8,154.5 556.4,154.3 556.9,154.1 557.4,153.8 558.0,153.6 558.5,153.4 559.1,153.2 559.6,152.9 560.2,152.7 560.7,152.4 561.3,152.2 561.8,151.9 562.3,151.7 562.9,151.4 563.4,151.2 564.0,150.9 564.5,150.6 565.1,150.3 565.6,150.0 566.2,149.7 566.7,149.4 567.3,149.1 567.8,148.8 568.3,148.4 568.9,148.1 569.4,147.8 570.0,147.4 570.5,147.0 571.1,146.7 571.6,146.3 572.2,145.9 572.7,145.5 573.3,145.2 573.8,144.8 574.3,144.4 574.9,144.0 575.4,143.6 576.0,143.2 576.5,142.8 577.1,142.4 577.6,142.0 578.2,141.6 578.7,141.2 579.2,140.7 579.8,140.3 580.3,139.9 580.9,139.4 581.4,139.0 582.0,138.5 582.5,138.1 583.1,137.6 583.6,137.2 584.2,136.7 584.7,136.2 585.2,135.7 585.8,135.2 586.3,134.7 586.9,134.2 587.4,133.8 588.0,133.4 588.5,132.9 589.1,132.5 589.6,132.2 590.1,131.8 590.7,131.4 591.2,131.0 591.8,130.6 592.3,130.2 592.9,129.7 593.4,129.2 594.0,128.7 594.5,128.2 595.1,127.7 595.6,127.2 596.1,126.6 596.7,125.9 597.2,125.2 597.8,124.4 598.3,123.5 598.9,122.6 599.4,121.7 600.0,120.8 600.5,119.8 601.1,118.9 601.6,117.9 602.1,116.9 602.7,115.9 603.2,114.9 603.8,114.0 604.3,113.2 604.9,112.3 605.4,111.5 606.0,110.7 606.5,110.0 607.0,109.3 607.6,108.5 608.1,107.7 608.7,107.1 609.2,106.6 609.8,106.4 610.3,106.5 610.9,106.9 611.4,107.4 612.0,108.1 612.5,108.9 613.0,109.6 613.6,110.4 614.1,111.4 614.7,112.5 615.2,113.8 615.8,115.1 616.3,116.5 616.9,118.0 617.4,119.6 618.0,121.1 618.5,122.8 619.0,124.4 619.6,125.9 620.1,127.2 620.7,128.5 621.2,129.7 621.8,130.9 622.3,132.1 622.9,133.3 623.4,134.6 623.9,136.0 624.5,137.5 625.0,139.0 625.6,140.5 626.1,141.9 626.7,143.1 627.2,144.2 627.8,145.2 628.3,146.2 628.9,147.1 629.4,148.0 629.9,148.8 630.5,149.5 631.0,150.2 631.6,150.8 632.1,151.3 632.7,151.8 633.2,152.4 633.8,152.8 634.3,153.3 634.8,153.7 635.4,154.1 635.9,154.4 636.5,154.7 637.0,155.0 637.6,155.2 638.1,155.4 638.7,155.5 639.2,155.7 639.8,155.9 640.3,156.0 640.8,156.2 641.4,156.3 641.9,156.5 642.5,156.6 643.0,156.7 643.6,156.8 644.1,156.9 644.7,157.0 645.2,157.0 645.8,157.1 646.3,157.1 646.8,157.2 647.4,157.2 647.9,157.3 648.5,157.3 649.0,157.4 649.6,157.4 650.1,157.4 650.7,157.4 651.2,157.5 651.7,157.5 652.3,157.5 652.8,157.4 653.4,157.4 653.9,157.4 654.5,157.4 655.0,157.3 655.6,157.3 656.1,157.2 656.7,157.2 657.2,157.1 657.7,157.1 658.3,157.2 658.8,157.3 659.4,157.4 659.9,157.5 660.5,157.6 661.0,157.6 661.6,157.6 662.1,157.6 662.7,157.7 663.2,157.7 663.7,157.7 664.3,157.7 664.8,157.7 665.4,157.7 665.9,157.7 666.5,157.7 667.0,157.7 667.6,157.7 668.1,157.7 668.6,157.7 669.2,157.7 669.7,157.7 670.3,157.7 670.8,157.7 671.4,157.8 671.9,157.8 672.5,157.8 673.0,157.8 673.6,157.8 674.1,157.8 674.6,157.8 675.2,157.8 675.7,157.8 676.3,157.8 676.8,157.8 677.4,157.8 677.9,157.8 678.5,157.8 679.0,157.8 679.5,157.8 680.1,157.8 680.6,157.8 681.2,157.8 681.7,157.8 682.3,157.8 682.8,157.8 683.4,157.8" fill="none" stroke="#2e2e96" stroke-width="1.05" stroke-linejoin="round" />
<polyline points="502.3,160.4 520.0,159.3 536.5,156.8 553.1,153.7 553.6,153.5 554.2,153.2 554.7,153.0 555.3,152.8 555.8,152.5 556.4,152.3 556.9,152.0 557.4,151.7 558.0,151.4 558.5,151.2 559.1,150.9 559.6,150.6 560.2,150.3 560.7,149.9 561.3,149.6 561.8,149.3 562.3,149.0 562.9,148.6 563.4,148.3 564.0,147.9 564.5,147.6 565.1,147.2 565.6,146.9 566.2,146.5 566.7,146.1 567.3,145.7 567.8,145.3 568.3,144.8 568.9,144.4 569.4,144.0 570.0,143.5 570.5,143.0 571.1,142.6 571.6,142.1 572.2,141.6 572.7,141.1 573.3,140.7 573.8,140.2 574.3,139.7 574.9,139.2 575.4,138.7 576.0,138.2 576.5,137.7 577.1,137.2 577.6,136.6 578.2,136.1 578.7,135.6 579.2,135.0 579.8,134.5 580.3,133.9 580.9,133.3 581.4,132.8 582.0,132.2 582.5,131.6 583.1,131.0 583.6,130.5 584.2,129.8 584.7,129.2 585.2,128.6 585.8,127.9 586.3,127.3 586.9,126.7 587.4,126.1 588.0,125.6 588.5,125.1 589.1,124.5 589.6,124.1 590.1,123.6 590.7,123.1 591.2,122.6 591.8,122.0 592.3,121.5 592.9,120.9 593.4,120.3 594.0,119.7 594.5,119.1 595.1,118.4 595.6,117.7 596.1,116.9 596.7,116.1 597.2,115.1 597.8,114.1 598.3,113.0 598.9,111.9 599.4,110.7 600.0,109.5 600.5,108.3 601.1,107.1 601.6,105.8 602.1,104.6 602.7,103.3 603.2,102.1 603.8,100.9 604.3,99.8 604.9,98.7 605.4,97.7 606.0,96.7 606.5,95.8 607.0,94.8 607.6,93.8 608.1,92.9 608.7,92.0 609.2,91.4 609.8,91.2 610.3,91.4 610.9,91.8 611.4,92.5 612.0,93.4 612.5,94.3 613.0,95.3 613.6,96.3 614.1,97.6 614.7,99.0 615.2,100.6 615.8,102.2 616.3,104.1 616.9,106.0 617.4,108.0 618.0,110.0 618.5,112.1 619.0,114.1 619.6,116.0 620.1,117.8 620.7,119.4 621.2,120.9 621.8,122.4 622.3,124.0 622.9,125.5 623.4,127.1 623.9,128.9 624.5,130.8 625.0,132.8 625.6,134.7 626.1,136.5 626.7,138.1 627.2,139.4 627.8,140.7 628.3,142.0 628.9,143.1 629.4,144.2 629.9,145.2 630.5,146.2 631.0,147.0 631.6,147.8 632.1,148.5 632.7,149.2 633.2,149.8 633.8,150.4 634.3,151.0 634.8,151.6 635.4,152.0 635.9,152.5 636.5,152.9 637.0,153.2 637.6,153.4 638.1,153.7 638.7,153.9 639.2,154.1 639.8,154.3 640.3,154.5 640.8,154.7 641.4,154.9 641.9,155.1 642.5,155.2 643.0,155.4 643.6,155.5 644.1,155.6 644.7,155.7 645.2,155.8 645.8,155.9 646.3,155.9 646.8,156.0 647.4,156.1 647.9,156.1 648.5,156.2 649.0,156.2 649.6,156.3 650.1,156.3 650.7,156.3 651.2,156.3 651.7,156.3 652.3,156.3 652.8,156.3 653.4,156.3 653.9,156.3 654.5,156.2 655.0,156.2 655.6,156.1 656.1,156.1 656.7,156.0 657.2,155.9 657.7,155.9 658.3,156.0 658.8,156.2 659.4,156.3 659.9,156.5 660.5,156.5 661.0,156.6 661.6,156.6 662.1,156.6 662.7,156.6 663.2,156.6 663.7,156.6 664.3,156.6 664.8,156.6 665.4,156.6 665.9,156.7 666.5,156.7 667.0,156.7 667.6,156.7 668.1,156.7 668.6,156.7 669.2,156.7 669.7,156.7 670.3,156.7 670.8,156.7 671.4,156.7 671.9,156.7 672.5,156.7 673.0,156.7 673.6,156.7 674.1,156.7 674.6,156.7 675.2,156.7 675.7,156.7 676.3,156.7 676.8,156.7 677.4,156.8 677.9,156.8 678.5,156.8 679.0,156.8 679.5,156.8 680.1,156.8 680.6,156.8 681.2,156.8 681.7,156.8 682.3,156.8 682.8,156.8 683.4,156.8" fill="none" stroke="#3434c4" stroke-width="1.05" stroke-linejoin="round" />
<polyline points="502.3,160.0 520.0,158.4 536.5,155.0 553.1,150.6 553.6,150.4 554.2,150.0 554.7,149.7 555.3,149.4 555.8,149.0 556.4,148.7 556.9,148.3 557.4,148.0 558.0,147.6 558.5,147.2 559.1,146.8 559.6,146.3 560.2,145.9 560.7,145.5 561.3,145.0 561.8,144.6 562.3,144.1 562.9,143.7 563.4,143.2 564.0,142.7 564.5,142.2 565.1,141.7 565.6,141.2 566.2,140.7 566.7,140.2 567.3,139.6 567.8,139.0 568.3,138.4 568.9,137.8 569.4,137.2 570.0,136.6 570.5,135.9 571.1,135.3 571.6,134.6 572.2,133.9 572.7,133.3 573.3,132.6 573.8,131.9 574.3,131.3 574.9,130.6 575.4,129.9 576.0,129.2 576.5,128.5 577.1,127.8 577.6,127.0 578.2,126.3 578.7,125.5 579.2,124.8 579.8,124.0 580.3,123.2 580.9,122.5 581.4,121.7 582.0,120.9 582.5,120.1 583.1,119.3 583.6,118.5 584.2,117.6 584.7,116.7 585.2,115.9 585.8,115.0 586.3,114.1 586.9,113.3 587.4,112.5 588.0,111.7 588.5,111.0 589.1,110.3 589.6,109.6 590.1,108.9 590.7,108.2 591.2,107.5 591.8,106.8 592.3,106.1 592.9,105.2 593.4,104.4 594.0,103.6 594.5,102.7 595.1,101.7 595.6,100.8 596.1,99.7 596.7,98.5 597.2,97.3 597.8,95.8 598.3,94.3 598.9,92.7 599.4,91.1 600.0,89.4 600.5,87.8 601.1,86.1 601.6,84.4 602.1,82.6 602.7,80.8 603.2,79.2 603.8,77.6 604.3,76.0 604.9,74.5 605.4,73.1 606.0,71.7 606.5,70.4 607.0,69.1 607.6,67.7 608.1,66.4 608.7,65.2 609.2,64.4 609.8,64.1 610.3,64.3 610.9,64.9 611.4,65.9 612.0,67.1 612.5,68.4 613.0,69.8 613.6,71.2 614.1,72.9 614.7,74.9 615.2,77.1 615.8,79.4 616.3,81.9 616.9,84.6 617.4,87.4 618.0,90.1 618.5,93.0 619.0,95.8 619.6,98.5 620.1,100.9 620.7,103.1 621.2,105.3 621.8,107.4 622.3,109.5 622.9,111.6 623.4,113.9 623.9,116.3 624.5,119.0 625.0,121.7 625.6,124.3 626.1,126.8 626.7,129.0 627.2,130.9 627.8,132.7 628.3,134.4 628.9,136.0 629.4,137.6 629.9,139.0 630.5,140.3 631.0,141.4 631.6,142.5 632.1,143.5 632.7,144.4 633.2,145.3 633.8,146.2 634.3,147.0 634.8,147.7 635.4,148.4 635.9,149.0 636.5,149.5 637.0,150.0 637.6,150.3 638.1,150.7 638.7,151.0 639.2,151.3 639.8,151.6 640.3,151.8 640.8,152.1 641.4,152.3 641.9,152.6 642.5,152.8 643.0,153.0 643.6,153.2 644.1,153.3 644.7,153.5 645.2,153.6 645.8,153.7 646.3,153.8 646.8,153.9 647.4,154.0 647.9,154.0 648.5,154.1 649.0,154.2 649.6,154.2 650.1,154.3 650.7,154.3 651.2,154.3 651.7,154.4 652.3,154.4 652.8,154.3 653.4,154.3 653.9,154.2 654.5,154.2 655.0,154.1 655.6,154.0 656.1,154.0 656.7,153.9 657.2,153.8 657.7,153.8 658.3,153.9 658.8,154.1 659.4,154.3 659.9,154.5 660.5,154.6 661.0,154.7 661.6,154.7 662.1,154.7 662.7,154.7 663.2,154.7 663.7,154.7 664.3,154.7 664.8,154.8 665.4,154.8 665.9,154.8 666.5,154.8 667.0,154.8 667.6,154.8 668.1,154.8 668.6,154.8 669.2,154.8 669.7,154.8 670.3,154.9 670.8,154.9 671.4,154.9 671.9,154.9 672.5,154.9 673.0,154.9 673.6,154.9 674.1,154.9 674.6,154.9 675.2,154.9 675.7,154.9 676.3,154.9 676.8,154.9 677.4,154.9 677.9,154.9 678.5,154.9 679.0,154.9 679.5,154.9 680.1,154.9 680.6,154.9 681.2,154.9 681.7,154.9 682.3,154.9 682.8,154.9 683.4,154.9" fill="none" stroke="#3838e6" stroke-width="1.05" stroke-linejoin="round" />
<polyline points="502.3,159.3 520.0,157.1 536.5,152.1 553.1,145.9 553.6,145.5 554.2,145.1 554.7,144.6 555.3,144.1 555.8,143.6 556.4,143.1 556.9,142.6 557.4,142.1 558.0,141.5 558.5,140.9 559.1,140.4 559.6,139.8 560.2,139.1 560.7,138.5 561.3,137.9 561.8,137.2 562.3,136.6 562.9,135.9 563.4,135.2 564.0,134.6 564.5,133.9 565.1,133.2 565.6,132.4 566.2,131.7 566.7,130.9 567.3,130.1 567.8,129.2 568.3,128.4 568.9,127.5 569.4,126.6 570.0,125.7 570.5,124.8 571.1,123.9 571.6,122.9 572.2,122.0 572.7,121.0 573.3,120.1 573.8,119.1 574.3,118.1 574.9,117.1 575.4,116.2 576.0,115.2 576.5,114.1 577.1,113.1 577.6,112.0 578.2,111.0 578.7,109.9 579.2,108.8 579.8,107.7 580.3,106.6 580.9,105.5 581.4,104.4 582.0,103.2 582.5,102.1 583.1,101.0 583.6,99.8 584.2,98.5 584.7,97.3 585.2,96.0 585.8,94.8 586.3,93.5 586.9,92.3 587.4,91.2 588.0,90.1 588.5,89.0 589.1,88.0 589.6,87.0 590.1,86.1 590.7,85.1 591.2,84.1 591.8,83.1 592.3,82.0 592.9,80.8 593.4,79.6 594.0,78.4 594.5,77.1 595.1,75.8 595.6,74.4 596.1,72.8 596.7,71.2 597.2,69.3 597.8,67.3 598.3,65.1 598.9,62.8 599.4,60.5 600.0,58.1 600.5,55.8 601.1,53.4 601.6,50.8 602.1,48.3 602.7,45.8 603.2,43.4 603.8,41.1 604.3,38.9 604.9,36.7 605.4,34.6 606.0,32.7 606.5,30.8 607.0,29.0 607.6,26.9 608.1,25.0 608.7,23.4 609.2,22.2 609.8,21.8 610.3,22.1 610.9,23.0 611.4,24.3 612.0,26.0 612.5,27.9 613.0,29.9 613.6,31.9 614.1,34.4 614.7,37.3 615.2,40.4 615.8,43.7 616.3,47.3 616.9,51.2 617.4,55.1 618.0,59.1 618.5,63.2 619.0,67.3 619.6,71.1 620.1,74.6 620.7,77.8 621.2,80.9 621.8,83.9 622.3,86.9 622.9,89.9 623.4,93.2 623.9,96.7 624.5,100.5 625.0,104.4 625.6,108.2 626.1,111.7 626.7,114.9 627.2,117.6 627.8,120.2 628.3,122.7 628.9,125.0 629.4,127.2 629.9,129.2 630.5,131.0 631.0,132.7 631.6,134.2 632.1,135.6 632.7,137.0 633.2,138.3 633.8,139.5 634.3,140.7 634.8,141.7 635.4,142.7 635.9,143.6 636.5,144.3 637.0,144.9 637.6,145.5 638.1,145.9 638.7,146.4 639.2,146.8 639.8,147.3 640.3,147.7 640.8,148.0 641.4,148.4 641.9,148.7 642.5,149.0 643.0,149.3 643.6,149.5 644.1,149.8 644.7,150.0 645.2,150.1 645.8,150.3 646.3,150.4 646.8,150.6 647.4,150.7 647.9,150.8 648.5,150.9 649.0,151.0 649.6,151.1 650.1,151.1 650.7,151.2 651.2,151.2 651.7,151.3 652.3,151.2 652.8,151.2 653.4,151.1 653.9,151.1 654.5,151.0 655.0,150.9 655.6,150.8 656.1,150.7 656.7,150.5 657.2,150.5 657.7,150.4 658.3,150.6 658.8,150.9 659.4,151.2 659.9,151.5 660.5,151.6 661.0,151.7 661.6,151.7 662.1,151.7 662.7,151.7 663.2,151.8 663.7,151.8 664.3,151.8 664.8,151.8 665.4,151.8 665.9,151.9 666.5,151.9 667.0,151.9 667.6,151.9 668.1,151.9 668.6,151.9 669.2,151.9 669.7,152.0 670.3,152.0 670.8,152.0 671.4,152.0 671.9,152.0 672.5,152.0 673.0,152.0 673.6,152.0 674.1,152.0 674.6,152.0 675.2,152.0 675.7,152.0 676.3,152.0 676.8,152.1 677.4,152.1 677.9,152.1 678.5,152.1 679.0,152.1 679.5,152.1 680.1,152.1 680.6,152.1 681.2,152.1 681.7,152.1 682.3,152.1 682.8,152.1 683.4,152.1" fill="none" stroke="#3c3cff" stroke-width="1.05" stroke-linejoin="round" />
</g>
<rect x="502.50" y="14.00" width="180.50" height="149.60" fill="none" stroke="#333" stroke-width="1.25"/>
<line x1="502.50" y1="161.50" x2="506.60" y2="161.50" stroke="#333" stroke-width="1.25"/>
<text x="498.00" y="165.90" font-size="11" text-anchor="end" font-weight="normal" fill="#1e1e1e" >0</text>
<line x1="502.50" y1="140.95" x2="505.10" y2="140.95" stroke="#333" stroke-width="1.25"/>
<line x1="502.50" y1="120.40" x2="506.60" y2="120.40" stroke="#333" stroke-width="1.25"/>
<text x="498.00" y="124.80" font-size="11" text-anchor="end" font-weight="normal" fill="#1e1e1e" >1</text>
<line x1="502.50" y1="99.85" x2="505.10" y2="99.85" stroke="#333" stroke-width="1.25"/>
<line x1="502.50" y1="79.30" x2="506.60" y2="79.30" stroke="#333" stroke-width="1.25"/>
<text x="498.00" y="83.70" font-size="11" text-anchor="end" font-weight="normal" fill="#1e1e1e" >2</text>
<line x1="502.50" y1="58.75" x2="505.10" y2="58.75" stroke="#333" stroke-width="1.25"/>
<line x1="502.50" y1="38.20" x2="506.60" y2="38.20" stroke="#333" stroke-width="1.25"/>
<text x="498.00" y="42.60" font-size="11" text-anchor="end" font-weight="normal" fill="#1e1e1e" >3</text>
<line x1="502.50" y1="17.65" x2="505.10" y2="17.65" stroke="#333" stroke-width="1.25"/>
<line x1="510.50" y1="163.60" x2="510.50" y2="159.80" stroke="#333" stroke-width="1.25"/>
<text x="510.50" y="175.80" font-size="11" text-anchor="middle" font-weight="normal" fill="#1e1e1e" >1.4</text>
<line x1="529.75" y1="163.60" x2="529.75" y2="161.00" stroke="#333" stroke-width="1.25"/>
<line x1="549.00" y1="163.60" x2="549.00" y2="159.80" stroke="#333" stroke-width="1.25"/>
<text x="549.00" y="175.80" font-size="11" text-anchor="middle" font-weight="normal" fill="#1e1e1e" >1.5</text>
<line x1="568.25" y1="163.60" x2="568.25" y2="161.00" stroke="#333" stroke-width="1.25"/>
<line x1="587.50" y1="163.60" x2="587.50" y2="159.80" stroke="#333" stroke-width="1.25"/>
<text x="587.50" y="175.80" font-size="11" text-anchor="middle" font-weight="normal" fill="#1e1e1e" >1.6</text>
<line x1="606.75" y1="163.60" x2="606.75" y2="161.00" stroke="#333" stroke-width="1.25"/>
<line x1="626.00" y1="163.60" x2="626.00" y2="159.80" stroke="#333" stroke-width="1.25"/>
<text x="626.00" y="175.80" font-size="11" text-anchor="middle" font-weight="normal" fill="#1e1e1e" >1.7</text>
<line x1="645.25" y1="163.60" x2="645.25" y2="161.00" stroke="#333" stroke-width="1.25"/>
<line x1="664.50" y1="163.60" x2="664.50" y2="159.80" stroke="#333" stroke-width="1.25"/>
<text x="664.50" y="175.80" font-size="11" text-anchor="middle" font-weight="normal" fill="#1e1e1e" >1.8</text>
<text x="592.75" y="190.00" font-size="11" text-anchor="middle" font-weight="normal" fill="#1e1e1e" >Energy (eV)</text>
<text x="0" y="0" font-size="11" text-anchor="middle" fill="#1e1e1e" transform="translate(473.10,89.00) rotate(-90)">PL Intensity (a.u.)</text>
<text x="464.00" y="12.70" font-size="11" text-anchor="start" font-weight="normal" fill="#1e1e1e" >c)</text>
<text x="503.50" y="10.40" font-size="11" text-anchor="start" font-weight="normal" fill="#1e1e1e" >·10<tspan font-size="7.5" dx="-0.4" dy="-4.6">4</tspan></text>
<rect x="40.80" y="213.00" width="180.40" height="149.60" fill="none" stroke="#333" stroke-width="1.25"/>
<line x1="50.47" y1="362.60" x2="50.47" y2="360.20" stroke="#333" stroke-width="1.25"/>
<line x1="58.82" y1="362.60" x2="58.82" y2="360.20" stroke="#333" stroke-width="1.25"/>
<line x1="65.87" y1="362.60" x2="65.87" y2="360.20" stroke="#333" stroke-width="1.25"/>
<line x1="71.99" y1="362.60" x2="71.99" y2="360.20" stroke="#333" stroke-width="1.25"/>
<line x1="77.38" y1="362.60" x2="77.38" y2="360.20" stroke="#333" stroke-width="1.25"/>
<line x1="82.20" y1="362.60" x2="82.20" y2="358.80" stroke="#333" stroke-width="1.25"/>
<text x="82.50" y="375.90" font-size="11" text-anchor="middle" font-weight="normal" fill="#1e1e1e" >10<tspan font-size="7.5" dy="-3.9">2</tspan></text>
<line x1="113.93" y1="362.60" x2="113.93" y2="360.20" stroke="#333" stroke-width="1.25"/>
<line x1="132.49" y1="362.60" x2="132.49" y2="360.20" stroke="#333" stroke-width="1.25"/>
<line x1="145.66" y1="362.60" x2="145.66" y2="360.20" stroke="#333" stroke-width="1.25"/>
<line x1="155.87" y1="362.60" x2="155.87" y2="360.20" stroke="#333" stroke-width="1.25"/>
<line x1="164.22" y1="362.60" x2="164.22" y2="360.20" stroke="#333" stroke-width="1.25"/>
<line x1="171.27" y1="362.60" x2="171.27" y2="360.20" stroke="#333" stroke-width="1.25"/>
<line x1="177.39" y1="362.60" x2="177.39" y2="360.20" stroke="#333" stroke-width="1.25"/>
<line x1="182.78" y1="362.60" x2="182.78" y2="360.20" stroke="#333" stroke-width="1.25"/>
<line x1="187.60" y1="362.60" x2="187.60" y2="358.80" stroke="#333" stroke-width="1.25"/>
<text x="187.90" y="375.90" font-size="11" text-anchor="middle" font-weight="normal" fill="#1e1e1e" >10<tspan font-size="7.5" dy="-3.9">3</tspan></text>
<line x1="219.33" y1="362.60" x2="219.33" y2="360.20" stroke="#333" stroke-width="1.25"/>
<line x1="40.80" y1="347.63" x2="43.00" y2="347.63" stroke="#333" stroke-width="1.25"/>
<line x1="40.80" y1="337.11" x2="43.00" y2="337.11" stroke="#333" stroke-width="1.25"/>
<line x1="40.80" y1="328.95" x2="43.00" y2="328.95" stroke="#333" stroke-width="1.25"/>
<line x1="40.80" y1="322.28" x2="43.00" y2="322.28" stroke="#333" stroke-width="1.25"/>
<line x1="40.80" y1="316.64" x2="43.00" y2="316.64" stroke="#333" stroke-width="1.25"/>
<line x1="40.80" y1="311.76" x2="43.00" y2="311.76" stroke="#333" stroke-width="1.25"/>
<line x1="40.80" y1="307.45" x2="43.00" y2="307.45" stroke="#333" stroke-width="1.25"/>
<line x1="40.80" y1="303.60" x2="44.40" y2="303.60" stroke="#333" stroke-width="1.25"/>
<text x="32.50" y="308.30" font-size="11" text-anchor="end" font-weight="normal" fill="#1e1e1e" >10</text>
<text x="32.20" y="304.50" font-size="7.5" text-anchor="start" font-weight="normal" fill="#1e1e1e" >5</text>
<line x1="40.80" y1="278.25" x2="43.00" y2="278.25" stroke="#333" stroke-width="1.25"/>
<line x1="40.80" y1="263.43" x2="43.00" y2="263.43" stroke="#333" stroke-width="1.25"/>
<line x1="40.80" y1="252.91" x2="43.00" y2="252.91" stroke="#333" stroke-width="1.25"/>
<line x1="40.80" y1="244.75" x2="43.00" y2="244.75" stroke="#333" stroke-width="1.25"/>
<line x1="40.80" y1="238.08" x2="43.00" y2="238.08" stroke="#333" stroke-width="1.25"/>
<line x1="40.80" y1="232.44" x2="43.00" y2="232.44" stroke="#333" stroke-width="1.25"/>
<line x1="40.80" y1="227.56" x2="43.00" y2="227.56" stroke="#333" stroke-width="1.25"/>
<line x1="40.80" y1="223.25" x2="43.00" y2="223.25" stroke="#333" stroke-width="1.25"/>
<line x1="40.80" y1="219.40" x2="44.40" y2="219.40" stroke="#333" stroke-width="1.25"/>
<text x="32.50" y="224.10" font-size="11" text-anchor="end" font-weight="normal" fill="#1e1e1e" >10</text>
<text x="32.20" y="220.30" font-size="7.5" text-anchor="start" font-weight="normal" fill="#1e1e1e" >6</text>
<text x="131.00" y="388.80" font-size="11" text-anchor="middle" font-weight="normal" fill="#1e1e1e" >Power (µW)</text>
<line x1="50.80" y1="351.60" x2="214.20" y2="242.80" stroke="#111" stroke-width="1.8"/>
<line x1="50.50" y1="350.80" x2="214.60" y2="219.00" stroke="#e8284a" stroke-width="1.8"/>
<rect x="48.58" y="346.00" width="5.6" height="5.6" fill="none" stroke="#e8284a" stroke-width="0.95"/>
<circle cx="51.38" cy="352.40" r="2.9" fill="none" stroke="#111" stroke-width="0.95"/>
<rect x="62.41" y="336.80" width="5.6" height="5.6" fill="none" stroke="#e8284a" stroke-width="0.95"/>
<circle cx="65.21" cy="339.60" r="2.9" fill="none" stroke="#111" stroke-width="0.95"/>
<rect x="74.07" y="327.80" width="5.6" height="5.6" fill="none" stroke="#e8284a" stroke-width="0.95"/>
<circle cx="76.87" cy="330.20" r="2.9" fill="none" stroke="#111" stroke-width="0.95"/>
<rect x="85.40" y="318.40" width="5.6" height="5.6" fill="none" stroke="#e8284a" stroke-width="0.95"/>
<circle cx="88.20" cy="321.80" r="2.9" fill="none" stroke="#111" stroke-width="0.95"/>
<rect x="96.41" y="310.20" width="5.6" height="5.6" fill="none" stroke="#e8284a" stroke-width="0.95"/>
<circle cx="99.21" cy="312.40" r="2.9" fill="none" stroke="#111" stroke-width="0.95"/>
<rect x="106.31" y="301.70" width="5.6" height="5.6" fill="none" stroke="#e8284a" stroke-width="0.95"/>
<circle cx="109.11" cy="308.30" r="2.9" fill="none" stroke="#111" stroke-width="0.95"/>
<rect x="116.93" y="294.70" width="5.6" height="5.6" fill="none" stroke="#e8284a" stroke-width="0.95"/>
<circle cx="119.73" cy="302.20" r="2.9" fill="none" stroke="#111" stroke-width="0.95"/>
<rect x="124.70" y="288.20" width="5.6" height="5.6" fill="none" stroke="#e8284a" stroke-width="0.95"/>
<circle cx="127.50" cy="299.60" r="2.9" fill="none" stroke="#111" stroke-width="0.95"/>
<rect x="136.88" y="277.20" width="5.6" height="5.6" fill="none" stroke="#e8284a" stroke-width="0.95"/>
<circle cx="139.68" cy="292.40" r="2.9" fill="none" stroke="#111" stroke-width="0.95"/>
<rect x="146.38" y="269.80" width="5.6" height="5.6" fill="none" stroke="#e8284a" stroke-width="0.95"/>
<circle cx="149.18" cy="285.60" r="2.9" fill="none" stroke="#111" stroke-width="0.95"/>
<rect x="156.93" y="260.70" width="5.6" height="5.6" fill="none" stroke="#e8284a" stroke-width="0.95"/>
<circle cx="159.73" cy="279.00" r="2.9" fill="none" stroke="#111" stroke-width="0.95"/>
<rect x="168.47" y="250.80" width="5.6" height="5.6" fill="none" stroke="#e8284a" stroke-width="0.95"/>
<circle cx="171.27" cy="270.00" r="2.9" fill="none" stroke="#111" stroke-width="0.95"/>
<rect x="179.57" y="242.60" width="5.6" height="5.6" fill="none" stroke="#e8284a" stroke-width="0.95"/>
<circle cx="182.37" cy="262.00" r="2.9" fill="none" stroke="#111" stroke-width="0.95"/>
<rect x="193.37" y="231.60" width="5.6" height="5.6" fill="none" stroke="#e8284a" stroke-width="0.95"/>
<circle cx="196.17" cy="253.00" r="2.9" fill="none" stroke="#111" stroke-width="0.95"/>
<rect x="209.09" y="219.20" width="5.6" height="5.6" fill="none" stroke="#e8284a" stroke-width="0.95"/>
<circle cx="211.89" cy="244.20" r="2.9" fill="none" stroke="#111" stroke-width="0.95"/>
<text x="109.00" y="243.00" font-size="11.2" text-anchor="start" font-weight="bold" fill="#e8284a" >Slope 1.04</text>
<text x="109.00" y="257.20" font-size="11.2" text-anchor="start" font-weight="bold" fill="#e8284a" >Trion (T)</text>
<text x="152.00" y="300.00" font-size="11.2" text-anchor="start" font-weight="bold" fill="#111" >Exciton (X<tspan font-size="7.5" dx="0.3" dy="-5.3">0</tspan><tspan dx="0.3" dy="5.3">)</tspan></text>
<text x="128.00" y="315.60" font-size="11.2" text-anchor="start" font-weight="bold" fill="#111" >Slope 0.81</text>
<text x="0" y="0" font-size="11" text-anchor="middle" fill="#1e1e1e" transform="translate(10.10,287.20) rotate(-90)">PL Intensity (a.u.)</text>
<text x="0.50" y="212.30" font-size="11" text-anchor="start" font-weight="normal" fill="#1e1e1e" >d)</text>
<rect x="278.50" y="213.00" width="180.10" height="149.50" fill="none" stroke="#333" stroke-width="1.25"/>
<line x1="288.91" y1="362.50" x2="288.91" y2="360.10" stroke="#333" stroke-width="1.25"/>
<line x1="297.35" y1="362.50" x2="297.35" y2="360.10" stroke="#333" stroke-width="1.25"/>
<line x1="304.49" y1="362.50" x2="304.49" y2="360.10" stroke="#333" stroke-width="1.25"/>
<line x1="310.67" y1="362.50" x2="310.67" y2="360.10" stroke="#333" stroke-width="1.25"/>
<line x1="316.12" y1="362.50" x2="316.12" y2="360.10" stroke="#333" stroke-width="1.25"/>
<line x1="321.00" y1="362.50" x2="321.00" y2="358.70" stroke="#333" stroke-width="1.25"/>
<text x="321.30" y="375.80" font-size="11" text-anchor="middle" font-weight="normal" fill="#1e1e1e" >10<tspan font-size="7.5" dy="-3.9">2</tspan></text>
<line x1="353.09" y1="362.50" x2="353.09" y2="360.10" stroke="#333" stroke-width="1.25"/>
<line x1="371.86" y1="362.50" x2="371.86" y2="360.10" stroke="#333" stroke-width="1.25"/>
<line x1="385.18" y1="362.50" x2="385.18" y2="360.10" stroke="#333" stroke-width="1.25"/>
<line x1="395.51" y1="362.50" x2="395.51" y2="360.10" stroke="#333" stroke-width="1.25"/>
<line x1="403.95" y1="362.50" x2="403.95" y2="360.10" stroke="#333" stroke-width="1.25"/>
<line x1="411.09" y1="362.50" x2="411.09" y2="360.10" stroke="#333" stroke-width="1.25"/>
<line x1="417.27" y1="362.50" x2="417.27" y2="360.10" stroke="#333" stroke-width="1.25"/>
<line x1="422.72" y1="362.50" x2="422.72" y2="360.10" stroke="#333" stroke-width="1.25"/>
<line x1="427.60" y1="362.50" x2="427.60" y2="358.70" stroke="#333" stroke-width="1.25"/>
<text x="427.90" y="375.80" font-size="11" text-anchor="middle" font-weight="normal" fill="#1e1e1e" >10<tspan font-size="7.5" dy="-3.9">3</tspan></text>
<line x1="278.50" y1="358.41" x2="280.70" y2="358.41" stroke="#333" stroke-width="1.25"/>
<line x1="278.50" y1="354.60" x2="282.10" y2="354.60" stroke="#333" stroke-width="1.25"/>
<text x="270.20" y="359.30" font-size="11" text-anchor="end" font-weight="normal" fill="#1e1e1e" >10</text>
<text x="269.90" y="355.50" font-size="7.5" text-anchor="start" font-weight="normal" fill="#1e1e1e" >4</text>
<line x1="278.50" y1="329.55" x2="280.70" y2="329.55" stroke="#333" stroke-width="1.25"/>
<line x1="278.50" y1="314.90" x2="280.70" y2="314.90" stroke="#333" stroke-width="1.25"/>
<line x1="278.50" y1="304.51" x2="280.70" y2="304.51" stroke="#333" stroke-width="1.25"/>
<line x1="278.50" y1="296.45" x2="280.70" y2="296.45" stroke="#333" stroke-width="1.25"/>
<line x1="278.50" y1="289.86" x2="280.70" y2="289.86" stroke="#333" stroke-width="1.25"/>
<line x1="278.50" y1="284.29" x2="280.70" y2="284.29" stroke="#333" stroke-width="1.25"/>
<line x1="278.50" y1="279.46" x2="280.70" y2="279.46" stroke="#333" stroke-width="1.25"/>
<line x1="278.50" y1="275.21" x2="280.70" y2="275.21" stroke="#333" stroke-width="1.25"/>
<line x1="278.50" y1="271.40" x2="282.10" y2="271.40" stroke="#333" stroke-width="1.25"/>
<text x="270.20" y="276.10" font-size="11" text-anchor="end" font-weight="normal" fill="#1e1e1e" >10</text>
<text x="269.90" y="272.30" font-size="7.5" text-anchor="start" font-weight="normal" fill="#1e1e1e" >5</text>
<line x1="278.50" y1="246.35" x2="280.70" y2="246.35" stroke="#333" stroke-width="1.25"/>
<line x1="278.50" y1="231.70" x2="280.70" y2="231.70" stroke="#333" stroke-width="1.25"/>
<line x1="278.50" y1="221.31" x2="280.70" y2="221.31" stroke="#333" stroke-width="1.25"/>
<text x="368.50" y="388.80" font-size="11" text-anchor="middle" font-weight="normal" fill="#1e1e1e" >Power (µW)</text>
<line x1="287.80" y1="352.60" x2="454.90" y2="220.80" stroke="#ee2ecb" stroke-width="2.0"/>
<path d="M289.83,348.90 L292.63,353.60 L287.03,353.60 Z" fill="none" stroke="#111" stroke-width="1.15"/>
<path d="M303.82,337.86 L306.62,342.56 L301.02,342.56 Z" fill="none" stroke="#111" stroke-width="1.15"/>
<path d="M315.60,328.56 L318.40,333.26 L312.80,333.26 Z" fill="none" stroke="#111" stroke-width="1.15"/>
<path d="M327.07,319.52 L329.87,324.22 L324.27,324.22 Z" fill="none" stroke="#111" stroke-width="1.15"/>
<path d="M338.20,310.73 L341.00,315.43 L335.40,315.43 Z" fill="none" stroke="#111" stroke-width="1.15"/>
<path d="M348.21,302.83 L351.01,307.53 L345.41,307.53 Z" fill="none" stroke="#111" stroke-width="1.15"/>
<path d="M358.95,294.36 L361.75,299.06 L356.15,299.06 Z" fill="none" stroke="#111" stroke-width="1.15"/>
<path d="M366.81,288.16 L369.61,292.86 L364.01,292.86 Z" fill="none" stroke="#111" stroke-width="1.15"/>
<path d="M379.13,278.44 L381.93,283.14 L376.33,283.14 Z" fill="none" stroke="#111" stroke-width="1.15"/>
<path d="M388.74,270.86 L391.54,275.56 L385.94,275.56 Z" fill="none" stroke="#111" stroke-width="1.15"/>
<path d="M399.41,262.44 L402.21,267.14 L396.61,267.14 Z" fill="none" stroke="#111" stroke-width="1.15"/>
<path d="M411.09,253.23 L413.89,257.93 L408.29,257.93 Z" fill="none" stroke="#111" stroke-width="1.15"/>
<path d="M422.31,244.37 L425.11,249.07 L419.51,249.07 Z" fill="none" stroke="#111" stroke-width="1.15"/>
<path d="M436.27,233.36 L439.07,238.06 L433.47,238.06 Z" fill="none" stroke="#111" stroke-width="1.15"/>
<path d="M452.17,220.82 L454.97,225.52 L449.37,225.52 Z" fill="none" stroke="#111" stroke-width="1.15"/>
<text x="346.00" y="243.00" font-size="11.1" text-anchor="start" font-weight="bold" fill="#ee2ecb" >Slope 1.01</text>
<text x="0" y="0" font-size="11" text-anchor="middle" fill="#1e1e1e" transform="translate(249.00,287.20) rotate(-90)">PL Intensity (a.u.)</text>
<text x="228.00" y="212.30" font-size="11" text-anchor="start" font-weight="normal" fill="#1e1e1e" >e)</text>
<rect x="502.00" y="213.00" width="180.40" height="149.60" fill="none" stroke="#333" stroke-width="1.25"/>
<line x1="512.17" y1="362.60" x2="512.17" y2="360.20" stroke="#333" stroke-width="1.25"/>
<line x1="520.60" y1="362.60" x2="520.60" y2="360.20" stroke="#333" stroke-width="1.25"/>
<line x1="527.72" y1="362.60" x2="527.72" y2="360.20" stroke="#333" stroke-width="1.25"/>
<line x1="533.89" y1="362.60" x2="533.89" y2="360.20" stroke="#333" stroke-width="1.25"/>
<line x1="539.33" y1="362.60" x2="539.33" y2="360.20" stroke="#333" stroke-width="1.25"/>
<line x1="544.20" y1="362.60" x2="544.20" y2="358.80" stroke="#333" stroke-width="1.25"/>
<text x="544.50" y="375.90" font-size="11" text-anchor="middle" font-weight="normal" fill="#1e1e1e" >10<tspan font-size="7.5" dy="-3.9">2</tspan></text>
<line x1="576.23" y1="362.60" x2="576.23" y2="360.20" stroke="#333" stroke-width="1.25"/>
<line x1="594.97" y1="362.60" x2="594.97" y2="360.20" stroke="#333" stroke-width="1.25"/>
<line x1="608.26" y1="362.60" x2="608.26" y2="360.20" stroke="#333" stroke-width="1.25"/>
<line x1="618.57" y1="362.60" x2="618.57" y2="360.20" stroke="#333" stroke-width="1.25"/>
<line x1="627.00" y1="362.60" x2="627.00" y2="360.20" stroke="#333" stroke-width="1.25"/>
<line x1="634.12" y1="362.60" x2="634.12" y2="360.20" stroke="#333" stroke-width="1.25"/>
<line x1="640.29" y1="362.60" x2="640.29" y2="360.20" stroke="#333" stroke-width="1.25"/>
<line x1="645.73" y1="362.60" x2="645.73" y2="360.20" stroke="#333" stroke-width="1.25"/>
<line x1="650.60" y1="362.60" x2="650.60" y2="358.80" stroke="#333" stroke-width="1.25"/>
<text x="650.90" y="375.90" font-size="11" text-anchor="middle" font-weight="normal" fill="#1e1e1e" >10<tspan font-size="7.5" dy="-3.9">3</tspan></text>
<line x1="502.00" y1="352.31" x2="504.20" y2="352.31" stroke="#333" stroke-width="1.25"/>
<line x1="502.00" y1="344.34" x2="504.20" y2="344.34" stroke="#333" stroke-width="1.25"/>
<line x1="502.00" y1="337.84" x2="504.20" y2="337.84" stroke="#333" stroke-width="1.25"/>
<line x1="502.00" y1="332.33" x2="504.20" y2="332.33" stroke="#333" stroke-width="1.25"/>
<line x1="502.00" y1="327.57" x2="504.20" y2="327.57" stroke="#333" stroke-width="1.25"/>
<line x1="502.00" y1="323.36" x2="504.20" y2="323.36" stroke="#333" stroke-width="1.25"/>
<line x1="502.00" y1="319.60" x2="505.60" y2="319.60" stroke="#333" stroke-width="1.25"/>
<text x="493.70" y="324.30" font-size="11" text-anchor="end" font-weight="normal" fill="#1e1e1e" >10</text>
<text x="493.40" y="320.50" font-size="7.5" text-anchor="start" font-weight="normal" fill="#1e1e1e" >5</text>
<line x1="502.00" y1="294.86" x2="504.20" y2="294.86" stroke="#333" stroke-width="1.25"/>
<line x1="502.00" y1="280.38" x2="504.20" y2="280.38" stroke="#333" stroke-width="1.25"/>
<line x1="502.00" y1="270.11" x2="504.20" y2="270.11" stroke="#333" stroke-width="1.25"/>
<line x1="502.00" y1="262.14" x2="504.20" y2="262.14" stroke="#333" stroke-width="1.25"/>
<line x1="502.00" y1="255.64" x2="504.20" y2="255.64" stroke="#333" stroke-width="1.25"/>
<line x1="502.00" y1="250.13" x2="504.20" y2="250.13" stroke="#333" stroke-width="1.25"/>
<line x1="502.00" y1="245.37" x2="504.20" y2="245.37" stroke="#333" stroke-width="1.25"/>
<line x1="502.00" y1="241.16" x2="504.20" y2="241.16" stroke="#333" stroke-width="1.25"/>
<line x1="502.00" y1="237.40" x2="505.60" y2="237.40" stroke="#333" stroke-width="1.25"/>
<text x="493.70" y="242.10" font-size="11" text-anchor="end" font-weight="normal" fill="#1e1e1e" >10</text>
<text x="493.40" y="238.30" font-size="7.5" text-anchor="start" font-weight="normal" fill="#1e1e1e" >6</text>
<text x="592.00" y="388.80" font-size="11" text-anchor="middle" font-weight="normal" fill="#1e1e1e" >Power (µW)</text>
<line x1="511.70" y1="348.10" x2="676.40" y2="215.70" stroke="#16936a" stroke-width="1.9"/>
<path d="M513.09,344.20 L515.09,347.00 L513.09,349.80 L511.09,347.00 Z" fill="none" stroke="#111" stroke-width="0.95"/>
<path d="M527.05,333.50 L529.05,336.30 L527.05,339.10 L525.05,336.30 Z" fill="none" stroke="#111" stroke-width="0.95"/>
<path d="M538.82,322.90 L540.82,325.70 L538.82,328.50 L536.82,325.70 Z" fill="none" stroke="#111" stroke-width="0.95"/>
<path d="M550.25,313.40 L552.25,316.20 L550.25,319.00 L548.25,316.20 Z" fill="none" stroke="#111" stroke-width="0.95"/>
<path d="M561.37,303.50 L563.37,306.30 L561.37,309.10 L559.37,306.30 Z" fill="none" stroke="#111" stroke-width="0.95"/>
<path d="M582.08,285.80 L584.08,288.60 L582.08,291.40 L580.08,288.60 Z" fill="none" stroke="#111" stroke-width="0.95"/>
<path d="M589.93,279.60 L591.93,282.40 L589.93,285.20 L587.93,282.40 Z" fill="none" stroke="#111" stroke-width="0.95"/>
<path d="M602.22,269.60 L604.22,272.40 L602.22,275.20 L600.22,272.40 Z" fill="none" stroke="#111" stroke-width="0.95"/>
<path d="M611.82,263.20 L613.82,266.00 L611.82,268.80 L609.82,266.00 Z" fill="none" stroke="#111" stroke-width="0.95"/>
<path d="M622.47,257.60 L624.47,260.40 L622.47,263.20 L620.47,260.40 Z" fill="none" stroke="#111" stroke-width="0.95"/>
<path d="M634.12,247.70 L636.12,250.50 L634.12,253.30 L632.12,250.50 Z" fill="none" stroke="#111" stroke-width="0.95"/>
<path d="M645.32,237.70 L647.32,240.50 L645.32,243.30 L643.32,240.50 Z" fill="none" stroke="#111" stroke-width="0.95"/>
<path d="M659.26,226.30 L661.26,229.10 L659.26,231.90 L657.26,229.10 Z" fill="none" stroke="#111" stroke-width="0.95"/>
<path d="M675.12,214.60 L677.12,217.40 L675.12,220.20 L673.12,217.40 Z" fill="none" stroke="#111" stroke-width="0.95"/>
<text x="567.20" y="243.00" font-size="11.25" text-anchor="start" font-weight="bold" fill="#16936a" >Slope 1.03</text>
<text x="0" y="0" font-size="11" text-anchor="middle" fill="#1e1e1e" transform="translate(473.10,287.20) rotate(-90)">PL Intensity (a.u.)</text>
<text x="464.00" y="212.30" font-size="11" text-anchor="start" font-weight="normal" fill="#1e1e1e" >f)</text>
</svg>
</body></html>
